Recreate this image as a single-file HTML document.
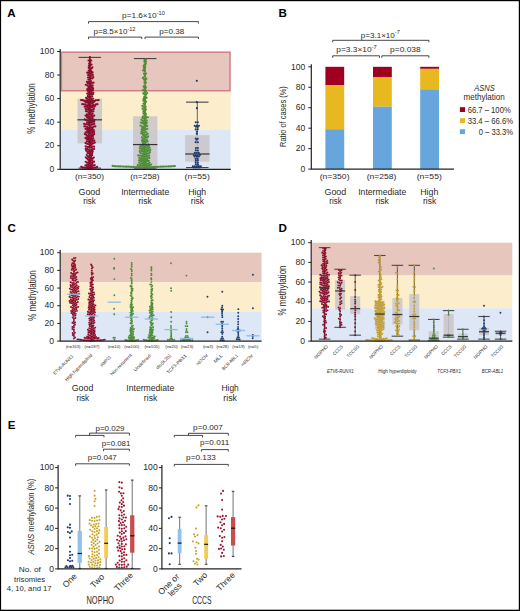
<!DOCTYPE html>
<html><head><meta charset="utf-8"><style>
html,body{margin:0;padding:0;background:#fff;}
svg{display:block;font-family:"Liberation Sans", sans-serif;}
</style></head><body>
<svg width="520" height="611" viewBox="0 0 520 611">
<rect width="520" height="611" fill="#fff"/>
<rect x="0" y="0" width="520" height="1.2" fill="#000"/>
<rect x="0" y="609.7" width="520" height="1.3" fill="#000"/>
<rect x="0" y="0" width="1.1" height="611" fill="#000"/>
<rect x="518.8" y="0" width="1.2" height="611" fill="#000"/>
<text x="7.2" y="16.8" font-size="11.6" fill="#000" font-weight="bold">A</text>
<rect x="60.8" y="90.73" width="169.8" height="39.35" fill="#fcedcc"/>
<rect x="60.8" y="130.07" width="169.8" height="39.23" fill="#dde7f5"/>
<rect x="61.4" y="52.2" width="168.6" height="38.53" fill="#e6c6bd" stroke="#d27d88" stroke-width="1.5"/>
<line x1="89.8" y1="57.39" x2="89.8" y2="168.12" stroke="#555" stroke-width="0.9"/>
<rect x="77.55" y="98.62" width="24.5" height="44.76" fill="#c9c4c8" fill-opacity="0.85"/>
<line x1="78.55" y1="57.39" x2="101.05" y2="57.39" stroke="#444" stroke-width="1.1"/>
<line x1="78.55" y1="168.12" x2="101.05" y2="168.12" stroke="#444" stroke-width="1.1"/>
<line x1="145.2" y1="58.57" x2="145.2" y2="168.12" stroke="#555" stroke-width="0.9"/>
<rect x="133.05" y="116.29" width="24.3" height="49.48" fill="#c9c4c8" fill-opacity="0.85"/>
<line x1="133.95" y1="58.57" x2="156.45" y2="58.57" stroke="#444" stroke-width="1.1"/>
<line x1="133.95" y1="168.12" x2="156.45" y2="168.12" stroke="#444" stroke-width="1.1"/>
<line x1="197.3" y1="102.15" x2="197.3" y2="167.53" stroke="#555" stroke-width="0.9"/>
<rect x="185.15" y="135.14" width="24.3" height="26.5" fill="#c9c4c8" fill-opacity="0.85"/>
<line x1="186.05" y1="102.15" x2="208.55" y2="102.15" stroke="#444" stroke-width="1.1"/>
<line x1="186.05" y1="167.53" x2="208.55" y2="167.53" stroke="#444" stroke-width="1.1"/>
<circle cx="89.9" cy="168.69" r="1.1" fill="#8a0a2a"/>
<circle cx="88.4" cy="168.62" r="1.1" fill="#8a0a2a"/>
<circle cx="91.38" cy="168.42" r="1.1" fill="#8a0a2a"/>
<circle cx="87.09" cy="167.89" r="1.1" fill="#8a0a2a"/>
<circle cx="92.75" cy="167.82" r="1.1" fill="#8a0a2a"/>
<circle cx="85.6" cy="167.76" r="1.1" fill="#8a0a2a"/>
<circle cx="94.23" cy="167.61" r="1.1" fill="#8a0a2a"/>
<circle cx="84.11" cy="167.57" r="1.1" fill="#8a0a2a"/>
<circle cx="95.73" cy="167.55" r="1.1" fill="#8a0a2a"/>
<circle cx="82.61" cy="167.44" r="1.1" fill="#8a0a2a"/>
<circle cx="89.23" cy="167.35" r="1.1" fill="#8a0a2a"/>
<circle cx="90.69" cy="167" r="1.1" fill="#8a0a2a"/>
<circle cx="97.11" cy="166.97" r="1.1" fill="#8a0a2a"/>
<circle cx="81.24" cy="166.85" r="1.1" fill="#8a0a2a"/>
<circle cx="88.23" cy="166.23" r="1.1" fill="#8a0a2a"/>
<circle cx="91.91" cy="166.13" r="1.1" fill="#8a0a2a"/>
<circle cx="86.74" cy="166.04" r="1.1" fill="#8a0a2a"/>
<circle cx="89.9" cy="165.57" r="1.1" fill="#8a0a2a"/>
<circle cx="93.26" cy="165.48" r="1.1" fill="#8a0a2a"/>
<circle cx="85.43" cy="165.32" r="1.1" fill="#8a0a2a"/>
<circle cx="94.7" cy="165.08" r="1.1" fill="#8a0a2a"/>
<circle cx="91.14" cy="164.73" r="1.1" fill="#8a0a2a"/>
<circle cx="88.72" cy="164.64" r="1.1" fill="#8a0a2a"/>
<circle cx="87.23" cy="164.49" r="1.1" fill="#8a0a2a"/>
<circle cx="92.35" cy="163.84" r="1.1" fill="#8a0a2a"/>
<circle cx="89.9" cy="163.34" r="1.1" fill="#8a0a2a"/>
<circle cx="88.46" cy="162.9" r="1.1" fill="#8a0a2a"/>
<circle cx="91.22" cy="162.62" r="1.1" fill="#8a0a2a"/>
<circle cx="87.01" cy="162.53" r="1.1" fill="#8a0a2a"/>
<circle cx="92.68" cy="162.31" r="1.1" fill="#8a0a2a"/>
<circle cx="89.66" cy="161.86" r="1.1" fill="#8a0a2a"/>
<circle cx="85.72" cy="161.77" r="1.1" fill="#8a0a2a"/>
<circle cx="94.05" cy="161.7" r="1.1" fill="#8a0a2a"/>
<circle cx="90.72" cy="160.8" r="1.1" fill="#8a0a2a"/>
<circle cx="88.78" cy="160.65" r="1.1" fill="#8a0a2a"/>
<circle cx="92.16" cy="160.38" r="1.1" fill="#8a0a2a"/>
<circle cx="89.9" cy="159.51" r="1.1" fill="#8a0a2a"/>
<circle cx="87.94" cy="159.4" r="1.1" fill="#8a0a2a"/>
<circle cx="91.29" cy="158.95" r="1.1" fill="#8a0a2a"/>
<circle cx="92.74" cy="158.54" r="1.1" fill="#8a0a2a"/>
<circle cx="86.89" cy="158.33" r="1.1" fill="#8a0a2a"/>
<circle cx="89.9" cy="157.71" r="1.1" fill="#8a0a2a"/>
<circle cx="88.41" cy="157.54" r="1.1" fill="#8a0a2a"/>
<circle cx="93.81" cy="157.5" r="1.1" fill="#8a0a2a"/>
<circle cx="91.36" cy="157.35" r="1.1" fill="#8a0a2a"/>
<circle cx="85.8" cy="157.31" r="1.1" fill="#8a0a2a"/>
<circle cx="89.33" cy="156.32" r="1.1" fill="#8a0a2a"/>
<circle cx="87.86" cy="156.01" r="1.1" fill="#8a0a2a"/>
<circle cx="90.79" cy="155.95" r="1.1" fill="#8a0a2a"/>
<circle cx="92.1" cy="155.22" r="1.1" fill="#8a0a2a"/>
<circle cx="86.76" cy="154.99" r="1.1" fill="#8a0a2a"/>
<circle cx="89.9" cy="154.47" r="1.1" fill="#8a0a2a"/>
<circle cx="91.29" cy="153.91" r="1.1" fill="#8a0a2a"/>
<circle cx="88.91" cy="153.35" r="1.1" fill="#8a0a2a"/>
<circle cx="87.45" cy="153" r="1.1" fill="#8a0a2a"/>
<circle cx="92.37" cy="152.87" r="1.1" fill="#8a0a2a"/>
<circle cx="90.2" cy="152.58" r="1.1" fill="#8a0a2a"/>
<circle cx="89" cy="151.67" r="1.1" fill="#8a0a2a"/>
<circle cx="91.22" cy="151.49" r="1.1" fill="#8a0a2a"/>
<circle cx="87.54" cy="151.35" r="1.1" fill="#8a0a2a"/>
<circle cx="92.69" cy="151.19" r="1.1" fill="#8a0a2a"/>
<circle cx="86.2" cy="150.67" r="1.1" fill="#8a0a2a"/>
<circle cx="89.9" cy="150.28" r="1.1" fill="#8a0a2a"/>
<circle cx="91.35" cy="149.9" r="1.1" fill="#8a0a2a"/>
<circle cx="88.59" cy="149.56" r="1.1" fill="#8a0a2a"/>
<circle cx="92.56" cy="149.02" r="1.1" fill="#8a0a2a"/>
<circle cx="87.21" cy="148.96" r="1.1" fill="#8a0a2a"/>
<circle cx="94.06" cy="148.95" r="1.1" fill="#8a0a2a"/>
<circle cx="85.71" cy="148.9" r="1.1" fill="#8a0a2a"/>
<circle cx="89.9" cy="147.61" r="1.1" fill="#8a0a2a"/>
<circle cx="91.39" cy="147.45" r="1.1" fill="#8a0a2a"/>
<circle cx="88.6" cy="146.87" r="1.1" fill="#8a0a2a"/>
<circle cx="87.1" cy="146.79" r="1.1" fill="#8a0a2a"/>
<circle cx="92.59" cy="146.55" r="1.1" fill="#8a0a2a"/>
<circle cx="94.09" cy="146.53" r="1.1" fill="#8a0a2a"/>
<circle cx="85.65" cy="146.39" r="1.1" fill="#8a0a2a"/>
<circle cx="89.9" cy="145.93" r="1.1" fill="#8a0a2a"/>
<circle cx="91.11" cy="145.04" r="1.1" fill="#8a0a2a"/>
<circle cx="89.8" cy="144.31" r="1.1" fill="#8a0a2a"/>
<circle cx="88.3" cy="144.23" r="1.1" fill="#8a0a2a"/>
<circle cx="92.14" cy="143.95" r="1.1" fill="#8a0a2a"/>
<circle cx="86.92" cy="143.65" r="1.1" fill="#8a0a2a"/>
<circle cx="93.46" cy="143.23" r="1.1" fill="#8a0a2a"/>
<circle cx="90.64" cy="143.06" r="1.1" fill="#8a0a2a"/>
<circle cx="85.54" cy="143.05" r="1.1" fill="#8a0a2a"/>
<circle cx="89.17" cy="142.79" r="1.1" fill="#8a0a2a"/>
<circle cx="94.79" cy="142.54" r="1.1" fill="#8a0a2a"/>
<circle cx="91.75" cy="142.05" r="1.1" fill="#8a0a2a"/>
<circle cx="90.1" cy="141.62" r="1.1" fill="#8a0a2a"/>
<circle cx="88.23" cy="141.61" r="1.1" fill="#8a0a2a"/>
<circle cx="86.76" cy="141.36" r="1.1" fill="#8a0a2a"/>
<circle cx="92.77" cy="140.95" r="1.1" fill="#8a0a2a"/>
<circle cx="94.24" cy="140.66" r="1.1" fill="#8a0a2a"/>
<circle cx="89.27" cy="140.37" r="1.1" fill="#8a0a2a"/>
<circle cx="90.75" cy="140.1" r="1.1" fill="#8a0a2a"/>
<circle cx="87.94" cy="139.68" r="1.1" fill="#8a0a2a"/>
<circle cx="92.14" cy="139.56" r="1.1" fill="#8a0a2a"/>
<circle cx="86.59" cy="139.01" r="1.1" fill="#8a0a2a"/>
<circle cx="89.9" cy="138.68" r="1.1" fill="#8a0a2a"/>
<circle cx="93.17" cy="138.47" r="1.1" fill="#8a0a2a"/>
<circle cx="91.32" cy="138.18" r="1.1" fill="#8a0a2a"/>
<circle cx="88.5" cy="138.14" r="1.1" fill="#8a0a2a"/>
<circle cx="85.51" cy="137.97" r="1.1" fill="#8a0a2a"/>
<circle cx="87.13" cy="137.52" r="1.1" fill="#8a0a2a"/>
<circle cx="89.9" cy="137.12" r="1.1" fill="#8a0a2a"/>
<circle cx="91.77" cy="136.75" r="1.1" fill="#8a0a2a"/>
<circle cx="88.67" cy="136.27" r="1.1" fill="#8a0a2a"/>
<circle cx="87.19" cy="135.97" r="1.1" fill="#8a0a2a"/>
<circle cx="93.01" cy="135.91" r="1.1" fill="#8a0a2a"/>
<circle cx="89.9" cy="135.41" r="1.1" fill="#8a0a2a"/>
<circle cx="91.37" cy="135.09" r="1.1" fill="#8a0a2a"/>
<circle cx="86.18" cy="134.87" r="1.1" fill="#8a0a2a"/>
<circle cx="88.56" cy="134.73" r="1.1" fill="#8a0a2a"/>
<circle cx="92.71" cy="134.42" r="1.1" fill="#8a0a2a"/>
<circle cx="94.18" cy="134.14" r="1.1" fill="#8a0a2a"/>
<circle cx="84.92" cy="134.05" r="1.1" fill="#8a0a2a"/>
<circle cx="89.9" cy="133.5" r="1.1" fill="#8a0a2a"/>
<circle cx="91.31" cy="133" r="1.1" fill="#8a0a2a"/>
<circle cx="88.57" cy="132.8" r="1.1" fill="#8a0a2a"/>
<circle cx="87.08" cy="132.7" r="1.1" fill="#8a0a2a"/>
<circle cx="92.71" cy="132.44" r="1.1" fill="#8a0a2a"/>
<circle cx="85.61" cy="132.41" r="1.1" fill="#8a0a2a"/>
<circle cx="89.9" cy="131.93" r="1.1" fill="#8a0a2a"/>
<circle cx="94.11" cy="131.92" r="1.1" fill="#8a0a2a"/>
<circle cx="88.64" cy="131.11" r="1.1" fill="#8a0a2a"/>
<circle cx="91.1" cy="131.02" r="1.1" fill="#8a0a2a"/>
<circle cx="92.59" cy="130.86" r="1.1" fill="#8a0a2a"/>
<circle cx="87.18" cy="130.78" r="1.1" fill="#8a0a2a"/>
<circle cx="89.84" cy="130.2" r="1.1" fill="#8a0a2a"/>
<circle cx="93.81" cy="129.99" r="1.1" fill="#8a0a2a"/>
<circle cx="88.31" cy="129.64" r="1.1" fill="#8a0a2a"/>
<circle cx="91.11" cy="129.4" r="1.1" fill="#8a0a2a"/>
<circle cx="92.51" cy="128.86" r="1.1" fill="#8a0a2a"/>
<circle cx="87.04" cy="128.85" r="1.1" fill="#8a0a2a"/>
<circle cx="85.54" cy="128.81" r="1.1" fill="#8a0a2a"/>
<circle cx="89.9" cy="128.24" r="1.1" fill="#8a0a2a"/>
<circle cx="88.43" cy="127.96" r="1.1" fill="#8a0a2a"/>
<circle cx="91.1" cy="127.34" r="1.1" fill="#8a0a2a"/>
<circle cx="92.6" cy="127.31" r="1.1" fill="#8a0a2a"/>
<circle cx="87.22" cy="127.06" r="1.1" fill="#8a0a2a"/>
<circle cx="89.73" cy="126.73" r="1.1" fill="#8a0a2a"/>
<circle cx="93.88" cy="126.53" r="1.1" fill="#8a0a2a"/>
<circle cx="85.84" cy="126.49" r="1.1" fill="#8a0a2a"/>
<circle cx="95.37" cy="126.35" r="1.1" fill="#8a0a2a"/>
<circle cx="84.34" cy="126.34" r="1.1" fill="#8a0a2a"/>
<circle cx="89.9" cy="125.17" r="1.1" fill="#8a0a2a"/>
<circle cx="88.44" cy="124.84" r="1.1" fill="#8a0a2a"/>
<circle cx="91.31" cy="124.66" r="1.1" fill="#8a0a2a"/>
<circle cx="92.8" cy="124.47" r="1.1" fill="#8a0a2a"/>
<circle cx="87.04" cy="124.29" r="1.1" fill="#8a0a2a"/>
<circle cx="85.54" cy="124.24" r="1.1" fill="#8a0a2a"/>
<circle cx="94.21" cy="123.96" r="1.1" fill="#8a0a2a"/>
<circle cx="84.11" cy="123.8" r="1.1" fill="#8a0a2a"/>
<circle cx="89.9" cy="122.92" r="1.1" fill="#8a0a2a"/>
<circle cx="88.4" cy="122.91" r="1.1" fill="#8a0a2a"/>
<circle cx="91.39" cy="122.72" r="1.1" fill="#8a0a2a"/>
<circle cx="87.05" cy="122.27" r="1.1" fill="#8a0a2a"/>
<circle cx="92.68" cy="121.96" r="1.1" fill="#8a0a2a"/>
<circle cx="94.17" cy="121.77" r="1.1" fill="#8a0a2a"/>
<circle cx="90.35" cy="121.49" r="1.1" fill="#8a0a2a"/>
<circle cx="88.96" cy="120.94" r="1.1" fill="#8a0a2a"/>
<circle cx="91.7" cy="120.82" r="1.1" fill="#8a0a2a"/>
<circle cx="87.52" cy="120.51" r="1.1" fill="#8a0a2a"/>
<circle cx="93.15" cy="120.45" r="1.1" fill="#8a0a2a"/>
<circle cx="86.08" cy="120.09" r="1.1" fill="#8a0a2a"/>
<circle cx="90.01" cy="119.87" r="1.1" fill="#8a0a2a"/>
<circle cx="94.5" cy="119.8" r="1.1" fill="#8a0a2a"/>
<circle cx="84.73" cy="119.44" r="1.1" fill="#8a0a2a"/>
<circle cx="89.78" cy="118.39" r="1.1" fill="#8a0a2a"/>
<circle cx="91.28" cy="118.37" r="1.1" fill="#8a0a2a"/>
<circle cx="88.31" cy="118.1" r="1.1" fill="#8a0a2a"/>
<circle cx="92.75" cy="118.09" r="1.1" fill="#8a0a2a"/>
<circle cx="86.99" cy="117.39" r="1.1" fill="#8a0a2a"/>
<circle cx="89.9" cy="116.75" r="1.1" fill="#8a0a2a"/>
<circle cx="88.44" cy="116.39" r="1.1" fill="#8a0a2a"/>
<circle cx="91.33" cy="116.31" r="1.1" fill="#8a0a2a"/>
<circle cx="92.82" cy="116.1" r="1.1" fill="#8a0a2a"/>
<circle cx="87.05" cy="115.83" r="1.1" fill="#8a0a2a"/>
<circle cx="85.57" cy="115.6" r="1.1" fill="#8a0a2a"/>
<circle cx="94.21" cy="115.54" r="1.1" fill="#8a0a2a"/>
<circle cx="89.9" cy="114.74" r="1.1" fill="#8a0a2a"/>
<circle cx="91.36" cy="114.38" r="1.1" fill="#8a0a2a"/>
<circle cx="88.45" cy="114.36" r="1.1" fill="#8a0a2a"/>
<circle cx="86.95" cy="114.24" r="1.1" fill="#8a0a2a"/>
<circle cx="92.66" cy="113.64" r="1.1" fill="#8a0a2a"/>
<circle cx="89.9" cy="113.21" r="1.1" fill="#8a0a2a"/>
<circle cx="88.76" cy="112.24" r="1.1" fill="#8a0a2a"/>
<circle cx="90.48" cy="111.82" r="1.1" fill="#8a0a2a"/>
<circle cx="91.98" cy="111.75" r="1.1" fill="#8a0a2a"/>
<circle cx="87.44" cy="111.52" r="1.1" fill="#8a0a2a"/>
<circle cx="93.4" cy="111.27" r="1.1" fill="#8a0a2a"/>
<circle cx="85.99" cy="111.13" r="1.1" fill="#8a0a2a"/>
<circle cx="89.68" cy="110.56" r="1.1" fill="#8a0a2a"/>
<circle cx="91.12" cy="110.12" r="1.1" fill="#8a0a2a"/>
<circle cx="88.36" cy="109.85" r="1.1" fill="#8a0a2a"/>
<circle cx="92.56" cy="109.71" r="1.1" fill="#8a0a2a"/>
<circle cx="86.98" cy="109.26" r="1.1" fill="#8a0a2a"/>
<circle cx="89.93" cy="109.08" r="1.1" fill="#8a0a2a"/>
<circle cx="93.81" cy="108.88" r="1.1" fill="#8a0a2a"/>
<circle cx="85.55" cy="108.81" r="1.1" fill="#8a0a2a"/>
<circle cx="88.61" cy="108.36" r="1.1" fill="#8a0a2a"/>
<circle cx="89.9" cy="107.57" r="1.1" fill="#8a0a2a"/>
<circle cx="91.39" cy="107.39" r="1.1" fill="#8a0a2a"/>
<circle cx="87.63" cy="107.22" r="1.1" fill="#8a0a2a"/>
<circle cx="92.79" cy="106.85" r="1.1" fill="#8a0a2a"/>
<circle cx="86.2" cy="106.77" r="1.1" fill="#8a0a2a"/>
<circle cx="94.28" cy="106.71" r="1.1" fill="#8a0a2a"/>
<circle cx="84.7" cy="106.69" r="1.1" fill="#8a0a2a"/>
<circle cx="89.31" cy="106.19" r="1.1" fill="#8a0a2a"/>
<circle cx="90.78" cy="105.91" r="1.1" fill="#8a0a2a"/>
<circle cx="87.92" cy="105.62" r="1.1" fill="#8a0a2a"/>
<circle cx="95.26" cy="105.57" r="1.1" fill="#8a0a2a"/>
<circle cx="92.16" cy="105.32" r="1.1" fill="#8a0a2a"/>
<circle cx="86.46" cy="105.28" r="1.1" fill="#8a0a2a"/>
<circle cx="93.57" cy="104.81" r="1.1" fill="#8a0a2a"/>
<circle cx="89.9" cy="104.54" r="1.1" fill="#8a0a2a"/>
<circle cx="85.26" cy="104.38" r="1.1" fill="#8a0a2a"/>
<circle cx="95.94" cy="104.23" r="1.1" fill="#8a0a2a"/>
<circle cx="83.77" cy="104.23" r="1.1" fill="#8a0a2a"/>
<circle cx="88.44" cy="104.18" r="1.1" fill="#8a0a2a"/>
<circle cx="97.44" cy="104.14" r="1.1" fill="#8a0a2a"/>
<circle cx="82.27" cy="104.13" r="1.1" fill="#8a0a2a"/>
<circle cx="90.84" cy="103.37" r="1.1" fill="#8a0a2a"/>
<circle cx="92.34" cy="103.32" r="1.1" fill="#8a0a2a"/>
<circle cx="89.41" cy="102.92" r="1.1" fill="#8a0a2a"/>
<circle cx="87.95" cy="102.57" r="1.1" fill="#8a0a2a"/>
<circle cx="86.46" cy="102.38" r="1.1" fill="#8a0a2a"/>
<circle cx="93.5" cy="102.37" r="1.1" fill="#8a0a2a"/>
<circle cx="90.49" cy="101.88" r="1.1" fill="#8a0a2a"/>
<circle cx="91.99" cy="101.83" r="1.1" fill="#8a0a2a"/>
<circle cx="85.17" cy="101.63" r="1.1" fill="#8a0a2a"/>
<circle cx="89.09" cy="101.33" r="1.1" fill="#8a0a2a"/>
<circle cx="94.44" cy="101.2" r="1.1" fill="#8a0a2a"/>
<circle cx="87.61" cy="101.1" r="1.1" fill="#8a0a2a"/>
<circle cx="92.95" cy="100.68" r="1.1" fill="#8a0a2a"/>
<circle cx="84.02" cy="100.66" r="1.1" fill="#8a0a2a"/>
<circle cx="91.15" cy="100.53" r="1.1" fill="#8a0a2a"/>
<circle cx="86.27" cy="100.42" r="1.1" fill="#8a0a2a"/>
<circle cx="95.64" cy="100.31" r="1.1" fill="#8a0a2a"/>
<circle cx="97.14" cy="100.25" r="1.1" fill="#8a0a2a"/>
<circle cx="82.6" cy="100.17" r="1.1" fill="#8a0a2a"/>
<circle cx="98.64" cy="100.12" r="1.1" fill="#8a0a2a"/>
<circle cx="81.11" cy="100.03" r="1.1" fill="#8a0a2a"/>
<circle cx="89.78" cy="99.91" r="1.1" fill="#8a0a2a"/>
<circle cx="88.29" cy="99.76" r="1.1" fill="#8a0a2a"/>
<circle cx="91.52" cy="99.08" r="1.1" fill="#8a0a2a"/>
<circle cx="87.28" cy="98.65" r="1.1" fill="#8a0a2a"/>
<circle cx="92.94" cy="98.6" r="1.1" fill="#8a0a2a"/>
<circle cx="89.9" cy="98.1" r="1.1" fill="#8a0a2a"/>
<circle cx="86.06" cy="97.79" r="1.1" fill="#8a0a2a"/>
<circle cx="88.57" cy="97.4" r="1.1" fill="#8a0a2a"/>
<circle cx="90.87" cy="96.96" r="1.1" fill="#8a0a2a"/>
<circle cx="92.21" cy="96.27" r="1.1" fill="#8a0a2a"/>
<circle cx="89.58" cy="96.19" r="1.1" fill="#8a0a2a"/>
<circle cx="87.76" cy="96.14" r="1.1" fill="#8a0a2a"/>
<circle cx="89.9" cy="94.58" r="1.1" fill="#8a0a2a"/>
<circle cx="91.4" cy="94.57" r="1.1" fill="#8a0a2a"/>
<circle cx="88.41" cy="94.42" r="1.1" fill="#8a0a2a"/>
<circle cx="92.86" cy="94.22" r="1.1" fill="#8a0a2a"/>
<circle cx="87.21" cy="93.51" r="1.1" fill="#8a0a2a"/>
<circle cx="89.9" cy="93.08" r="1.1" fill="#8a0a2a"/>
<circle cx="91.4" cy="92.99" r="1.1" fill="#8a0a2a"/>
<circle cx="93.35" cy="92.8" r="1.1" fill="#8a0a2a"/>
<circle cx="88.66" cy="92.23" r="1.1" fill="#8a0a2a"/>
<circle cx="90.32" cy="91.64" r="1.1" fill="#8a0a2a"/>
<circle cx="91.73" cy="91.12" r="1.1" fill="#8a0a2a"/>
<circle cx="89.1" cy="90.76" r="1.1" fill="#8a0a2a"/>
<circle cx="87.6" cy="90.7" r="1.1" fill="#8a0a2a"/>
<circle cx="92.95" cy="90.26" r="1.1" fill="#8a0a2a"/>
<circle cx="90.44" cy="90.1" r="1.1" fill="#8a0a2a"/>
<circle cx="88.76" cy="89.3" r="1.1" fill="#8a0a2a"/>
<circle cx="91.69" cy="89.26" r="1.1" fill="#8a0a2a"/>
<circle cx="87.26" cy="89.21" r="1.1" fill="#8a0a2a"/>
<circle cx="93.1" cy="88.76" r="1.1" fill="#8a0a2a"/>
<circle cx="89.9" cy="88.27" r="1.1" fill="#8a0a2a"/>
<circle cx="88.5" cy="87.74" r="1.1" fill="#8a0a2a"/>
<circle cx="91.11" cy="87.39" r="1.1" fill="#8a0a2a"/>
<circle cx="92.61" cy="87.34" r="1.1" fill="#8a0a2a"/>
<circle cx="89.9" cy="86.46" r="1.1" fill="#8a0a2a"/>
<circle cx="88.42" cy="86.24" r="1.1" fill="#8a0a2a"/>
<circle cx="91.28" cy="85.87" r="1.1" fill="#8a0a2a"/>
<circle cx="87.2" cy="85.36" r="1.1" fill="#8a0a2a"/>
<circle cx="92.64" cy="85.24" r="1.1" fill="#8a0a2a"/>
<circle cx="89.9" cy="84.93" r="1.1" fill="#8a0a2a"/>
<circle cx="85.83" cy="84.76" r="1.1" fill="#8a0a2a"/>
<circle cx="90.87" cy="83.78" r="1.1" fill="#8a0a2a"/>
<circle cx="88.96" cy="83.76" r="1.1" fill="#8a0a2a"/>
<circle cx="87.62" cy="83.08" r="1.1" fill="#8a0a2a"/>
<circle cx="92.02" cy="82.82" r="1.1" fill="#8a0a2a"/>
<circle cx="93.51" cy="82.7" r="1.1" fill="#8a0a2a"/>
<circle cx="89.9" cy="82" r="1.1" fill="#8a0a2a"/>
<circle cx="88.41" cy="81.8" r="1.1" fill="#8a0a2a"/>
<circle cx="86.89" cy="81.77" r="1.1" fill="#8a0a2a"/>
<circle cx="91.02" cy="81" r="1.1" fill="#8a0a2a"/>
<circle cx="89.9" cy="79.62" r="1.1" fill="#8a0a2a"/>
<circle cx="88.4" cy="79.61" r="1.1" fill="#8a0a2a"/>
<circle cx="90.82" cy="78.43" r="1.1" fill="#8a0a2a"/>
<circle cx="92.32" cy="78.43" r="1.1" fill="#8a0a2a"/>
<circle cx="89.52" cy="77.68" r="1.1" fill="#8a0a2a"/>
<circle cx="88.03" cy="77.48" r="1.1" fill="#8a0a2a"/>
<circle cx="93.21" cy="77.22" r="1.1" fill="#8a0a2a"/>
<circle cx="90.64" cy="76.69" r="1.1" fill="#8a0a2a"/>
<circle cx="89.51" cy="75.7" r="1.1" fill="#8a0a2a"/>
<circle cx="91.36" cy="75.37" r="1.1" fill="#8a0a2a"/>
<circle cx="88.12" cy="75.15" r="1.1" fill="#8a0a2a"/>
<circle cx="92.79" cy="74.94" r="1.1" fill="#8a0a2a"/>
<circle cx="89.9" cy="73.78" r="1.1" fill="#8a0a2a"/>
<circle cx="91.26" cy="73.15" r="1.1" fill="#8a0a2a"/>
<circle cx="88.72" cy="72.85" r="1.1" fill="#8a0a2a"/>
<circle cx="87.23" cy="72.67" r="1.1" fill="#8a0a2a"/>
<circle cx="92.6" cy="72.47" r="1.1" fill="#8a0a2a"/>
<circle cx="89.9" cy="71.65" r="1.1" fill="#8a0a2a"/>
<circle cx="91.38" cy="71.39" r="1.1" fill="#8a0a2a"/>
<circle cx="88.74" cy="70.69" r="1.1" fill="#8a0a2a"/>
<circle cx="90.42" cy="70.24" r="1.1" fill="#8a0a2a"/>
<circle cx="89.9" cy="68.79" r="1.1" fill="#8a0a2a"/>
<circle cx="91.38" cy="68.54" r="1.1" fill="#8a0a2a"/>
<circle cx="88.72" cy="67.87" r="1.1" fill="#8a0a2a"/>
<circle cx="92.35" cy="67.4" r="1.1" fill="#8a0a2a"/>
<circle cx="89.9" cy="66.82" r="1.1" fill="#8a0a2a"/>
<circle cx="88.84" cy="65.75" r="1.1" fill="#8a0a2a"/>
<circle cx="90.07" cy="64.88" r="1.1" fill="#8a0a2a"/>
<circle cx="91.54" cy="64.61" r="1.1" fill="#8a0a2a"/>
<circle cx="89.14" cy="63.7" r="1.1" fill="#8a0a2a"/>
<circle cx="90.22" cy="62.66" r="1.1" fill="#8a0a2a"/>
<circle cx="89.9" cy="61.11" r="1.1" fill="#8a0a2a"/>
<circle cx="88.52" cy="60.52" r="1.1" fill="#8a0a2a"/>
<circle cx="91.27" cy="60.51" r="1.1" fill="#8a0a2a"/>
<circle cx="89.9" cy="59.05" r="1.1" fill="#8a0a2a"/>
<circle cx="89.9" cy="57.06" r="1.1" fill="#8a0a2a"/>
<circle cx="144.5" cy="167.51" r="1.1" fill="#4d8c34"/>
<circle cx="146.09" cy="167.3" r="1.1" fill="#4d8c34"/>
<circle cx="142.92" cy="167.23" r="1.1" fill="#4d8c34"/>
<circle cx="141.32" cy="167.23" r="1.1" fill="#4d8c34"/>
<circle cx="147.68" cy="167.21" r="1.1" fill="#4d8c34"/>
<circle cx="139.73" cy="167.16" r="1.1" fill="#4d8c34"/>
<circle cx="149.28" cy="167.16" r="1.1" fill="#4d8c34"/>
<circle cx="138.13" cy="167.13" r="1.1" fill="#4d8c34"/>
<circle cx="150.88" cy="167.11" r="1.1" fill="#4d8c34"/>
<circle cx="136.53" cy="167.05" r="1.1" fill="#4d8c34"/>
<circle cx="152.48" cy="167.03" r="1.1" fill="#4d8c34"/>
<circle cx="134.93" cy="167.03" r="1.1" fill="#4d8c34"/>
<circle cx="154.08" cy="166.97" r="1.1" fill="#4d8c34"/>
<circle cx="133.33" cy="166.96" r="1.1" fill="#4d8c34"/>
<circle cx="155.68" cy="166.94" r="1.1" fill="#4d8c34"/>
<circle cx="131.73" cy="166.92" r="1.1" fill="#4d8c34"/>
<circle cx="157.28" cy="166.89" r="1.1" fill="#4d8c34"/>
<circle cx="130.13" cy="166.81" r="1.1" fill="#4d8c34"/>
<circle cx="158.87" cy="166.73" r="1.1" fill="#4d8c34"/>
<circle cx="128.54" cy="166.72" r="1.1" fill="#4d8c34"/>
<circle cx="160.47" cy="166.68" r="1.1" fill="#4d8c34"/>
<circle cx="126.94" cy="166.67" r="1.1" fill="#4d8c34"/>
<circle cx="162.07" cy="166.66" r="1.1" fill="#4d8c34"/>
<circle cx="125.34" cy="166.66" r="1.1" fill="#4d8c34"/>
<circle cx="163.67" cy="166.62" r="1.1" fill="#4d8c34"/>
<circle cx="123.74" cy="166.61" r="1.1" fill="#4d8c34"/>
<circle cx="165.27" cy="166.53" r="1.1" fill="#4d8c34"/>
<circle cx="122.14" cy="166.49" r="1.1" fill="#4d8c34"/>
<circle cx="166.87" cy="166.48" r="1.1" fill="#4d8c34"/>
<circle cx="120.54" cy="166.47" r="1.1" fill="#4d8c34"/>
<circle cx="168.46" cy="166.44" r="1.1" fill="#4d8c34"/>
<circle cx="118.94" cy="166.42" r="1.1" fill="#4d8c34"/>
<circle cx="170.06" cy="166.42" r="1.1" fill="#4d8c34"/>
<circle cx="117.34" cy="166.37" r="1.1" fill="#4d8c34"/>
<circle cx="171.66" cy="166.34" r="1.1" fill="#4d8c34"/>
<circle cx="115.74" cy="166.3" r="1.1" fill="#4d8c34"/>
<circle cx="173.26" cy="166.21" r="1.1" fill="#4d8c34"/>
<circle cx="114.15" cy="166.2" r="1.1" fill="#4d8c34"/>
<circle cx="174.85" cy="166.04" r="1.1" fill="#4d8c34"/>
<circle cx="144.09" cy="165.96" r="1.1" fill="#4d8c34"/>
<circle cx="112.57" cy="165.92" r="1.1" fill="#4d8c34"/>
<circle cx="146.58" cy="165.78" r="1.1" fill="#4d8c34"/>
<circle cx="142.55" cy="165.53" r="1.1" fill="#4d8c34"/>
<circle cx="140.95" cy="165.47" r="1.1" fill="#4d8c34"/>
<circle cx="148.14" cy="165.44" r="1.1" fill="#4d8c34"/>
<circle cx="139.36" cy="165.31" r="1.1" fill="#4d8c34"/>
<circle cx="149.73" cy="165.21" r="1.1" fill="#4d8c34"/>
<circle cx="137.76" cy="165.2" r="1.1" fill="#4d8c34"/>
<circle cx="145.15" cy="164.76" r="1.1" fill="#4d8c34"/>
<circle cx="151.17" cy="164.53" r="1.1" fill="#4d8c34"/>
<circle cx="143.61" cy="164.3" r="1.1" fill="#4d8c34"/>
<circle cx="146.6" cy="164.1" r="1.1" fill="#4d8c34"/>
<circle cx="142.11" cy="163.75" r="1.1" fill="#4d8c34"/>
<circle cx="148.11" cy="163.55" r="1.1" fill="#4d8c34"/>
<circle cx="140.52" cy="163.55" r="1.1" fill="#4d8c34"/>
<circle cx="144.75" cy="163.17" r="1.1" fill="#4d8c34"/>
<circle cx="149.52" cy="162.81" r="1.1" fill="#4d8c34"/>
<circle cx="139.15" cy="162.72" r="1.1" fill="#4d8c34"/>
<circle cx="143.37" cy="162.36" r="1.1" fill="#4d8c34"/>
<circle cx="145.95" cy="162.12" r="1.1" fill="#4d8c34"/>
<circle cx="141.85" cy="161.85" r="1.1" fill="#4d8c34"/>
<circle cx="144.55" cy="161.29" r="1.1" fill="#4d8c34"/>
<circle cx="147.23" cy="161.15" r="1.1" fill="#4d8c34"/>
<circle cx="140.51" cy="160.98" r="1.1" fill="#4d8c34"/>
<circle cx="148.8" cy="160.86" r="1.1" fill="#4d8c34"/>
<circle cx="143.3" cy="160.29" r="1.1" fill="#4d8c34"/>
<circle cx="145.8" cy="160.29" r="1.1" fill="#4d8c34"/>
<circle cx="139.09" cy="160.24" r="1.1" fill="#4d8c34"/>
<circle cx="141.75" cy="159.92" r="1.1" fill="#4d8c34"/>
<circle cx="147.19" cy="159.49" r="1.1" fill="#4d8c34"/>
<circle cx="144.5" cy="159.16" r="1.1" fill="#4d8c34"/>
<circle cx="140.51" cy="158.9" r="1.1" fill="#4d8c34"/>
<circle cx="143.09" cy="158.41" r="1.1" fill="#4d8c34"/>
<circle cx="145.86" cy="158.32" r="1.1" fill="#4d8c34"/>
<circle cx="147.74" cy="157.99" r="1.1" fill="#4d8c34"/>
<circle cx="149.34" cy="157.88" r="1.1" fill="#4d8c34"/>
<circle cx="139.32" cy="157.83" r="1.1" fill="#4d8c34"/>
<circle cx="141.66" cy="157.68" r="1.1" fill="#4d8c34"/>
<circle cx="144.5" cy="156.8" r="1.1" fill="#4d8c34"/>
<circle cx="146.09" cy="156.59" r="1.1" fill="#4d8c34"/>
<circle cx="143.02" cy="156.2" r="1.1" fill="#4d8c34"/>
<circle cx="141.43" cy="156" r="1.1" fill="#4d8c34"/>
<circle cx="147.57" cy="155.98" r="1.1" fill="#4d8c34"/>
<circle cx="149.14" cy="155.7" r="1.1" fill="#4d8c34"/>
<circle cx="139.91" cy="155.5" r="1.1" fill="#4d8c34"/>
<circle cx="138.31" cy="155.45" r="1.1" fill="#4d8c34"/>
<circle cx="144.5" cy="154.78" r="1.1" fill="#4d8c34"/>
<circle cx="146.1" cy="154.71" r="1.1" fill="#4d8c34"/>
<circle cx="142.94" cy="154.41" r="1.1" fill="#4d8c34"/>
<circle cx="147.38" cy="153.75" r="1.1" fill="#4d8c34"/>
<circle cx="141.64" cy="153.48" r="1.1" fill="#4d8c34"/>
<circle cx="148.94" cy="153.4" r="1.1" fill="#4d8c34"/>
<circle cx="145.07" cy="153.29" r="1.1" fill="#4d8c34"/>
<circle cx="143.56" cy="152.77" r="1.1" fill="#4d8c34"/>
<circle cx="140.22" cy="152.75" r="1.1" fill="#4d8c34"/>
<circle cx="146.39" cy="152.38" r="1.1" fill="#4d8c34"/>
<circle cx="149.92" cy="152.13" r="1.1" fill="#4d8c34"/>
<circle cx="144.51" cy="151.48" r="1.1" fill="#4d8c34"/>
<circle cx="142.92" cy="151.27" r="1.1" fill="#4d8c34"/>
<circle cx="147.43" cy="151.17" r="1.1" fill="#4d8c34"/>
<circle cx="141.34" cy="151.04" r="1.1" fill="#4d8c34"/>
<circle cx="139.74" cy="150.98" r="1.1" fill="#4d8c34"/>
<circle cx="145.78" cy="150.51" r="1.1" fill="#4d8c34"/>
<circle cx="148.84" cy="150.4" r="1.1" fill="#4d8c34"/>
<circle cx="144.24" cy="149.9" r="1.1" fill="#4d8c34"/>
<circle cx="150.33" cy="149.84" r="1.1" fill="#4d8c34"/>
<circle cx="142.74" cy="149.35" r="1.1" fill="#4d8c34"/>
<circle cx="146.78" cy="149.26" r="1.1" fill="#4d8c34"/>
<circle cx="141.17" cy="149.07" r="1.1" fill="#4d8c34"/>
<circle cx="144.76" cy="148.39" r="1.1" fill="#4d8c34"/>
<circle cx="148.09" cy="148.35" r="1.1" fill="#4d8c34"/>
<circle cx="139.77" cy="148.28" r="1.1" fill="#4d8c34"/>
<circle cx="143.27" cy="147.8" r="1.1" fill="#4d8c34"/>
<circle cx="149.59" cy="147.77" r="1.1" fill="#4d8c34"/>
<circle cx="145.93" cy="147.3" r="1.1" fill="#4d8c34"/>
<circle cx="141.87" cy="147.02" r="1.1" fill="#4d8c34"/>
<circle cx="144.49" cy="146.62" r="1.1" fill="#4d8c34"/>
<circle cx="147.37" cy="146.6" r="1.1" fill="#4d8c34"/>
<circle cx="140.34" cy="146.55" r="1.1" fill="#4d8c34"/>
<circle cx="148.83" cy="145.95" r="1.1" fill="#4d8c34"/>
<circle cx="143.04" cy="145.93" r="1.1" fill="#4d8c34"/>
<circle cx="145.37" cy="145.28" r="1.1" fill="#4d8c34"/>
<circle cx="146.95" cy="145.01" r="1.1" fill="#4d8c34"/>
<circle cx="141.86" cy="144.85" r="1.1" fill="#4d8c34"/>
<circle cx="140.26" cy="144.77" r="1.1" fill="#4d8c34"/>
<circle cx="144.06" cy="144.36" r="1.1" fill="#4d8c34"/>
<circle cx="148.36" cy="144.25" r="1.1" fill="#4d8c34"/>
<circle cx="145.19" cy="143.23" r="1.1" fill="#4d8c34"/>
<circle cx="143.04" cy="143.13" r="1.1" fill="#4d8c34"/>
<circle cx="146.45" cy="142.24" r="1.1" fill="#4d8c34"/>
<circle cx="144.32" cy="141.88" r="1.1" fill="#4d8c34"/>
<circle cx="142.49" cy="141.63" r="1.1" fill="#4d8c34"/>
<circle cx="147.69" cy="141.24" r="1.1" fill="#4d8c34"/>
<circle cx="145.51" cy="140.81" r="1.1" fill="#4d8c34"/>
<circle cx="143.58" cy="140.46" r="1.1" fill="#4d8c34"/>
<circle cx="142.03" cy="140.09" r="1.1" fill="#4d8c34"/>
<circle cx="146.79" cy="139.84" r="1.1" fill="#4d8c34"/>
<circle cx="144.5" cy="138.98" r="1.1" fill="#4d8c34"/>
<circle cx="143.02" cy="138.37" r="1.1" fill="#4d8c34"/>
<circle cx="145.46" cy="137.71" r="1.1" fill="#4d8c34"/>
<circle cx="147.06" cy="137.62" r="1.1" fill="#4d8c34"/>
<circle cx="141.89" cy="137.24" r="1.1" fill="#4d8c34"/>
<circle cx="144.29" cy="136.62" r="1.1" fill="#4d8c34"/>
<circle cx="148.1" cy="136.4" r="1.1" fill="#4d8c34"/>
<circle cx="145.77" cy="136.03" r="1.1" fill="#4d8c34"/>
<circle cx="143.25" cy="135.41" r="1.1" fill="#4d8c34"/>
<circle cx="144.62" cy="134.58" r="1.1" fill="#4d8c34"/>
<circle cx="146.4" cy="134.56" r="1.1" fill="#4d8c34"/>
<circle cx="142.69" cy="133.91" r="1.1" fill="#4d8c34"/>
<circle cx="147.7" cy="133.63" r="1.1" fill="#4d8c34"/>
<circle cx="141.19" cy="133.35" r="1.1" fill="#4d8c34"/>
<circle cx="144.5" cy="132.56" r="1.1" fill="#4d8c34"/>
<circle cx="142.93" cy="132.26" r="1.1" fill="#4d8c34"/>
<circle cx="146.01" cy="132.04" r="1.1" fill="#4d8c34"/>
<circle cx="141.51" cy="131.51" r="1.1" fill="#4d8c34"/>
<circle cx="144.5" cy="130.42" r="1.1" fill="#4d8c34"/>
<circle cx="142.9" cy="130.39" r="1.1" fill="#4d8c34"/>
<circle cx="145.83" cy="129.52" r="1.1" fill="#4d8c34"/>
<circle cx="141.64" cy="129.4" r="1.1" fill="#4d8c34"/>
<circle cx="143.74" cy="129.01" r="1.1" fill="#4d8c34"/>
<circle cx="147.27" cy="128.82" r="1.1" fill="#4d8c34"/>
<circle cx="144.96" cy="127.98" r="1.1" fill="#4d8c34"/>
<circle cx="142.54" cy="127.95" r="1.1" fill="#4d8c34"/>
<circle cx="143.79" cy="126.89" r="1.1" fill="#4d8c34"/>
<circle cx="145.67" cy="126.54" r="1.1" fill="#4d8c34"/>
<circle cx="141.82" cy="126.52" r="1.1" fill="#4d8c34"/>
<circle cx="147.15" cy="125.94" r="1.1" fill="#4d8c34"/>
<circle cx="140.59" cy="125.5" r="1.1" fill="#4d8c34"/>
<circle cx="144.5" cy="125.14" r="1.1" fill="#4d8c34"/>
<circle cx="145.93" cy="124.42" r="1.1" fill="#4d8c34"/>
<circle cx="143.76" cy="123.73" r="1.1" fill="#4d8c34"/>
<circle cx="142.24" cy="123.22" r="1.1" fill="#4d8c34"/>
<circle cx="145.16" cy="122.96" r="1.1" fill="#4d8c34"/>
<circle cx="146.76" cy="122.86" r="1.1" fill="#4d8c34"/>
<circle cx="140.81" cy="122.51" r="1.1" fill="#4d8c34"/>
<circle cx="143.95" cy="121.93" r="1.1" fill="#4d8c34"/>
<circle cx="145.4" cy="121.25" r="1.1" fill="#4d8c34"/>
<circle cx="142.7" cy="120.93" r="1.1" fill="#4d8c34"/>
<circle cx="146.8" cy="120.48" r="1.1" fill="#4d8c34"/>
<circle cx="144.38" cy="120.01" r="1.1" fill="#4d8c34"/>
<circle cx="141.54" cy="119.82" r="1.1" fill="#4d8c34"/>
<circle cx="145.51" cy="118.88" r="1.1" fill="#4d8c34"/>
<circle cx="144.04" cy="118.26" r="1.1" fill="#4d8c34"/>
<circle cx="142.51" cy="117.79" r="1.1" fill="#4d8c34"/>
<circle cx="146.14" cy="117.4" r="1.1" fill="#4d8c34"/>
<circle cx="147.74" cy="117.24" r="1.1" fill="#4d8c34"/>
<circle cx="144.5" cy="116.67" r="1.1" fill="#4d8c34"/>
<circle cx="142.96" cy="116.25" r="1.1" fill="#4d8c34"/>
<circle cx="145.67" cy="115.57" r="1.1" fill="#4d8c34"/>
<circle cx="144.5" cy="114.45" r="1.1" fill="#4d8c34"/>
<circle cx="145.95" cy="113.78" r="1.1" fill="#4d8c34"/>
<circle cx="143.38" cy="113.3" r="1.1" fill="#4d8c34"/>
<circle cx="144.72" cy="112.42" r="1.1" fill="#4d8c34"/>
<circle cx="143.46" cy="111.44" r="1.1" fill="#4d8c34"/>
<circle cx="144.93" cy="110.81" r="1.1" fill="#4d8c34"/>
<circle cx="143.74" cy="109.74" r="1.1" fill="#4d8c34"/>
<circle cx="145.9" cy="109.53" r="1.1" fill="#4d8c34"/>
<circle cx="142.54" cy="108.68" r="1.1" fill="#4d8c34"/>
<circle cx="144.5" cy="108.06" r="1.1" fill="#4d8c34"/>
<circle cx="145.63" cy="106.93" r="1.1" fill="#4d8c34"/>
<circle cx="143.66" cy="106.7" r="1.1" fill="#4d8c34"/>
<circle cx="142.34" cy="105.8" r="1.1" fill="#4d8c34"/>
<circle cx="144.5" cy="104.82" r="1.1" fill="#4d8c34"/>
<circle cx="143.56" cy="103.53" r="1.1" fill="#4d8c34"/>
<circle cx="145.12" cy="103.17" r="1.1" fill="#4d8c34"/>
<circle cx="144.5" cy="101.65" r="1.1" fill="#4d8c34"/>
<circle cx="146.1" cy="101.54" r="1.1" fill="#4d8c34"/>
<circle cx="143.34" cy="100.55" r="1.1" fill="#4d8c34"/>
<circle cx="144.77" cy="99.83" r="1.1" fill="#4d8c34"/>
<circle cx="143.54" cy="98.81" r="1.1" fill="#4d8c34"/>
<circle cx="145.04" cy="98.24" r="1.1" fill="#4d8c34"/>
<circle cx="146.58" cy="97.79" r="1.1" fill="#4d8c34"/>
<circle cx="144.06" cy="96.98" r="1.1" fill="#4d8c34"/>
<circle cx="145.49" cy="96.26" r="1.1" fill="#4d8c34"/>
<circle cx="144.5" cy="94.4" r="1.1" fill="#4d8c34"/>
<circle cx="146.1" cy="94.28" r="1.1" fill="#4d8c34"/>
<circle cx="143.27" cy="93.38" r="1.1" fill="#4d8c34"/>
<circle cx="147.18" cy="93.1" r="1.1" fill="#4d8c34"/>
<circle cx="144.5" cy="92.05" r="1.1" fill="#4d8c34"/>
<circle cx="145.91" cy="91.29" r="1.1" fill="#4d8c34"/>
<circle cx="144.5" cy="90.3" r="1.1" fill="#4d8c34"/>
<circle cx="142.93" cy="90.01" r="1.1" fill="#4d8c34"/>
<circle cx="145.45" cy="89.01" r="1.1" fill="#4d8c34"/>
<circle cx="144.33" cy="87.86" r="1.1" fill="#4d8c34"/>
<circle cx="145.85" cy="87.37" r="1.1" fill="#4d8c34"/>
<circle cx="143.69" cy="86.39" r="1.1" fill="#4d8c34"/>
<circle cx="145.12" cy="85.68" r="1.1" fill="#4d8c34"/>
<circle cx="144.5" cy="83.23" r="1.1" fill="#4d8c34"/>
<circle cx="145.96" cy="82.58" r="1.1" fill="#4d8c34"/>
<circle cx="144.5" cy="81.27" r="1.1" fill="#4d8c34"/>
<circle cx="145.43" cy="79.96" r="1.1" fill="#4d8c34"/>
<circle cx="144.04" cy="79.17" r="1.1" fill="#4d8c34"/>
<circle cx="146.31" cy="78.63" r="1.1" fill="#4d8c34"/>
<circle cx="142.97" cy="77.97" r="1.1" fill="#4d8c34"/>
<circle cx="144.5" cy="76.27" r="1.1" fill="#4d8c34"/>
<circle cx="145.04" cy="74.76" r="1.1" fill="#4d8c34"/>
<circle cx="143.99" cy="73.55" r="1.1" fill="#4d8c34"/>
<circle cx="146.04" cy="73.51" r="1.1" fill="#4d8c34"/>
<circle cx="144.5" cy="71.11" r="1.1" fill="#4d8c34"/>
<circle cx="143.1" cy="70.33" r="1.1" fill="#4d8c34"/>
<circle cx="144.5" cy="69.4" r="1.1" fill="#4d8c34"/>
<circle cx="143.94" cy="67.9" r="1.1" fill="#4d8c34"/>
<circle cx="145.14" cy="66.85" r="1.1" fill="#4d8c34"/>
<circle cx="143.72" cy="66.12" r="1.1" fill="#4d8c34"/>
<circle cx="144.5" cy="64.7" r="1.1" fill="#4d8c34"/>
<circle cx="145.86" cy="63.86" r="1.1" fill="#4d8c34"/>
<circle cx="144.5" cy="61.94" r="1.1" fill="#4d8c34"/>
<circle cx="146.02" cy="61.45" r="1.1" fill="#4d8c34"/>
<circle cx="144.5" cy="60.2" r="1.1" fill="#4d8c34"/>
<circle cx="145.86" cy="59.35" r="1.1" fill="#4d8c34"/>
<circle cx="196.88" cy="102.17" r="1.05" fill="#1d3a70"/>
<circle cx="196.91" cy="108.16" r="1.05" fill="#1d3a70"/>
<circle cx="195.77" cy="122.21" r="1.05" fill="#1d3a70"/>
<circle cx="197.86" cy="122.31" r="1.05" fill="#1d3a70"/>
<circle cx="194.7" cy="125.72" r="1.05" fill="#1d3a70"/>
<circle cx="196.9" cy="125.61" r="1.05" fill="#1d3a70"/>
<circle cx="198.95" cy="125.74" r="1.05" fill="#1d3a70"/>
<circle cx="195.85" cy="126.75" r="1.05" fill="#1d3a70"/>
<circle cx="197.79" cy="126.89" r="1.05" fill="#1d3a70"/>
<circle cx="195.72" cy="129.4" r="1.05" fill="#1d3a70"/>
<circle cx="197.82" cy="129.22" r="1.05" fill="#1d3a70"/>
<circle cx="196.9" cy="131.73" r="1.05" fill="#1d3a70"/>
<circle cx="196.73" cy="133.82" r="1.05" fill="#1d3a70"/>
<circle cx="195.74" cy="138.6" r="1.05" fill="#1d3a70"/>
<circle cx="197.78" cy="138.82" r="1.05" fill="#1d3a70"/>
<circle cx="196.67" cy="139.82" r="1.05" fill="#1d3a70"/>
<circle cx="195.67" cy="142.16" r="1.05" fill="#1d3a70"/>
<circle cx="197.9" cy="142.22" r="1.05" fill="#1d3a70"/>
<circle cx="195.91" cy="148.03" r="1.05" fill="#1d3a70"/>
<circle cx="197.85" cy="147.98" r="1.05" fill="#1d3a70"/>
<circle cx="195.8" cy="150.33" r="1.05" fill="#1d3a70"/>
<circle cx="197.86" cy="150.45" r="1.05" fill="#1d3a70"/>
<circle cx="194.82" cy="152.85" r="1.05" fill="#1d3a70"/>
<circle cx="196.8" cy="152.68" r="1.05" fill="#1d3a70"/>
<circle cx="198.78" cy="152.92" r="1.05" fill="#1d3a70"/>
<circle cx="193.85" cy="155.19" r="1.05" fill="#1d3a70"/>
<circle cx="195.92" cy="155.21" r="1.05" fill="#1d3a70"/>
<circle cx="197.73" cy="155.21" r="1.05" fill="#1d3a70"/>
<circle cx="199.9" cy="155.08" r="1.05" fill="#1d3a70"/>
<circle cx="194.72" cy="156.61" r="1.05" fill="#1d3a70"/>
<circle cx="196.94" cy="156.63" r="1.05" fill="#1d3a70"/>
<circle cx="198.88" cy="156.56" r="1.05" fill="#1d3a70"/>
<circle cx="195.66" cy="158.77" r="1.05" fill="#1d3a70"/>
<circle cx="197.71" cy="158.69" r="1.05" fill="#1d3a70"/>
<circle cx="195.84" cy="160.4" r="1.05" fill="#1d3a70"/>
<circle cx="197.83" cy="160.35" r="1.05" fill="#1d3a70"/>
<circle cx="195.68" cy="162.33" r="1.05" fill="#1d3a70"/>
<circle cx="197.85" cy="162.53" r="1.05" fill="#1d3a70"/>
<circle cx="195.79" cy="164.32" r="1.05" fill="#1d3a70"/>
<circle cx="197.94" cy="164.3" r="1.05" fill="#1d3a70"/>
<circle cx="192.9" cy="166.38" r="1.05" fill="#1d3a70"/>
<circle cx="194.88" cy="166.36" r="1.05" fill="#1d3a70"/>
<circle cx="196.78" cy="166.28" r="1.05" fill="#1d3a70"/>
<circle cx="198.92" cy="166.13" r="1.05" fill="#1d3a70"/>
<circle cx="200.81" cy="166.3" r="1.05" fill="#1d3a70"/>
<circle cx="193.89" cy="167.44" r="1.05" fill="#1d3a70"/>
<circle cx="195.94" cy="167.51" r="1.05" fill="#1d3a70"/>
<circle cx="197.95" cy="167.54" r="1.05" fill="#1d3a70"/>
<circle cx="199.81" cy="167.56" r="1.05" fill="#1d3a70"/>
<circle cx="196.83" cy="80.83" r="1.05" fill="#1d3a70"/>
<line x1="77.5" y1="119.82" x2="102" y2="119.82" stroke="#333" stroke-width="1.2"/>
<line x1="133" y1="144.56" x2="157.4" y2="144.56" stroke="#333" stroke-width="1.2"/>
<line x1="185.2" y1="153.99" x2="209.6" y2="153.99" stroke="#333" stroke-width="1.2"/>
<line x1="60.2" y1="48.9" x2="60.2" y2="169.8" stroke="#222" stroke-width="1.2"/>
<line x1="57.2" y1="169.3" x2="60.2" y2="169.3" stroke="#222" stroke-width="1"/>
<text x="54.2" y="172" font-size="8.6" fill="#2a2a2a" text-anchor="end">0</text>
<line x1="57.2" y1="145.74" x2="60.2" y2="145.74" stroke="#222" stroke-width="1"/>
<text x="54.2" y="148.44" font-size="8.6" fill="#2a2a2a" text-anchor="end">20</text>
<line x1="57.2" y1="122.18" x2="60.2" y2="122.18" stroke="#222" stroke-width="1"/>
<text x="54.2" y="124.88" font-size="8.6" fill="#2a2a2a" text-anchor="end">40</text>
<line x1="57.2" y1="98.62" x2="60.2" y2="98.62" stroke="#222" stroke-width="1"/>
<text x="54.2" y="101.32" font-size="8.6" fill="#2a2a2a" text-anchor="end">60</text>
<line x1="57.2" y1="75.06" x2="60.2" y2="75.06" stroke="#222" stroke-width="1"/>
<text x="54.2" y="77.76" font-size="8.6" fill="#2a2a2a" text-anchor="end">80</text>
<line x1="57.2" y1="51.5" x2="60.2" y2="51.5" stroke="#222" stroke-width="1"/>
<text x="54.2" y="54.2" font-size="8.6" fill="#2a2a2a" text-anchor="end">100</text>
<line x1="60.2" y1="169.3" x2="230.8" y2="169.3" stroke="#222" stroke-width="1.3"/>
<text x="34.6" y="108.6" font-size="10" fill="#2a2a2a" text-anchor="middle" textLength="50.4" lengthAdjust="spacingAndGlyphs" transform="rotate(-90 34.6 108.6)">% methylation</text>
<polyline points="88.5,23.6 88.5,21.6 198.4,21.6 198.4,23.6" fill="none" stroke="#333" stroke-width="0.9"/>
<text x="143.5" y="18.4" font-size="7.0" fill="#2a2a2a" text-anchor="middle" textLength="42.8" lengthAdjust="spacingAndGlyphs">p=1.6×10<tspan font-size="4.9" dy="-3.2">-10</tspan></text>
<polyline points="88.5,39.1 88.5,37.1 141.8,37.1 141.8,39.1" fill="none" stroke="#333" stroke-width="0.9"/>
<text x="114.5" y="33.9" font-size="7.0" fill="#2a2a2a" text-anchor="middle" textLength="42" lengthAdjust="spacingAndGlyphs">p=8.5×10<tspan font-size="4.9" dy="-3.2">-12</tspan></text>
<polyline points="145,39.1 145,37.1 198.4,37.1 198.4,39.1" fill="none" stroke="#333" stroke-width="0.9"/>
<text x="171.75" y="33.9" font-size="7.0" fill="#2a2a2a" text-anchor="middle" textLength="24.86" lengthAdjust="spacingAndGlyphs">p=0.38</text>
<text x="89.5" y="179.4" font-size="7.6" fill="#2a2a2a" text-anchor="middle" textLength="29.21" lengthAdjust="spacingAndGlyphs">(n=350)</text>
<text x="144.95" y="179.4" font-size="7.6" fill="#2a2a2a" text-anchor="middle" textLength="29.31" lengthAdjust="spacingAndGlyphs">(n=258)</text>
<text x="197.2" y="179.4" font-size="7.6" fill="#2a2a2a" text-anchor="middle" textLength="25.21" lengthAdjust="spacingAndGlyphs">(n=55)</text>
<text x="89.4" y="194.5" font-size="8.4" fill="#2a2a2a" text-anchor="middle" textLength="21.87" lengthAdjust="spacingAndGlyphs">Good</text>
<text x="89.55" y="204.2" font-size="8.4" fill="#2a2a2a" text-anchor="middle" textLength="12.37" lengthAdjust="spacingAndGlyphs">risk</text>
<text x="145.25" y="194.5" font-size="8.4" fill="#2a2a2a" text-anchor="middle" textLength="48.17" lengthAdjust="spacingAndGlyphs">Intermediate</text>
<text x="145.1" y="204.2" font-size="8.4" fill="#2a2a2a" text-anchor="middle" textLength="13.27" lengthAdjust="spacingAndGlyphs">risk</text>
<text x="197.2" y="194.5" font-size="8.4" fill="#2a2a2a" text-anchor="middle" textLength="18.07" lengthAdjust="spacingAndGlyphs">High</text>
<text x="197.45" y="204.2" font-size="8.4" fill="#2a2a2a" text-anchor="middle" textLength="13.17" lengthAdjust="spacingAndGlyphs">risk</text>
<text x="278.6" y="16.9" font-size="11.6" fill="#000" font-weight="bold">B</text>
<rect x="325.4" y="66.8" width="18.8" height="18.41" fill="#a0001f"/>
<rect x="325.4" y="85.21" width="18.8" height="43.99" fill="#e8b820"/>
<rect x="325.4" y="129.2" width="18.8" height="39.9" fill="#66a6dd"/>
<rect x="373" y="66.8" width="18.8" height="10.23" fill="#a0001f"/>
<rect x="373" y="77.03" width="18.8" height="29.67" fill="#e8b820"/>
<rect x="373" y="106.7" width="18.8" height="62.4" fill="#66a6dd"/>
<rect x="420.2" y="66.8" width="18.8" height="2.05" fill="#a0001f"/>
<rect x="420.2" y="68.85" width="18.8" height="20.46" fill="#e8b820"/>
<rect x="420.2" y="89.31" width="18.8" height="79.79" fill="#66a6dd"/>
<line x1="311.3" y1="64.2" x2="311.3" y2="169.6" stroke="#222" stroke-width="1.2"/>
<line x1="308.3" y1="169.1" x2="311.3" y2="169.1" stroke="#222" stroke-width="1"/>
<text x="305.3" y="171.8" font-size="8.6" fill="#2a2a2a" text-anchor="end">0</text>
<line x1="308.3" y1="148.64" x2="311.3" y2="148.64" stroke="#222" stroke-width="1"/>
<text x="305.3" y="151.34" font-size="8.6" fill="#2a2a2a" text-anchor="end">20</text>
<line x1="308.3" y1="128.18" x2="311.3" y2="128.18" stroke="#222" stroke-width="1"/>
<text x="305.3" y="130.88" font-size="8.6" fill="#2a2a2a" text-anchor="end">40</text>
<line x1="308.3" y1="107.72" x2="311.3" y2="107.72" stroke="#222" stroke-width="1"/>
<text x="305.3" y="110.42" font-size="8.6" fill="#2a2a2a" text-anchor="end">60</text>
<line x1="308.3" y1="87.26" x2="311.3" y2="87.26" stroke="#222" stroke-width="1"/>
<text x="305.3" y="89.96" font-size="8.6" fill="#2a2a2a" text-anchor="end">80</text>
<line x1="308.3" y1="66.8" x2="311.3" y2="66.8" stroke="#222" stroke-width="1"/>
<text x="305.3" y="69.5" font-size="8.6" fill="#2a2a2a" text-anchor="end">100</text>
<line x1="311.3" y1="169.1" x2="454" y2="169.1" stroke="#222" stroke-width="1.3"/>
<text x="286" y="116.6" font-size="9.6" fill="#2a2a2a" text-anchor="middle" textLength="60.7" lengthAdjust="spacingAndGlyphs" transform="rotate(-90 286 116.6)">Ratio of cases (%)</text>
<polyline points="332.7,42.3 332.7,40.3 428.9,40.3 428.9,42.3" fill="none" stroke="#333" stroke-width="0.9"/>
<text x="380.3" y="37.6" font-size="7.0" fill="#2a2a2a" text-anchor="middle" textLength="39.2" lengthAdjust="spacingAndGlyphs">p=3.1×10<tspan font-size="4.9" dy="-3.2">-7</tspan></text>
<polyline points="332.7,57.8 332.7,55.8 379.5,55.8 379.5,57.8" fill="none" stroke="#333" stroke-width="0.9"/>
<text x="356.6" y="52.4" font-size="7.0" fill="#2a2a2a" text-anchor="middle" textLength="40.5" lengthAdjust="spacingAndGlyphs">p=3.3×10<tspan font-size="4.9" dy="-3.2">-7</tspan></text>
<polyline points="381.8,57.8 381.8,55.8 428.9,55.8 428.9,57.8" fill="none" stroke="#333" stroke-width="0.9"/>
<text x="405.4" y="52.4" font-size="7.0" fill="#2a2a2a" text-anchor="middle" textLength="30.56" lengthAdjust="spacingAndGlyphs">p=0.038</text>
<text x="334.6" y="179.2" font-size="7.6" fill="#2a2a2a" text-anchor="middle" textLength="29.81" lengthAdjust="spacingAndGlyphs">(n=350)</text>
<text x="381.5" y="179.2" font-size="7.6" fill="#2a2a2a" text-anchor="middle" textLength="29.61" lengthAdjust="spacingAndGlyphs">(n=258)</text>
<text x="429.25" y="179.2" font-size="7.6" fill="#2a2a2a" text-anchor="middle" textLength="25.11" lengthAdjust="spacingAndGlyphs">(n=55)</text>
<text x="335.4" y="194.5" font-size="8.4" fill="#2a2a2a" text-anchor="middle" textLength="21.87" lengthAdjust="spacingAndGlyphs">Good</text>
<text x="335.55" y="204.2" font-size="8.4" fill="#2a2a2a" text-anchor="middle" textLength="12.37" lengthAdjust="spacingAndGlyphs">risk</text>
<text x="382.25" y="194.5" font-size="8.4" fill="#2a2a2a" text-anchor="middle" textLength="48.17" lengthAdjust="spacingAndGlyphs">Intermediate</text>
<text x="382.2" y="204.2" font-size="8.4" fill="#2a2a2a" text-anchor="middle" textLength="13.27" lengthAdjust="spacingAndGlyphs">risk</text>
<text x="429.3" y="194.5" font-size="8.4" fill="#2a2a2a" text-anchor="middle" textLength="18.07" lengthAdjust="spacingAndGlyphs">High</text>
<text x="429.55" y="204.2" font-size="8.4" fill="#2a2a2a" text-anchor="middle" textLength="13.17" lengthAdjust="spacingAndGlyphs">risk</text>
<text x="484.5" y="91.1" font-size="8.2" fill="#2a2a2a" text-anchor="middle" font-style="italic" textLength="20.46" lengthAdjust="spacingAndGlyphs">ASNS</text>
<text x="484.15" y="100" font-size="8.2" fill="#2a2a2a" text-anchor="middle" textLength="41.16" lengthAdjust="spacingAndGlyphs">methylation</text>
<rect x="459.9" y="107.2" width="5.2" height="4.8" fill="#a0001f"/>
<text x="489.2" y="112.5" font-size="8.2" fill="#2a2a2a" text-anchor="middle" textLength="43.06" lengthAdjust="spacingAndGlyphs">66.7 – 100%</text>
<rect x="459.9" y="118.2" width="5.2" height="4.8" fill="#e8b820"/>
<text x="490.35" y="123.5" font-size="8.2" fill="#2a2a2a" text-anchor="middle" textLength="45.36" lengthAdjust="spacingAndGlyphs">33.4 – 66.6%</text>
<rect x="459.9" y="129.2" width="5.2" height="4.8" fill="#66a6dd"/>
<text x="495.85" y="134.5" font-size="8.2" fill="#2a2a2a" text-anchor="middle" textLength="34.36" lengthAdjust="spacingAndGlyphs">0 – 33.3%</text>
<text x="7.4" y="231.9" font-size="11.6" fill="#000" font-weight="bold">C</text>
<rect x="60.8" y="252.7" width="200.7" height="29.44" fill="#e6c6bd"/>
<rect x="60.8" y="282.14" width="200.7" height="29.53" fill="#fcedcc"/>
<rect x="60.8" y="311.66" width="200.7" height="29.44" fill="#dde7f5"/>
<circle cx="73.9" cy="338.5" r="0.95" fill="#8a0a2a"/>
<circle cx="75.06" cy="337.48" r="0.95" fill="#8a0a2a"/>
<circle cx="73.9" cy="336.02" r="0.95" fill="#8a0a2a"/>
<circle cx="72.8" cy="334.93" r="0.95" fill="#8a0a2a"/>
<circle cx="73.99" cy="333.93" r="0.95" fill="#8a0a2a"/>
<circle cx="72.72" cy="333.04" r="0.95" fill="#8a0a2a"/>
<circle cx="74.89" cy="332.67" r="0.95" fill="#8a0a2a"/>
<circle cx="73.9" cy="331.02" r="0.95" fill="#8a0a2a"/>
<circle cx="73.9" cy="329.34" r="0.95" fill="#8a0a2a"/>
<circle cx="72.39" cy="329" r="0.95" fill="#8a0a2a"/>
<circle cx="73.9" cy="327.21" r="0.95" fill="#8a0a2a"/>
<circle cx="72.37" cy="326.95" r="0.95" fill="#8a0a2a"/>
<circle cx="73.9" cy="325.64" r="0.95" fill="#8a0a2a"/>
<circle cx="75.03" cy="324.58" r="0.95" fill="#8a0a2a"/>
<circle cx="73.9" cy="323.39" r="0.95" fill="#8a0a2a"/>
<circle cx="72.46" cy="322.82" r="0.95" fill="#8a0a2a"/>
<circle cx="75.09" cy="322.4" r="0.95" fill="#8a0a2a"/>
<circle cx="73.77" cy="321.6" r="0.95" fill="#8a0a2a"/>
<circle cx="73.9" cy="320.02" r="0.95" fill="#8a0a2a"/>
<circle cx="73.9" cy="318.41" r="0.95" fill="#8a0a2a"/>
<circle cx="75.4" cy="318.03" r="0.95" fill="#8a0a2a"/>
<circle cx="72.67" cy="317.47" r="0.95" fill="#8a0a2a"/>
<circle cx="73.9" cy="315.92" r="0.95" fill="#8a0a2a"/>
<circle cx="75.42" cy="315.6" r="0.95" fill="#8a0a2a"/>
<circle cx="72.83" cy="314.8" r="0.95" fill="#8a0a2a"/>
<circle cx="74.19" cy="314.04" r="0.95" fill="#8a0a2a"/>
<circle cx="75.72" cy="313.84" r="0.95" fill="#8a0a2a"/>
<circle cx="73.02" cy="313.02" r="0.95" fill="#8a0a2a"/>
<circle cx="71.47" cy="312.95" r="0.95" fill="#8a0a2a"/>
<circle cx="74.44" cy="312.4" r="0.95" fill="#8a0a2a"/>
<circle cx="72.69" cy="311.5" r="0.95" fill="#8a0a2a"/>
<circle cx="75.46" cy="311.24" r="0.95" fill="#8a0a2a"/>
<circle cx="71.23" cy="310.98" r="0.95" fill="#8a0a2a"/>
<circle cx="76.97" cy="310.87" r="0.95" fill="#8a0a2a"/>
<circle cx="73.9" cy="310.5" r="0.95" fill="#8a0a2a"/>
<circle cx="72.54" cy="309.76" r="0.95" fill="#8a0a2a"/>
<circle cx="74.93" cy="309.35" r="0.95" fill="#8a0a2a"/>
<circle cx="76.44" cy="308.98" r="0.95" fill="#8a0a2a"/>
<circle cx="73.85" cy="308.24" r="0.95" fill="#8a0a2a"/>
<circle cx="75.35" cy="307.85" r="0.95" fill="#8a0a2a"/>
<circle cx="72.39" cy="307.73" r="0.95" fill="#8a0a2a"/>
<circle cx="76.8" cy="307.3" r="0.95" fill="#8a0a2a"/>
<circle cx="70.99" cy="307.05" r="0.95" fill="#8a0a2a"/>
<circle cx="78.29" cy="306.85" r="0.95" fill="#8a0a2a"/>
<circle cx="73.9" cy="306.36" r="0.95" fill="#8a0a2a"/>
<circle cx="75.34" cy="305.8" r="0.95" fill="#8a0a2a"/>
<circle cx="72.7" cy="305.38" r="0.95" fill="#8a0a2a"/>
<circle cx="74.14" cy="304.81" r="0.95" fill="#8a0a2a"/>
<circle cx="76.51" cy="304.77" r="0.95" fill="#8a0a2a"/>
<circle cx="72.98" cy="303.77" r="0.95" fill="#8a0a2a"/>
<circle cx="75.17" cy="303.65" r="0.95" fill="#8a0a2a"/>
<circle cx="71.56" cy="303.15" r="0.95" fill="#8a0a2a"/>
<circle cx="76.49" cy="302.84" r="0.95" fill="#8a0a2a"/>
<circle cx="70.07" cy="302.72" r="0.95" fill="#8a0a2a"/>
<circle cx="73.9" cy="302.45" r="0.95" fill="#8a0a2a"/>
<circle cx="77.79" cy="302" r="0.95" fill="#8a0a2a"/>
<circle cx="72.53" cy="301.73" r="0.95" fill="#8a0a2a"/>
<circle cx="75.27" cy="301.73" r="0.95" fill="#8a0a2a"/>
<circle cx="71.04" cy="301.29" r="0.95" fill="#8a0a2a"/>
<circle cx="69.51" cy="301.05" r="0.95" fill="#8a0a2a"/>
<circle cx="73.9" cy="300.47" r="0.95" fill="#8a0a2a"/>
<circle cx="72.19" cy="300.22" r="0.95" fill="#8a0a2a"/>
<circle cx="75.42" cy="300.14" r="0.95" fill="#8a0a2a"/>
<circle cx="76.91" cy="299.72" r="0.95" fill="#8a0a2a"/>
<circle cx="70.85" cy="299.43" r="0.95" fill="#8a0a2a"/>
<circle cx="73.38" cy="299.01" r="0.95" fill="#8a0a2a"/>
<circle cx="78.26" cy="298.96" r="0.95" fill="#8a0a2a"/>
<circle cx="74.83" cy="298.49" r="0.95" fill="#8a0a2a"/>
<circle cx="72.39" cy="297.82" r="0.95" fill="#8a0a2a"/>
<circle cx="76.16" cy="297.69" r="0.95" fill="#8a0a2a"/>
<circle cx="70.89" cy="297.41" r="0.95" fill="#8a0a2a"/>
<circle cx="73.9" cy="296.88" r="0.95" fill="#8a0a2a"/>
<circle cx="77.35" cy="296.7" r="0.95" fill="#8a0a2a"/>
<circle cx="69.53" cy="296.68" r="0.95" fill="#8a0a2a"/>
<circle cx="78.9" cy="296.62" r="0.95" fill="#8a0a2a"/>
<circle cx="75.17" cy="296" r="0.95" fill="#8a0a2a"/>
<circle cx="72.92" cy="295.68" r="0.95" fill="#8a0a2a"/>
<circle cx="71.55" cy="294.95" r="0.95" fill="#8a0a2a"/>
<circle cx="76.21" cy="294.85" r="0.95" fill="#8a0a2a"/>
<circle cx="74.11" cy="294.67" r="0.95" fill="#8a0a2a"/>
<circle cx="77.74" cy="294.59" r="0.95" fill="#8a0a2a"/>
<circle cx="70.06" cy="294.53" r="0.95" fill="#8a0a2a"/>
<circle cx="72.78" cy="293.87" r="0.95" fill="#8a0a2a"/>
<circle cx="79.07" cy="293.79" r="0.95" fill="#8a0a2a"/>
<circle cx="75.01" cy="293.42" r="0.95" fill="#8a0a2a"/>
<circle cx="71.47" cy="293.04" r="0.95" fill="#8a0a2a"/>
<circle cx="76.5" cy="293" r="0.95" fill="#8a0a2a"/>
<circle cx="73.9" cy="292.22" r="0.95" fill="#8a0a2a"/>
<circle cx="75.41" cy="291.86" r="0.95" fill="#8a0a2a"/>
<circle cx="70.48" cy="291.84" r="0.95" fill="#8a0a2a"/>
<circle cx="72.47" cy="291.61" r="0.95" fill="#8a0a2a"/>
<circle cx="77.08" cy="291.56" r="0.95" fill="#8a0a2a"/>
<circle cx="78.59" cy="291.21" r="0.95" fill="#8a0a2a"/>
<circle cx="73.9" cy="290.6" r="0.95" fill="#8a0a2a"/>
<circle cx="75.74" cy="290.35" r="0.95" fill="#8a0a2a"/>
<circle cx="72.59" cy="289.77" r="0.95" fill="#8a0a2a"/>
<circle cx="71.07" cy="289.49" r="0.95" fill="#8a0a2a"/>
<circle cx="76.93" cy="289.35" r="0.95" fill="#8a0a2a"/>
<circle cx="74.64" cy="289.24" r="0.95" fill="#8a0a2a"/>
<circle cx="69.81" cy="288.59" r="0.95" fill="#8a0a2a"/>
<circle cx="78.18" cy="288.44" r="0.95" fill="#8a0a2a"/>
<circle cx="73.38" cy="288.35" r="0.95" fill="#8a0a2a"/>
<circle cx="75.76" cy="288.17" r="0.95" fill="#8a0a2a"/>
<circle cx="72.18" cy="287.37" r="0.95" fill="#8a0a2a"/>
<circle cx="77.07" cy="287.34" r="0.95" fill="#8a0a2a"/>
<circle cx="74.4" cy="287.18" r="0.95" fill="#8a0a2a"/>
<circle cx="70.72" cy="286.85" r="0.95" fill="#8a0a2a"/>
<circle cx="78.53" cy="286.82" r="0.95" fill="#8a0a2a"/>
<circle cx="75.62" cy="286.22" r="0.95" fill="#8a0a2a"/>
<circle cx="73.5" cy="285.92" r="0.95" fill="#8a0a2a"/>
<circle cx="71.95" cy="285.82" r="0.95" fill="#8a0a2a"/>
<circle cx="76.82" cy="285.24" r="0.95" fill="#8a0a2a"/>
<circle cx="70.61" cy="285.05" r="0.95" fill="#8a0a2a"/>
<circle cx="74.33" cy="284.61" r="0.95" fill="#8a0a2a"/>
<circle cx="72.83" cy="284.2" r="0.95" fill="#8a0a2a"/>
<circle cx="75.68" cy="283.85" r="0.95" fill="#8a0a2a"/>
<circle cx="73.9" cy="282.95" r="0.95" fill="#8a0a2a"/>
<circle cx="72.04" cy="282.87" r="0.95" fill="#8a0a2a"/>
<circle cx="76.5" cy="282.54" r="0.95" fill="#8a0a2a"/>
<circle cx="70.63" cy="282.22" r="0.95" fill="#8a0a2a"/>
<circle cx="77.95" cy="281.99" r="0.95" fill="#8a0a2a"/>
<circle cx="73.9" cy="280.86" r="0.95" fill="#8a0a2a"/>
<circle cx="75.4" cy="280.45" r="0.95" fill="#8a0a2a"/>
<circle cx="72.59" cy="280.03" r="0.95" fill="#8a0a2a"/>
<circle cx="76.56" cy="279.42" r="0.95" fill="#8a0a2a"/>
<circle cx="73.9" cy="278.87" r="0.95" fill="#8a0a2a"/>
<circle cx="72.43" cy="278.38" r="0.95" fill="#8a0a2a"/>
<circle cx="75.24" cy="278.1" r="0.95" fill="#8a0a2a"/>
<circle cx="70.92" cy="278.03" r="0.95" fill="#8a0a2a"/>
<circle cx="73.9" cy="277" r="0.95" fill="#8a0a2a"/>
<circle cx="76.28" cy="276.95" r="0.95" fill="#8a0a2a"/>
<circle cx="72.47" cy="276.41" r="0.95" fill="#8a0a2a"/>
<circle cx="70.96" cy="276.07" r="0.95" fill="#8a0a2a"/>
<circle cx="74.82" cy="275.75" r="0.95" fill="#8a0a2a"/>
<circle cx="73.48" cy="274.97" r="0.95" fill="#8a0a2a"/>
<circle cx="75.26" cy="274.27" r="0.95" fill="#8a0a2a"/>
<circle cx="72.35" cy="273.9" r="0.95" fill="#8a0a2a"/>
<circle cx="73.9" cy="273.25" r="0.95" fill="#8a0a2a"/>
<circle cx="76.18" cy="273.01" r="0.95" fill="#8a0a2a"/>
<circle cx="71.11" cy="272.98" r="0.95" fill="#8a0a2a"/>
<circle cx="77.61" cy="272.42" r="0.95" fill="#8a0a2a"/>
<circle cx="73.9" cy="271.59" r="0.95" fill="#8a0a2a"/>
<circle cx="74.85" cy="270.37" r="0.95" fill="#8a0a2a"/>
<circle cx="73.39" cy="269.84" r="0.95" fill="#8a0a2a"/>
<circle cx="71.84" cy="269.81" r="0.95" fill="#8a0a2a"/>
<circle cx="76.16" cy="269.54" r="0.95" fill="#8a0a2a"/>
<circle cx="73.9" cy="268.33" r="0.95" fill="#8a0a2a"/>
<circle cx="72.36" cy="268.14" r="0.95" fill="#8a0a2a"/>
<circle cx="75.2" cy="267.48" r="0.95" fill="#8a0a2a"/>
<circle cx="73.82" cy="266.77" r="0.95" fill="#8a0a2a"/>
<circle cx="72.29" cy="266.51" r="0.95" fill="#8a0a2a"/>
<circle cx="75.12" cy="265.91" r="0.95" fill="#8a0a2a"/>
<circle cx="73.73" cy="265.22" r="0.95" fill="#8a0a2a"/>
<circle cx="71.82" cy="265.03" r="0.95" fill="#8a0a2a"/>
<circle cx="75" cy="264.33" r="0.95" fill="#8a0a2a"/>
<circle cx="73.9" cy="263.21" r="0.95" fill="#8a0a2a"/>
<circle cx="72.35" cy="263.15" r="0.95" fill="#8a0a2a"/>
<circle cx="74.2" cy="261.69" r="0.95" fill="#8a0a2a"/>
<circle cx="73.09" cy="260.6" r="0.95" fill="#8a0a2a"/>
<circle cx="75.16" cy="260.47" r="0.95" fill="#8a0a2a"/>
<circle cx="72.09" cy="259.42" r="0.95" fill="#8a0a2a"/>
<circle cx="73.9" cy="258.21" r="0.95" fill="#8a0a2a"/>
<circle cx="75.4" cy="257.83" r="0.95" fill="#8a0a2a"/>
<circle cx="91.8" cy="340.91" r="0.95" fill="#8a0a2a"/>
<circle cx="90.36" cy="340.71" r="0.95" fill="#8a0a2a"/>
<circle cx="93.22" cy="340.64" r="0.95" fill="#8a0a2a"/>
<circle cx="94.67" cy="340.59" r="0.95" fill="#8a0a2a"/>
<circle cx="88.93" cy="340.48" r="0.95" fill="#8a0a2a"/>
<circle cx="96.11" cy="340.42" r="0.95" fill="#8a0a2a"/>
<circle cx="87.49" cy="340.33" r="0.95" fill="#8a0a2a"/>
<circle cx="97.56" cy="340.29" r="0.95" fill="#8a0a2a"/>
<circle cx="86.04" cy="340.27" r="0.95" fill="#8a0a2a"/>
<circle cx="99.01" cy="340.26" r="0.95" fill="#8a0a2a"/>
<circle cx="84.59" cy="340.21" r="0.95" fill="#8a0a2a"/>
<circle cx="100.46" cy="340.18" r="0.95" fill="#8a0a2a"/>
<circle cx="83.14" cy="340.16" r="0.95" fill="#8a0a2a"/>
<circle cx="101.9" cy="340.14" r="0.95" fill="#8a0a2a"/>
<circle cx="81.7" cy="340.03" r="0.95" fill="#8a0a2a"/>
<circle cx="103.33" cy="339.9" r="0.95" fill="#8a0a2a"/>
<circle cx="80.27" cy="339.8" r="0.95" fill="#8a0a2a"/>
<circle cx="104.76" cy="339.61" r="0.95" fill="#8a0a2a"/>
<circle cx="91.54" cy="339.48" r="0.95" fill="#8a0a2a"/>
<circle cx="78.87" cy="339.4" r="0.95" fill="#8a0a2a"/>
<circle cx="77.42" cy="339.36" r="0.95" fill="#8a0a2a"/>
<circle cx="92.96" cy="339.18" r="0.95" fill="#8a0a2a"/>
<circle cx="90.28" cy="338.76" r="0.95" fill="#8a0a2a"/>
<circle cx="94.31" cy="338.65" r="0.95" fill="#8a0a2a"/>
<circle cx="88.84" cy="338.62" r="0.95" fill="#8a0a2a"/>
<circle cx="95.73" cy="338.37" r="0.95" fill="#8a0a2a"/>
<circle cx="87.45" cy="338.21" r="0.95" fill="#8a0a2a"/>
<circle cx="97.17" cy="338.21" r="0.95" fill="#8a0a2a"/>
<circle cx="91.88" cy="338.07" r="0.95" fill="#8a0a2a"/>
<circle cx="86.01" cy="338.05" r="0.95" fill="#8a0a2a"/>
<circle cx="98.6" cy="337.97" r="0.95" fill="#8a0a2a"/>
<circle cx="84.59" cy="337.76" r="0.95" fill="#8a0a2a"/>
<circle cx="93.24" cy="337.55" r="0.95" fill="#8a0a2a"/>
<circle cx="89.74" cy="337.41" r="0.95" fill="#8a0a2a"/>
<circle cx="94.59" cy="337.03" r="0.95" fill="#8a0a2a"/>
<circle cx="88.35" cy="337.01" r="0.95" fill="#8a0a2a"/>
<circle cx="96.04" cy="336.93" r="0.95" fill="#8a0a2a"/>
<circle cx="91.2" cy="336.79" r="0.95" fill="#8a0a2a"/>
<circle cx="87.03" cy="336.41" r="0.95" fill="#8a0a2a"/>
<circle cx="92.52" cy="336.18" r="0.95" fill="#8a0a2a"/>
<circle cx="90.58" cy="335.48" r="0.95" fill="#8a0a2a"/>
<circle cx="93.75" cy="335.42" r="0.95" fill="#8a0a2a"/>
<circle cx="89.13" cy="335.35" r="0.95" fill="#8a0a2a"/>
<circle cx="95.14" cy="334.99" r="0.95" fill="#8a0a2a"/>
<circle cx="91.8" cy="334.22" r="0.95" fill="#8a0a2a"/>
<circle cx="88.28" cy="334.18" r="0.95" fill="#8a0a2a"/>
<circle cx="93.24" cy="334.05" r="0.95" fill="#8a0a2a"/>
<circle cx="90.5" cy="333.57" r="0.95" fill="#8a0a2a"/>
<circle cx="94.45" cy="333.25" r="0.95" fill="#8a0a2a"/>
<circle cx="91.8" cy="332.66" r="0.95" fill="#8a0a2a"/>
<circle cx="93.22" cy="332.38" r="0.95" fill="#8a0a2a"/>
<circle cx="89.81" cy="332.3" r="0.95" fill="#8a0a2a"/>
<circle cx="88.36" cy="332.23" r="0.95" fill="#8a0a2a"/>
<circle cx="94.53" cy="331.75" r="0.95" fill="#8a0a2a"/>
<circle cx="91.8" cy="331.14" r="0.95" fill="#8a0a2a"/>
<circle cx="90.36" cy="330.95" r="0.95" fill="#8a0a2a"/>
<circle cx="93.21" cy="330.8" r="0.95" fill="#8a0a2a"/>
<circle cx="88.97" cy="330.53" r="0.95" fill="#8a0a2a"/>
<circle cx="94.53" cy="330.2" r="0.95" fill="#8a0a2a"/>
<circle cx="91.53" cy="329.72" r="0.95" fill="#8a0a2a"/>
<circle cx="87.81" cy="329.66" r="0.95" fill="#8a0a2a"/>
<circle cx="92.88" cy="329.2" r="0.95" fill="#8a0a2a"/>
<circle cx="90.57" cy="328.63" r="0.95" fill="#8a0a2a"/>
<circle cx="93.89" cy="328.16" r="0.95" fill="#8a0a2a"/>
<circle cx="89.21" cy="328.12" r="0.95" fill="#8a0a2a"/>
<circle cx="91.8" cy="327.75" r="0.95" fill="#8a0a2a"/>
<circle cx="95.23" cy="327.6" r="0.95" fill="#8a0a2a"/>
<circle cx="92.84" cy="326.74" r="0.95" fill="#8a0a2a"/>
<circle cx="91.07" cy="326.5" r="0.95" fill="#8a0a2a"/>
<circle cx="89.69" cy="326.05" r="0.95" fill="#8a0a2a"/>
<circle cx="92.01" cy="325.39" r="0.95" fill="#8a0a2a"/>
<circle cx="93.46" cy="325.38" r="0.95" fill="#8a0a2a"/>
<circle cx="90.81" cy="324.57" r="0.95" fill="#8a0a2a"/>
<circle cx="89.38" cy="324.39" r="0.95" fill="#8a0a2a"/>
<circle cx="91.86" cy="323.57" r="0.95" fill="#8a0a2a"/>
<circle cx="93.3" cy="323.34" r="0.95" fill="#8a0a2a"/>
<circle cx="90.49" cy="323.1" r="0.95" fill="#8a0a2a"/>
<circle cx="89.14" cy="322.59" r="0.95" fill="#8a0a2a"/>
<circle cx="94.44" cy="322.45" r="0.95" fill="#8a0a2a"/>
<circle cx="91.8" cy="322.05" r="0.95" fill="#8a0a2a"/>
<circle cx="93.03" cy="321.28" r="0.95" fill="#8a0a2a"/>
<circle cx="90.99" cy="320.85" r="0.95" fill="#8a0a2a"/>
<circle cx="89.6" cy="320.44" r="0.95" fill="#8a0a2a"/>
<circle cx="94.15" cy="320.36" r="0.95" fill="#8a0a2a"/>
<circle cx="91.92" cy="319.74" r="0.95" fill="#8a0a2a"/>
<circle cx="90.57" cy="319.21" r="0.95" fill="#8a0a2a"/>
<circle cx="93.15" cy="318.97" r="0.95" fill="#8a0a2a"/>
<circle cx="89.3" cy="318.52" r="0.95" fill="#8a0a2a"/>
<circle cx="91.8" cy="317.94" r="0.95" fill="#8a0a2a"/>
<circle cx="93.99" cy="317.79" r="0.95" fill="#8a0a2a"/>
<circle cx="90.52" cy="317.26" r="0.95" fill="#8a0a2a"/>
<circle cx="92.63" cy="316.75" r="0.95" fill="#8a0a2a"/>
<circle cx="94.01" cy="316.28" r="0.95" fill="#8a0a2a"/>
<circle cx="91.57" cy="315.77" r="0.95" fill="#8a0a2a"/>
<circle cx="90.13" cy="315.54" r="0.95" fill="#8a0a2a"/>
<circle cx="92.89" cy="315.19" r="0.95" fill="#8a0a2a"/>
<circle cx="94.76" cy="315.04" r="0.95" fill="#8a0a2a"/>
<circle cx="89.19" cy="314.44" r="0.95" fill="#8a0a2a"/>
<circle cx="91.26" cy="314.36" r="0.95" fill="#8a0a2a"/>
<circle cx="87.77" cy="314.16" r="0.95" fill="#8a0a2a"/>
<circle cx="92.35" cy="313.41" r="0.95" fill="#8a0a2a"/>
<circle cx="90.33" cy="313.24" r="0.95" fill="#8a0a2a"/>
<circle cx="93.73" cy="312.95" r="0.95" fill="#8a0a2a"/>
<circle cx="89.05" cy="312.57" r="0.95" fill="#8a0a2a"/>
<circle cx="95.04" cy="312.33" r="0.95" fill="#8a0a2a"/>
<circle cx="91.8" cy="312.05" r="0.95" fill="#8a0a2a"/>
<circle cx="90.38" cy="311.77" r="0.95" fill="#8a0a2a"/>
<circle cx="87.87" cy="311.72" r="0.95" fill="#8a0a2a"/>
<circle cx="93" cy="311.24" r="0.95" fill="#8a0a2a"/>
<circle cx="94.43" cy="311" r="0.95" fill="#8a0a2a"/>
<circle cx="91.8" cy="310.23" r="0.95" fill="#8a0a2a"/>
<circle cx="90.41" cy="309.83" r="0.95" fill="#8a0a2a"/>
<circle cx="93.25" cy="309.81" r="0.95" fill="#8a0a2a"/>
<circle cx="88.96" cy="309.68" r="0.95" fill="#8a0a2a"/>
<circle cx="94.62" cy="309.33" r="0.95" fill="#8a0a2a"/>
<circle cx="91.8" cy="308.7" r="0.95" fill="#8a0a2a"/>
<circle cx="89.81" cy="308.51" r="0.95" fill="#8a0a2a"/>
<circle cx="93.19" cy="308.28" r="0.95" fill="#8a0a2a"/>
<circle cx="94.5" cy="307.67" r="0.95" fill="#8a0a2a"/>
<circle cx="88.66" cy="307.63" r="0.95" fill="#8a0a2a"/>
<circle cx="91.52" cy="307.28" r="0.95" fill="#8a0a2a"/>
<circle cx="90.09" cy="307.02" r="0.95" fill="#8a0a2a"/>
<circle cx="92.83" cy="306.67" r="0.95" fill="#8a0a2a"/>
<circle cx="94.18" cy="306.12" r="0.95" fill="#8a0a2a"/>
<circle cx="89.05" cy="306.01" r="0.95" fill="#8a0a2a"/>
<circle cx="91.24" cy="305.86" r="0.95" fill="#8a0a2a"/>
<circle cx="95.43" cy="305.39" r="0.95" fill="#8a0a2a"/>
<circle cx="92.4" cy="304.99" r="0.95" fill="#8a0a2a"/>
<circle cx="90.38" cy="304.68" r="0.95" fill="#8a0a2a"/>
<circle cx="93.72" cy="304.38" r="0.95" fill="#8a0a2a"/>
<circle cx="89.17" cy="303.89" r="0.95" fill="#8a0a2a"/>
<circle cx="91.8" cy="303.63" r="0.95" fill="#8a0a2a"/>
<circle cx="93.03" cy="302.86" r="0.95" fill="#8a0a2a"/>
<circle cx="90.59" cy="302.82" r="0.95" fill="#8a0a2a"/>
<circle cx="89.27" cy="302.23" r="0.95" fill="#8a0a2a"/>
<circle cx="91.8" cy="301.64" r="0.95" fill="#8a0a2a"/>
<circle cx="93.23" cy="301.41" r="0.95" fill="#8a0a2a"/>
<circle cx="90.42" cy="301.21" r="0.95" fill="#8a0a2a"/>
<circle cx="92.24" cy="300.26" r="0.95" fill="#8a0a2a"/>
<circle cx="93.94" cy="300.15" r="0.95" fill="#8a0a2a"/>
<circle cx="89.8" cy="299.9" r="0.95" fill="#8a0a2a"/>
<circle cx="88.39" cy="299.54" r="0.95" fill="#8a0a2a"/>
<circle cx="91.28" cy="299.17" r="0.95" fill="#8a0a2a"/>
<circle cx="92.55" cy="298.48" r="0.95" fill="#8a0a2a"/>
<circle cx="90.47" cy="297.97" r="0.95" fill="#8a0a2a"/>
<circle cx="93.78" cy="297.71" r="0.95" fill="#8a0a2a"/>
<circle cx="91.8" cy="297.08" r="0.95" fill="#8a0a2a"/>
<circle cx="89.38" cy="297.01" r="0.95" fill="#8a0a2a"/>
<circle cx="93.07" cy="296.39" r="0.95" fill="#8a0a2a"/>
<circle cx="91.61" cy="295.64" r="0.95" fill="#8a0a2a"/>
<circle cx="90.22" cy="295.22" r="0.95" fill="#8a0a2a"/>
<circle cx="92.87" cy="294.93" r="0.95" fill="#8a0a2a"/>
<circle cx="94.23" cy="294.42" r="0.95" fill="#8a0a2a"/>
<circle cx="91.8" cy="293.89" r="0.95" fill="#8a0a2a"/>
<circle cx="90.4" cy="293.51" r="0.95" fill="#8a0a2a"/>
<circle cx="88.95" cy="293.49" r="0.95" fill="#8a0a2a"/>
<circle cx="92.43" cy="292.59" r="0.95" fill="#8a0a2a"/>
<circle cx="93.88" cy="292.56" r="0.95" fill="#8a0a2a"/>
<circle cx="91.19" cy="291.83" r="0.95" fill="#8a0a2a"/>
<circle cx="92.3" cy="290.9" r="0.95" fill="#8a0a2a"/>
<circle cx="91.03" cy="290.2" r="0.95" fill="#8a0a2a"/>
<circle cx="92.88" cy="289.57" r="0.95" fill="#8a0a2a"/>
<circle cx="90.16" cy="289.04" r="0.95" fill="#8a0a2a"/>
<circle cx="91.8" cy="288.2" r="0.95" fill="#8a0a2a"/>
<circle cx="93.07" cy="287.49" r="0.95" fill="#8a0a2a"/>
<circle cx="91.8" cy="286.48" r="0.95" fill="#8a0a2a"/>
<circle cx="90.36" cy="286.29" r="0.95" fill="#8a0a2a"/>
<circle cx="91.58" cy="285.05" r="0.95" fill="#8a0a2a"/>
<circle cx="92.89" cy="284.42" r="0.95" fill="#8a0a2a"/>
<circle cx="90.6" cy="283.98" r="0.95" fill="#8a0a2a"/>
<circle cx="91.8" cy="282.77" r="0.95" fill="#8a0a2a"/>
<circle cx="90.38" cy="282.49" r="0.95" fill="#8a0a2a"/>
<circle cx="91.8" cy="281.14" r="0.95" fill="#8a0a2a"/>
<circle cx="92.99" cy="280.31" r="0.95" fill="#8a0a2a"/>
<circle cx="91.2" cy="279.82" r="0.95" fill="#8a0a2a"/>
<circle cx="92.2" cy="278.76" r="0.95" fill="#8a0a2a"/>
<circle cx="90.8" cy="278.38" r="0.95" fill="#8a0a2a"/>
<circle cx="91.8" cy="277.16" r="0.95" fill="#8a0a2a"/>
<circle cx="93.25" cy="277.12" r="0.95" fill="#8a0a2a"/>
<circle cx="91.8" cy="274.48" r="0.95" fill="#8a0a2a"/>
<circle cx="92.85" cy="273.47" r="0.95" fill="#8a0a2a"/>
<circle cx="91.66" cy="272.64" r="0.95" fill="#8a0a2a"/>
<circle cx="91.8" cy="270.66" r="0.95" fill="#8a0a2a"/>
<circle cx="91.8" cy="268.4" r="0.95" fill="#8a0a2a"/>
<circle cx="92.68" cy="267.24" r="0.95" fill="#8a0a2a"/>
<circle cx="91.8" cy="265.72" r="0.95" fill="#8a0a2a"/>
<circle cx="91.09" cy="264.46" r="0.95" fill="#8a0a2a"/>
<circle cx="114.26" cy="258.76" r="0.95" fill="#4d8c34"/>
<circle cx="114.11" cy="267.85" r="0.95" fill="#4d8c34"/>
<circle cx="114.08" cy="268.72" r="0.95" fill="#4d8c34"/>
<circle cx="114.27" cy="279.11" r="0.95" fill="#4d8c34"/>
<circle cx="114.32" cy="295.2" r="0.95" fill="#4d8c34"/>
<circle cx="114.11" cy="308.79" r="0.95" fill="#4d8c34"/>
<circle cx="114.25" cy="314.18" r="0.95" fill="#4d8c34"/>
<circle cx="113.42" cy="337.67" r="0.95" fill="#4d8c34"/>
<circle cx="114.95" cy="337.67" r="0.95" fill="#4d8c34"/>
<circle cx="114.34" cy="339.44" r="0.95" fill="#4d8c34"/>
<circle cx="131.7" cy="340.7" r="0.95" fill="#4d8c34"/>
<circle cx="133" cy="340.66" r="0.95" fill="#4d8c34"/>
<circle cx="130.41" cy="340.53" r="0.95" fill="#4d8c34"/>
<circle cx="129.11" cy="340.49" r="0.95" fill="#4d8c34"/>
<circle cx="134.29" cy="340.49" r="0.95" fill="#4d8c34"/>
<circle cx="127.81" cy="340.47" r="0.95" fill="#4d8c34"/>
<circle cx="135.59" cy="340.42" r="0.95" fill="#4d8c34"/>
<circle cx="126.53" cy="340.26" r="0.95" fill="#4d8c34"/>
<circle cx="136.84" cy="340.08" r="0.95" fill="#4d8c34"/>
<circle cx="138.14" cy="340.03" r="0.95" fill="#4d8c34"/>
<circle cx="125.25" cy="340.02" r="0.95" fill="#4d8c34"/>
<circle cx="131.42" cy="339.43" r="0.95" fill="#4d8c34"/>
<circle cx="132.7" cy="339.22" r="0.95" fill="#4d8c34"/>
<circle cx="130.14" cy="339.2" r="0.95" fill="#4d8c34"/>
<circle cx="133.87" cy="338.66" r="0.95" fill="#4d8c34"/>
<circle cx="129.13" cy="338.39" r="0.95" fill="#4d8c34"/>
<circle cx="131.7" cy="338.05" r="0.95" fill="#4d8c34"/>
<circle cx="130.43" cy="337.77" r="0.95" fill="#4d8c34"/>
<circle cx="132.95" cy="337.69" r="0.95" fill="#4d8c34"/>
<circle cx="134.17" cy="337.24" r="0.95" fill="#4d8c34"/>
<circle cx="128.75" cy="337.14" r="0.95" fill="#4d8c34"/>
<circle cx="131.7" cy="336.57" r="0.95" fill="#4d8c34"/>
<circle cx="132.98" cy="336.33" r="0.95" fill="#4d8c34"/>
<circle cx="130.75" cy="335.68" r="0.95" fill="#4d8c34"/>
<circle cx="129.45" cy="335.64" r="0.95" fill="#4d8c34"/>
<circle cx="131.78" cy="334.89" r="0.95" fill="#4d8c34"/>
<circle cx="133.07" cy="334.74" r="0.95" fill="#4d8c34"/>
<circle cx="130.62" cy="334.31" r="0.95" fill="#4d8c34"/>
<circle cx="131.7" cy="333.16" r="0.95" fill="#4d8c34"/>
<circle cx="133" cy="333.11" r="0.95" fill="#4d8c34"/>
<circle cx="130.81" cy="332.22" r="0.95" fill="#4d8c34"/>
<circle cx="132.06" cy="331.85" r="0.95" fill="#4d8c34"/>
<circle cx="133.33" cy="331.62" r="0.95" fill="#4d8c34"/>
<circle cx="130.31" cy="331.02" r="0.95" fill="#4d8c34"/>
<circle cx="131.7" cy="330.24" r="0.95" fill="#4d8c34"/>
<circle cx="132.9" cy="329.75" r="0.95" fill="#4d8c34"/>
<circle cx="130.51" cy="329.71" r="0.95" fill="#4d8c34"/>
<circle cx="133.95" cy="328.98" r="0.95" fill="#4d8c34"/>
<circle cx="131.7" cy="328.71" r="0.95" fill="#4d8c34"/>
<circle cx="130.57" cy="328.06" r="0.95" fill="#4d8c34"/>
<circle cx="132.47" cy="327.67" r="0.95" fill="#4d8c34"/>
<circle cx="131.7" cy="326.15" r="0.95" fill="#4d8c34"/>
<circle cx="132.9" cy="325.65" r="0.95" fill="#4d8c34"/>
<circle cx="131.7" cy="323.65" r="0.95" fill="#4d8c34"/>
<circle cx="130.46" cy="323.25" r="0.95" fill="#4d8c34"/>
<circle cx="131.7" cy="322.29" r="0.95" fill="#4d8c34"/>
<circle cx="132.04" cy="321.04" r="0.95" fill="#4d8c34"/>
<circle cx="130.93" cy="320.37" r="0.95" fill="#4d8c34"/>
<circle cx="131.7" cy="319.04" r="0.95" fill="#4d8c34"/>
<circle cx="130.84" cy="318.07" r="0.95" fill="#4d8c34"/>
<circle cx="131.81" cy="317.2" r="0.95" fill="#4d8c34"/>
<circle cx="130.63" cy="316.65" r="0.95" fill="#4d8c34"/>
<circle cx="131.7" cy="315.62" r="0.95" fill="#4d8c34"/>
<circle cx="130.62" cy="314.89" r="0.95" fill="#4d8c34"/>
<circle cx="131.92" cy="314.33" r="0.95" fill="#4d8c34"/>
<circle cx="133.04" cy="313.68" r="0.95" fill="#4d8c34"/>
<circle cx="131.7" cy="312.92" r="0.95" fill="#4d8c34"/>
<circle cx="130.45" cy="312.58" r="0.95" fill="#4d8c34"/>
<circle cx="131.7" cy="311.59" r="0.95" fill="#4d8c34"/>
<circle cx="132.81" cy="310.91" r="0.95" fill="#4d8c34"/>
<circle cx="131.09" cy="310.44" r="0.95" fill="#4d8c34"/>
<circle cx="132.13" cy="309.65" r="0.95" fill="#4d8c34"/>
<circle cx="131.18" cy="308.76" r="0.95" fill="#4d8c34"/>
<circle cx="132.39" cy="308.3" r="0.95" fill="#4d8c34"/>
<circle cx="131.59" cy="307.28" r="0.95" fill="#4d8c34"/>
<circle cx="133.05" cy="307.18" r="0.95" fill="#4d8c34"/>
<circle cx="130.39" cy="306.78" r="0.95" fill="#4d8c34"/>
<circle cx="131.7" cy="305.56" r="0.95" fill="#4d8c34"/>
<circle cx="130.74" cy="304.68" r="0.95" fill="#4d8c34"/>
<circle cx="131.92" cy="304.13" r="0.95" fill="#4d8c34"/>
<circle cx="131.2" cy="303.04" r="0.95" fill="#4d8c34"/>
<circle cx="131.71" cy="301.85" r="0.95" fill="#4d8c34"/>
<circle cx="131.34" cy="300.6" r="0.95" fill="#4d8c34"/>
<circle cx="132.09" cy="299.54" r="0.95" fill="#4d8c34"/>
<circle cx="131.54" cy="298.36" r="0.95" fill="#4d8c34"/>
<circle cx="132.79" cy="297.99" r="0.95" fill="#4d8c34"/>
<circle cx="131.7" cy="296.31" r="0.95" fill="#4d8c34"/>
<circle cx="130.65" cy="295.55" r="0.95" fill="#4d8c34"/>
<circle cx="131.7" cy="293.81" r="0.95" fill="#4d8c34"/>
<circle cx="130.94" cy="292.75" r="0.95" fill="#4d8c34"/>
<circle cx="131.7" cy="291.54" r="0.95" fill="#4d8c34"/>
<circle cx="132.4" cy="290.45" r="0.95" fill="#4d8c34"/>
<circle cx="131.58" cy="289.45" r="0.95" fill="#4d8c34"/>
<circle cx="132.6" cy="288.64" r="0.95" fill="#4d8c34"/>
<circle cx="131.48" cy="287.97" r="0.95" fill="#4d8c34"/>
<circle cx="131.7" cy="286.27" r="0.95" fill="#4d8c34"/>
<circle cx="130.42" cy="286.06" r="0.95" fill="#4d8c34"/>
<circle cx="131.7" cy="283.67" r="0.95" fill="#4d8c34"/>
<circle cx="131.7" cy="282.21" r="0.95" fill="#4d8c34"/>
<circle cx="131.7" cy="280.42" r="0.95" fill="#4d8c34"/>
<circle cx="131.7" cy="278.89" r="0.95" fill="#4d8c34"/>
<circle cx="130.87" cy="277.89" r="0.95" fill="#4d8c34"/>
<circle cx="131.7" cy="275.43" r="0.95" fill="#4d8c34"/>
<circle cx="131.7" cy="273.69" r="0.95" fill="#4d8c34"/>
<circle cx="131.7" cy="271.36" r="0.95" fill="#4d8c34"/>
<circle cx="131.7" cy="269.97" r="0.95" fill="#4d8c34"/>
<circle cx="131" cy="268.87" r="0.95" fill="#4d8c34"/>
<circle cx="131.7" cy="266.71" r="0.95" fill="#4d8c34"/>
<circle cx="131.7" cy="264.77" r="0.95" fill="#4d8c34"/>
<circle cx="131.7" cy="262.89" r="0.95" fill="#4d8c34"/>
<circle cx="151.4" cy="340.81" r="0.95" fill="#4d8c34"/>
<circle cx="150.12" cy="340.59" r="0.95" fill="#4d8c34"/>
<circle cx="152.68" cy="340.57" r="0.95" fill="#4d8c34"/>
<circle cx="153.98" cy="340.51" r="0.95" fill="#4d8c34"/>
<circle cx="148.83" cy="340.42" r="0.95" fill="#4d8c34"/>
<circle cx="147.53" cy="340.39" r="0.95" fill="#4d8c34"/>
<circle cx="155.27" cy="340.35" r="0.95" fill="#4d8c34"/>
<circle cx="146.24" cy="340.24" r="0.95" fill="#4d8c34"/>
<circle cx="156.55" cy="340.16" r="0.95" fill="#4d8c34"/>
<circle cx="144.97" cy="339.97" r="0.95" fill="#4d8c34"/>
<circle cx="157.83" cy="339.94" r="0.95" fill="#4d8c34"/>
<circle cx="143.71" cy="339.63" r="0.95" fill="#4d8c34"/>
<circle cx="151.56" cy="339.52" r="0.95" fill="#4d8c34"/>
<circle cx="149.8" cy="339.33" r="0.95" fill="#4d8c34"/>
<circle cx="152.72" cy="338.94" r="0.95" fill="#4d8c34"/>
<circle cx="153.97" cy="338.57" r="0.95" fill="#4d8c34"/>
<circle cx="151.21" cy="338.26" r="0.95" fill="#4d8c34"/>
<circle cx="149.4" cy="338.09" r="0.95" fill="#4d8c34"/>
<circle cx="152.37" cy="337.68" r="0.95" fill="#4d8c34"/>
<circle cx="148.28" cy="337.42" r="0.95" fill="#4d8c34"/>
<circle cx="153.62" cy="337.3" r="0.95" fill="#4d8c34"/>
<circle cx="150.62" cy="337.11" r="0.95" fill="#4d8c34"/>
<circle cx="149.4" cy="336.66" r="0.95" fill="#4d8c34"/>
<circle cx="154.69" cy="336.57" r="0.95" fill="#4d8c34"/>
<circle cx="151.4" cy="335.86" r="0.95" fill="#4d8c34"/>
<circle cx="150.14" cy="335.55" r="0.95" fill="#4d8c34"/>
<circle cx="152.62" cy="335.42" r="0.95" fill="#4d8c34"/>
<circle cx="149" cy="334.93" r="0.95" fill="#4d8c34"/>
<circle cx="151.4" cy="334.2" r="0.95" fill="#4d8c34"/>
<circle cx="150.2" cy="333.69" r="0.95" fill="#4d8c34"/>
<circle cx="152.15" cy="333.14" r="0.95" fill="#4d8c34"/>
<circle cx="150.96" cy="332.63" r="0.95" fill="#4d8c34"/>
<circle cx="149.7" cy="332.31" r="0.95" fill="#4d8c34"/>
<circle cx="152.59" cy="331.91" r="0.95" fill="#4d8c34"/>
<circle cx="151.4" cy="331.23" r="0.95" fill="#4d8c34"/>
<circle cx="150.23" cy="330.67" r="0.95" fill="#4d8c34"/>
<circle cx="152.42" cy="330.42" r="0.95" fill="#4d8c34"/>
<circle cx="151.4" cy="329.58" r="0.95" fill="#4d8c34"/>
<circle cx="149.97" cy="329.39" r="0.95" fill="#4d8c34"/>
<circle cx="153.17" cy="329.36" r="0.95" fill="#4d8c34"/>
<circle cx="150.86" cy="328.4" r="0.95" fill="#4d8c34"/>
<circle cx="151.94" cy="327.67" r="0.95" fill="#4d8c34"/>
<circle cx="150.2" cy="327.28" r="0.95" fill="#4d8c34"/>
<circle cx="153.09" cy="327.07" r="0.95" fill="#4d8c34"/>
<circle cx="151.4" cy="325.55" r="0.95" fill="#4d8c34"/>
<circle cx="152.2" cy="324.53" r="0.95" fill="#4d8c34"/>
<circle cx="151.04" cy="323.96" r="0.95" fill="#4d8c34"/>
<circle cx="152.88" cy="323.42" r="0.95" fill="#4d8c34"/>
<circle cx="151.4" cy="322.55" r="0.95" fill="#4d8c34"/>
<circle cx="150.28" cy="321.88" r="0.95" fill="#4d8c34"/>
<circle cx="151.4" cy="320.39" r="0.95" fill="#4d8c34"/>
<circle cx="152.53" cy="319.75" r="0.95" fill="#4d8c34"/>
<circle cx="151.4" cy="318.68" r="0.95" fill="#4d8c34"/>
<circle cx="150.1" cy="318.61" r="0.95" fill="#4d8c34"/>
<circle cx="152.56" cy="318.09" r="0.95" fill="#4d8c34"/>
<circle cx="149.37" cy="317.53" r="0.95" fill="#4d8c34"/>
<circle cx="151.4" cy="316.42" r="0.95" fill="#4d8c34"/>
<circle cx="150.28" cy="315.75" r="0.95" fill="#4d8c34"/>
<circle cx="152.45" cy="315.64" r="0.95" fill="#4d8c34"/>
<circle cx="153.68" cy="315.23" r="0.95" fill="#4d8c34"/>
<circle cx="151.4" cy="314.58" r="0.95" fill="#4d8c34"/>
<circle cx="152.33" cy="313.67" r="0.95" fill="#4d8c34"/>
<circle cx="151.09" cy="313.29" r="0.95" fill="#4d8c34"/>
<circle cx="149.92" cy="312.73" r="0.95" fill="#4d8c34"/>
<circle cx="151.4" cy="312.01" r="0.95" fill="#4d8c34"/>
<circle cx="152.68" cy="311.76" r="0.95" fill="#4d8c34"/>
<circle cx="150.81" cy="310.85" r="0.95" fill="#4d8c34"/>
<circle cx="149.53" cy="310.61" r="0.95" fill="#4d8c34"/>
<circle cx="151.4" cy="309.57" r="0.95" fill="#4d8c34"/>
<circle cx="152.7" cy="309.53" r="0.95" fill="#4d8c34"/>
<circle cx="150.26" cy="308.94" r="0.95" fill="#4d8c34"/>
<circle cx="151.4" cy="308.12" r="0.95" fill="#4d8c34"/>
<circle cx="152.65" cy="307.75" r="0.95" fill="#4d8c34"/>
<circle cx="151.17" cy="306.84" r="0.95" fill="#4d8c34"/>
<circle cx="149.87" cy="306.72" r="0.95" fill="#4d8c34"/>
<circle cx="152.28" cy="306.16" r="0.95" fill="#4d8c34"/>
<circle cx="151.26" cy="305.35" r="0.95" fill="#4d8c34"/>
<circle cx="152.35" cy="304.63" r="0.95" fill="#4d8c34"/>
<circle cx="151.28" cy="303.88" r="0.95" fill="#4d8c34"/>
<circle cx="152.44" cy="303.28" r="0.95" fill="#4d8c34"/>
<circle cx="151.4" cy="302.29" r="0.95" fill="#4d8c34"/>
<circle cx="151.4" cy="300.54" r="0.95" fill="#4d8c34"/>
<circle cx="152.68" cy="300.31" r="0.95" fill="#4d8c34"/>
<circle cx="151.4" cy="298.41" r="0.95" fill="#4d8c34"/>
<circle cx="151.94" cy="297.23" r="0.95" fill="#4d8c34"/>
<circle cx="150.83" cy="296.55" r="0.95" fill="#4d8c34"/>
<circle cx="151.4" cy="295.19" r="0.95" fill="#4d8c34"/>
<circle cx="152.43" cy="294.4" r="0.95" fill="#4d8c34"/>
<circle cx="151.4" cy="293.32" r="0.95" fill="#4d8c34"/>
<circle cx="151.4" cy="291.71" r="0.95" fill="#4d8c34"/>
<circle cx="152.03" cy="290.57" r="0.95" fill="#4d8c34"/>
<circle cx="151.25" cy="289.53" r="0.95" fill="#4d8c34"/>
<circle cx="152.33" cy="288.8" r="0.95" fill="#4d8c34"/>
<circle cx="151.4" cy="286.83" r="0.95" fill="#4d8c34"/>
<circle cx="152.23" cy="285.83" r="0.95" fill="#4d8c34"/>
<circle cx="151.4" cy="284.58" r="0.95" fill="#4d8c34"/>
<circle cx="150.11" cy="284.4" r="0.95" fill="#4d8c34"/>
<circle cx="151.4" cy="282.1" r="0.95" fill="#4d8c34"/>
<circle cx="151.4" cy="279.56" r="0.95" fill="#4d8c34"/>
<circle cx="151.12" cy="278.29" r="0.95" fill="#4d8c34"/>
<circle cx="151.4" cy="275.16" r="0.95" fill="#4d8c34"/>
<circle cx="151.4" cy="273.68" r="0.95" fill="#4d8c34"/>
<circle cx="151.4" cy="270.59" r="0.95" fill="#4d8c34"/>
<circle cx="151.4" cy="268.95" r="0.95" fill="#4d8c34"/>
<circle cx="151.4" cy="267.31" r="0.95" fill="#4d8c34"/>
<circle cx="171.01" cy="263.27" r="0.95" fill="#4d8c34"/>
<circle cx="171" cy="288.15" r="0.95" fill="#4d8c34"/>
<circle cx="171.19" cy="290.79" r="0.95" fill="#4d8c34"/>
<circle cx="171.13" cy="311.97" r="0.95" fill="#4d8c34"/>
<circle cx="171.23" cy="317.32" r="0.95" fill="#4d8c34"/>
<circle cx="171.15" cy="321.8" r="0.95" fill="#4d8c34"/>
<circle cx="170.95" cy="326.05" r="0.95" fill="#4d8c34"/>
<circle cx="171.1" cy="327.91" r="0.95" fill="#4d8c34"/>
<circle cx="170.99" cy="329.59" r="0.95" fill="#4d8c34"/>
<circle cx="171.11" cy="330.53" r="0.95" fill="#4d8c34"/>
<circle cx="171.19" cy="332.25" r="0.95" fill="#4d8c34"/>
<circle cx="171.24" cy="333.93" r="0.95" fill="#4d8c34"/>
<circle cx="171.21" cy="335.82" r="0.95" fill="#4d8c34"/>
<circle cx="171.18" cy="336.8" r="0.95" fill="#4d8c34"/>
<circle cx="170.4" cy="338.56" r="0.95" fill="#4d8c34"/>
<circle cx="171.87" cy="338.36" r="0.95" fill="#4d8c34"/>
<circle cx="167.88" cy="339.77" r="0.95" fill="#4d8c34"/>
<circle cx="169.51" cy="339.83" r="0.95" fill="#4d8c34"/>
<circle cx="171.23" cy="339.64" r="0.95" fill="#4d8c34"/>
<circle cx="172.59" cy="339.7" r="0.95" fill="#4d8c34"/>
<circle cx="174.26" cy="339.73" r="0.95" fill="#4d8c34"/>
<circle cx="186.45" cy="275.59" r="0.95" fill="#4d8c34"/>
<circle cx="186.51" cy="321.67" r="0.95" fill="#4d8c34"/>
<circle cx="186.54" cy="323.52" r="0.95" fill="#4d8c34"/>
<circle cx="185.65" cy="326.13" r="0.95" fill="#4d8c34"/>
<circle cx="187.36" cy="326.16" r="0.95" fill="#4d8c34"/>
<circle cx="186.52" cy="328.85" r="0.95" fill="#4d8c34"/>
<circle cx="186.51" cy="330.39" r="0.95" fill="#4d8c34"/>
<circle cx="185.92" cy="332.31" r="0.95" fill="#4d8c34"/>
<circle cx="187.48" cy="332.24" r="0.95" fill="#4d8c34"/>
<circle cx="185.93" cy="335.92" r="0.95" fill="#4d8c34"/>
<circle cx="187.5" cy="335.89" r="0.95" fill="#4d8c34"/>
<circle cx="185.13" cy="337.46" r="0.95" fill="#4d8c34"/>
<circle cx="186.7" cy="337.46" r="0.95" fill="#4d8c34"/>
<circle cx="188.25" cy="337.5" r="0.95" fill="#4d8c34"/>
<circle cx="183.37" cy="339.26" r="0.95" fill="#4d8c34"/>
<circle cx="184.89" cy="339.34" r="0.95" fill="#4d8c34"/>
<circle cx="186.71" cy="339.29" r="0.95" fill="#4d8c34"/>
<circle cx="188.1" cy="339.42" r="0.95" fill="#4d8c34"/>
<circle cx="189.73" cy="339.21" r="0.95" fill="#4d8c34"/>
<circle cx="180.86" cy="340.28" r="0.95" fill="#4d8c34"/>
<circle cx="182.74" cy="340.27" r="0.95" fill="#4d8c34"/>
<circle cx="184.22" cy="340.28" r="0.95" fill="#4d8c34"/>
<circle cx="185.88" cy="340.36" r="0.95" fill="#4d8c34"/>
<circle cx="187.44" cy="340.11" r="0.95" fill="#4d8c34"/>
<circle cx="189.15" cy="340.27" r="0.95" fill="#4d8c34"/>
<circle cx="190.57" cy="340.34" r="0.95" fill="#4d8c34"/>
<circle cx="192.32" cy="340.18" r="0.95" fill="#4d8c34"/>
<circle cx="207.48" cy="296.8" r="0.95" fill="#1d3a70"/>
<circle cx="207.63" cy="317.29" r="0.95" fill="#1d3a70"/>
<circle cx="207.55" cy="332.18" r="0.95" fill="#1d3a70"/>
<circle cx="222.27" cy="291.73" r="0.95" fill="#1d3a70"/>
<circle cx="222.31" cy="305.73" r="0.95" fill="#1d3a70"/>
<circle cx="222.08" cy="307.55" r="0.95" fill="#1d3a70"/>
<circle cx="221.27" cy="309.25" r="0.95" fill="#1d3a70"/>
<circle cx="222.98" cy="309.41" r="0.95" fill="#1d3a70"/>
<circle cx="222.27" cy="310.05" r="0.95" fill="#1d3a70"/>
<circle cx="222.21" cy="311.09" r="0.95" fill="#1d3a70"/>
<circle cx="222.12" cy="311.95" r="0.95" fill="#1d3a70"/>
<circle cx="222.07" cy="313.77" r="0.95" fill="#1d3a70"/>
<circle cx="222.23" cy="315.59" r="0.95" fill="#1d3a70"/>
<circle cx="222.32" cy="317.17" r="0.95" fill="#1d3a70"/>
<circle cx="221.27" cy="321.7" r="0.95" fill="#1d3a70"/>
<circle cx="223.05" cy="321.72" r="0.95" fill="#1d3a70"/>
<circle cx="222.15" cy="323.39" r="0.95" fill="#1d3a70"/>
<circle cx="222.29" cy="325.22" r="0.95" fill="#1d3a70"/>
<circle cx="222.13" cy="326.84" r="0.95" fill="#1d3a70"/>
<circle cx="222.26" cy="328.66" r="0.95" fill="#1d3a70"/>
<circle cx="222.33" cy="330.59" r="0.95" fill="#1d3a70"/>
<circle cx="221.38" cy="332.17" r="0.95" fill="#1d3a70"/>
<circle cx="222.86" cy="332.27" r="0.95" fill="#1d3a70"/>
<circle cx="222.27" cy="333.91" r="0.95" fill="#1d3a70"/>
<circle cx="222.18" cy="336.64" r="0.95" fill="#1d3a70"/>
<circle cx="221.39" cy="338.48" r="0.95" fill="#1d3a70"/>
<circle cx="222.99" cy="338.51" r="0.95" fill="#1d3a70"/>
<circle cx="220.52" cy="340.29" r="0.95" fill="#1d3a70"/>
<circle cx="222.19" cy="340.24" r="0.95" fill="#1d3a70"/>
<circle cx="223.84" cy="340.34" r="0.95" fill="#1d3a70"/>
<circle cx="238.34" cy="309.13" r="0.95" fill="#1d3a70"/>
<circle cx="238.26" cy="312.82" r="0.95" fill="#1d3a70"/>
<circle cx="238.24" cy="316.27" r="0.95" fill="#1d3a70"/>
<circle cx="238.18" cy="318.98" r="0.95" fill="#1d3a70"/>
<circle cx="238.17" cy="321.78" r="0.95" fill="#1d3a70"/>
<circle cx="238.14" cy="324.29" r="0.95" fill="#1d3a70"/>
<circle cx="238.06" cy="326.91" r="0.95" fill="#1d3a70"/>
<circle cx="238.12" cy="328.69" r="0.95" fill="#1d3a70"/>
<circle cx="238.1" cy="329.55" r="0.95" fill="#1d3a70"/>
<circle cx="236.55" cy="330.48" r="0.95" fill="#1d3a70"/>
<circle cx="238.19" cy="330.53" r="0.95" fill="#1d3a70"/>
<circle cx="239.84" cy="330.48" r="0.95" fill="#1d3a70"/>
<circle cx="238.18" cy="332.26" r="0.95" fill="#1d3a70"/>
<circle cx="238.25" cy="333.98" r="0.95" fill="#1d3a70"/>
<circle cx="238.35" cy="335.89" r="0.95" fill="#1d3a70"/>
<circle cx="237.5" cy="337.46" r="0.95" fill="#1d3a70"/>
<circle cx="238.92" cy="337.6" r="0.95" fill="#1d3a70"/>
<circle cx="236.71" cy="339.32" r="0.95" fill="#1d3a70"/>
<circle cx="238.29" cy="339.36" r="0.95" fill="#1d3a70"/>
<circle cx="239.65" cy="339.47" r="0.95" fill="#1d3a70"/>
<circle cx="252.92" cy="274.76" r="0.95" fill="#1d3a70"/>
<circle cx="252.89" cy="308.3" r="0.95" fill="#1d3a70"/>
<circle cx="252.84" cy="334.95" r="0.95" fill="#1d3a70"/>
<circle cx="252.77" cy="336.79" r="0.95" fill="#1d3a70"/>
<circle cx="252.69" cy="338.35" r="0.95" fill="#1d3a70"/>
<line x1="67.3" y1="294.25" x2="80.5" y2="294.25" stroke="#8dbde8" stroke-width="1.3"/>
<line x1="85.2" y1="315.91" x2="98.4" y2="315.91" stroke="#8dbde8" stroke-width="1.3"/>
<line x1="107.6" y1="302.2" x2="120.8" y2="302.2" stroke="#8dbde8" stroke-width="1.3"/>
<line x1="125.1" y1="317.23" x2="138.3" y2="317.23" stroke="#8dbde8" stroke-width="1.3"/>
<line x1="144.8" y1="319" x2="158" y2="319" stroke="#8dbde8" stroke-width="1.3"/>
<line x1="164.5" y1="329.61" x2="177.7" y2="329.61" stroke="#8dbde8" stroke-width="1.3"/>
<line x1="180" y1="338.45" x2="193.2" y2="338.45" stroke="#8dbde8" stroke-width="1.3"/>
<line x1="201.1" y1="317.23" x2="214.3" y2="317.23" stroke="#8dbde8" stroke-width="1.3"/>
<line x1="215.7" y1="324.3" x2="228.9" y2="324.3" stroke="#8dbde8" stroke-width="1.3"/>
<line x1="231.9" y1="330.49" x2="245.1" y2="330.49" stroke="#8dbde8" stroke-width="1.3"/>
<line x1="246.4" y1="335.8" x2="259.6" y2="335.8" stroke="#8dbde8" stroke-width="1.3"/>
<text x="73.1" y="348.2" font-size="4.3" fill="#2a2a2a" text-anchor="middle">(n=163)</text>
<text x="92" y="348.2" font-size="4.3" fill="#2a2a2a" text-anchor="middle">(n=187)</text>
<text x="114.2" y="348.2" font-size="4.3" fill="#2a2a2a" text-anchor="middle">(n=10)</text>
<text x="131.7" y="348.2" font-size="4.3" fill="#2a2a2a" text-anchor="middle">(n=100)</text>
<text x="151.9" y="348.2" font-size="4.3" fill="#2a2a2a" text-anchor="middle">(n=105)</text>
<text x="171.5" y="348.2" font-size="4.3" fill="#2a2a2a" text-anchor="middle">(n=20)</text>
<text x="187" y="348.2" font-size="4.3" fill="#2a2a2a" text-anchor="middle">(n=23)</text>
<text x="208" y="348.2" font-size="4.3" fill="#2a2a2a" text-anchor="middle">(n=3)</text>
<text x="222.4" y="348.2" font-size="4.3" fill="#2a2a2a" text-anchor="middle">(n=28)</text>
<text x="238.5" y="348.2" font-size="4.3" fill="#2a2a2a" text-anchor="middle">(n=19)</text>
<text x="253" y="348.2" font-size="4.3" fill="#2a2a2a" text-anchor="middle">(n=5)</text>
<text x="73.6" y="356.6" font-size="4.6" fill="#2a2a2a" text-anchor="end" textLength="26.17" lengthAdjust="spacingAndGlyphs" transform="rotate(-45 73.6 356.6)">ETV6-RUNX1</text>
<text x="92.6" y="355.6" font-size="4.6" fill="#2a2a2a" text-anchor="end" textLength="36.63" lengthAdjust="spacingAndGlyphs" transform="rotate(-45 92.6 355.6)">High hyperdiploid</text>
<text x="111.3" y="357.6" font-size="4.6" fill="#2a2a2a" text-anchor="end" textLength="13.37" lengthAdjust="spacingAndGlyphs" transform="rotate(-45 111.3 357.6)">iAMP21</text>
<text x="132.2" y="355.6" font-size="4.6" fill="#2a2a2a" text-anchor="end" textLength="28.64" lengthAdjust="spacingAndGlyphs" transform="rotate(-45 132.2 355.6)">Non-recurrent</text>
<text x="151.3" y="356.1" font-size="4.6" fill="#2a2a2a" text-anchor="end" textLength="22.28" lengthAdjust="spacingAndGlyphs" transform="rotate(-45 151.3 356.1)">Undefined</text>
<text x="171.3" y="356.1" font-size="4.6" fill="#2a2a2a" text-anchor="end" textLength="19.1" lengthAdjust="spacingAndGlyphs" transform="rotate(-45 171.3 356.1)">dic(9;20)</text>
<text x="186.8" y="356.1" font-size="4.6" fill="#2a2a2a" text-anchor="end" textLength="25.81" lengthAdjust="spacingAndGlyphs" transform="rotate(-45 186.8 356.1)">TCF3-PBX1</text>
<text x="208.3" y="355.6" font-size="4.6" fill="#2a2a2a" text-anchor="end" textLength="14.85" lengthAdjust="spacingAndGlyphs" transform="rotate(-45 208.3 355.6)">&gt;67Chr</text>
<text x="222.7" y="356" font-size="4.6" fill="#2a2a2a" text-anchor="end" textLength="10.19" lengthAdjust="spacingAndGlyphs" transform="rotate(-45 222.7 356)">MLL</text>
<text x="238.3" y="356" font-size="4.6" fill="#2a2a2a" text-anchor="end" textLength="20.44" lengthAdjust="spacingAndGlyphs" transform="rotate(-45 238.3 356)">BCR-ABL1</text>
<text x="253.3" y="356" font-size="4.6" fill="#2a2a2a" text-anchor="end" textLength="15.01" lengthAdjust="spacingAndGlyphs" transform="rotate(-45 253.3 356)">&lt;45Chr</text>
<line x1="60.2" y1="250.1" x2="60.2" y2="341.6" stroke="#222" stroke-width="1.2"/>
<line x1="57.2" y1="341.1" x2="60.2" y2="341.1" stroke="#222" stroke-width="1"/>
<text x="54" y="343.8" font-size="8.6" fill="#2a2a2a" text-anchor="end">0</text>
<line x1="57.2" y1="323.42" x2="60.2" y2="323.42" stroke="#222" stroke-width="1"/>
<text x="54" y="326.12" font-size="8.6" fill="#2a2a2a" text-anchor="end">20</text>
<line x1="57.2" y1="305.74" x2="60.2" y2="305.74" stroke="#222" stroke-width="1"/>
<text x="54" y="308.44" font-size="8.6" fill="#2a2a2a" text-anchor="end">40</text>
<line x1="57.2" y1="288.06" x2="60.2" y2="288.06" stroke="#222" stroke-width="1"/>
<text x="54" y="290.76" font-size="8.6" fill="#2a2a2a" text-anchor="end">60</text>
<line x1="57.2" y1="270.38" x2="60.2" y2="270.38" stroke="#222" stroke-width="1"/>
<text x="54" y="273.08" font-size="8.6" fill="#2a2a2a" text-anchor="end">80</text>
<line x1="57.2" y1="252.7" x2="60.2" y2="252.7" stroke="#222" stroke-width="1"/>
<text x="54" y="255.4" font-size="8.6" fill="#2a2a2a" text-anchor="end">100</text>
<line x1="60.2" y1="341.1" x2="261.6" y2="341.1" stroke="#222" stroke-width="1.3"/>
<text x="35.8" y="295.5" font-size="10" fill="#2a2a2a" text-anchor="middle" textLength="50.4" lengthAdjust="spacingAndGlyphs" transform="rotate(-90 35.8 295.5)">% methylation</text>
<text x="82.55" y="391" font-size="8.4" fill="#2a2a2a" text-anchor="middle" textLength="21.57" lengthAdjust="spacingAndGlyphs">Good</text>
<text x="82.85" y="400.9" font-size="8.4" fill="#2a2a2a" text-anchor="middle" textLength="12.77" lengthAdjust="spacingAndGlyphs">risk</text>
<text x="150.3" y="391" font-size="8.4" fill="#2a2a2a" text-anchor="middle" textLength="47.87" lengthAdjust="spacingAndGlyphs">Intermediate</text>
<text x="150.55" y="400.9" font-size="8.4" fill="#2a2a2a" text-anchor="middle" textLength="13.37" lengthAdjust="spacingAndGlyphs">risk</text>
<text x="230.15" y="391" font-size="8.4" fill="#2a2a2a" text-anchor="middle" textLength="17.37" lengthAdjust="spacingAndGlyphs">High</text>
<text x="230.15" y="400.9" font-size="8.4" fill="#2a2a2a" text-anchor="middle" textLength="13.57" lengthAdjust="spacingAndGlyphs">risk</text>
<text x="278.6" y="231.9" font-size="11.6" fill="#000" font-weight="bold">D</text>
<rect x="311.8" y="242.7" width="200.5" height="32.77" fill="#e6c6bd"/>
<rect x="311.8" y="275.47" width="200.5" height="32.87" fill="#fcedcc"/>
<rect x="311.8" y="308.33" width="200.5" height="32.77" fill="#dde7f5"/>
<line x1="324.6" y1="247.62" x2="324.6" y2="339.13" stroke="#333" stroke-width="0.8"/>
<rect x="319.6" y="274.19" width="10" height="28.54" fill="#c9c4c8" fill-opacity="0.85"/>
<line x1="318.85" y1="247.62" x2="330.35" y2="247.62" stroke="#4a4a4a" stroke-width="1.1"/>
<line x1="318.85" y1="339.13" x2="330.35" y2="339.13" stroke="#4a4a4a" stroke-width="1.1"/>
<circle cx="324.6" cy="338.47" r="0.95" fill="#8a0a2a"/>
<circle cx="325.93" cy="337.67" r="0.95" fill="#8a0a2a"/>
<circle cx="324.6" cy="336.8" r="0.95" fill="#8a0a2a"/>
<circle cx="324.6" cy="335.1" r="0.95" fill="#8a0a2a"/>
<circle cx="326.12" cy="334.8" r="0.95" fill="#8a0a2a"/>
<circle cx="324.6" cy="333.03" r="0.95" fill="#8a0a2a"/>
<circle cx="323.83" cy="331.69" r="0.95" fill="#8a0a2a"/>
<circle cx="325.26" cy="331.09" r="0.95" fill="#8a0a2a"/>
<circle cx="324.17" cy="329.99" r="0.95" fill="#8a0a2a"/>
<circle cx="324.6" cy="328.36" r="0.95" fill="#8a0a2a"/>
<circle cx="326.1" cy="327.97" r="0.95" fill="#8a0a2a"/>
<circle cx="324.6" cy="326.59" r="0.95" fill="#8a0a2a"/>
<circle cx="324.6" cy="324.95" r="0.95" fill="#8a0a2a"/>
<circle cx="323.06" cy="324.79" r="0.95" fill="#8a0a2a"/>
<circle cx="324.6" cy="323.01" r="0.95" fill="#8a0a2a"/>
<circle cx="326.09" cy="322.59" r="0.95" fill="#8a0a2a"/>
<circle cx="324.14" cy="321.53" r="0.95" fill="#8a0a2a"/>
<circle cx="325.57" cy="320.92" r="0.95" fill="#8a0a2a"/>
<circle cx="324.42" cy="319.88" r="0.95" fill="#8a0a2a"/>
<circle cx="325.04" cy="318.46" r="0.95" fill="#8a0a2a"/>
<circle cx="323.82" cy="317.5" r="0.95" fill="#8a0a2a"/>
<circle cx="325.16" cy="316.73" r="0.95" fill="#8a0a2a"/>
<circle cx="322.91" cy="316.25" r="0.95" fill="#8a0a2a"/>
<circle cx="324.6" cy="314.74" r="0.95" fill="#8a0a2a"/>
<circle cx="326.09" cy="314.32" r="0.95" fill="#8a0a2a"/>
<circle cx="324.6" cy="313.15" r="0.95" fill="#8a0a2a"/>
<circle cx="323.33" cy="312.26" r="0.95" fill="#8a0a2a"/>
<circle cx="324.6" cy="311.01" r="0.95" fill="#8a0a2a"/>
<circle cx="326.15" cy="311.01" r="0.95" fill="#8a0a2a"/>
<circle cx="323.19" cy="310.36" r="0.95" fill="#8a0a2a"/>
<circle cx="327.54" cy="310.33" r="0.95" fill="#8a0a2a"/>
<circle cx="324.6" cy="309.15" r="0.95" fill="#8a0a2a"/>
<circle cx="326.13" cy="308.91" r="0.95" fill="#8a0a2a"/>
<circle cx="323.75" cy="307.85" r="0.95" fill="#8a0a2a"/>
<circle cx="322.21" cy="307.66" r="0.95" fill="#8a0a2a"/>
<circle cx="325.06" cy="307.03" r="0.95" fill="#8a0a2a"/>
<circle cx="326.61" cy="306.95" r="0.95" fill="#8a0a2a"/>
<circle cx="328.15" cy="306.75" r="0.95" fill="#8a0a2a"/>
<circle cx="323.76" cy="306.19" r="0.95" fill="#8a0a2a"/>
<circle cx="325.1" cy="305.41" r="0.95" fill="#8a0a2a"/>
<circle cx="326.63" cy="305.21" r="0.95" fill="#8a0a2a"/>
<circle cx="323.33" cy="304.7" r="0.95" fill="#8a0a2a"/>
<circle cx="321.92" cy="304.06" r="0.95" fill="#8a0a2a"/>
<circle cx="325.61" cy="303.95" r="0.95" fill="#8a0a2a"/>
<circle cx="324.6" cy="302.58" r="0.95" fill="#8a0a2a"/>
<circle cx="323.07" cy="302.31" r="0.95" fill="#8a0a2a"/>
<circle cx="326.13" cy="302.31" r="0.95" fill="#8a0a2a"/>
<circle cx="321.65" cy="301.7" r="0.95" fill="#8a0a2a"/>
<circle cx="327.5" cy="301.58" r="0.95" fill="#8a0a2a"/>
<circle cx="329.04" cy="301.39" r="0.95" fill="#8a0a2a"/>
<circle cx="320.2" cy="301.16" r="0.95" fill="#8a0a2a"/>
<circle cx="324.6" cy="300.63" r="0.95" fill="#8a0a2a"/>
<circle cx="323.06" cy="300.47" r="0.95" fill="#8a0a2a"/>
<circle cx="326.11" cy="300.26" r="0.95" fill="#8a0a2a"/>
<circle cx="321.78" cy="299.6" r="0.95" fill="#8a0a2a"/>
<circle cx="327.38" cy="299.38" r="0.95" fill="#8a0a2a"/>
<circle cx="324.6" cy="299.03" r="0.95" fill="#8a0a2a"/>
<circle cx="323.1" cy="298.63" r="0.95" fill="#8a0a2a"/>
<circle cx="326.02" cy="298.41" r="0.95" fill="#8a0a2a"/>
<circle cx="320.92" cy="298.31" r="0.95" fill="#8a0a2a"/>
<circle cx="327.43" cy="297.77" r="0.95" fill="#8a0a2a"/>
<circle cx="324.6" cy="297.38" r="0.95" fill="#8a0a2a"/>
<circle cx="322.65" cy="297.14" r="0.95" fill="#8a0a2a"/>
<circle cx="325.8" cy="296.39" r="0.95" fill="#8a0a2a"/>
<circle cx="327.62" cy="296.23" r="0.95" fill="#8a0a2a"/>
<circle cx="321.42" cy="296.2" r="0.95" fill="#8a0a2a"/>
<circle cx="323.92" cy="295.98" r="0.95" fill="#8a0a2a"/>
<circle cx="329.05" cy="295.64" r="0.95" fill="#8a0a2a"/>
<circle cx="320.2" cy="295.25" r="0.95" fill="#8a0a2a"/>
<circle cx="324.6" cy="294.29" r="0.95" fill="#8a0a2a"/>
<circle cx="326.11" cy="293.93" r="0.95" fill="#8a0a2a"/>
<circle cx="323.12" cy="293.82" r="0.95" fill="#8a0a2a"/>
<circle cx="327.53" cy="293.32" r="0.95" fill="#8a0a2a"/>
<circle cx="321.88" cy="292.89" r="0.95" fill="#8a0a2a"/>
<circle cx="320.34" cy="292.84" r="0.95" fill="#8a0a2a"/>
<circle cx="324.6" cy="292.43" r="0.95" fill="#8a0a2a"/>
<circle cx="326.15" cy="292.35" r="0.95" fill="#8a0a2a"/>
<circle cx="328.58" cy="292.17" r="0.95" fill="#8a0a2a"/>
<circle cx="323.17" cy="291.82" r="0.95" fill="#8a0a2a"/>
<circle cx="319.43" cy="291.58" r="0.95" fill="#8a0a2a"/>
<circle cx="324.91" cy="290.91" r="0.95" fill="#8a0a2a"/>
<circle cx="326.67" cy="290.89" r="0.95" fill="#8a0a2a"/>
<circle cx="322.23" cy="290.59" r="0.95" fill="#8a0a2a"/>
<circle cx="323.8" cy="289.82" r="0.95" fill="#8a0a2a"/>
<circle cx="327.67" cy="289.71" r="0.95" fill="#8a0a2a"/>
<circle cx="320.97" cy="289.69" r="0.95" fill="#8a0a2a"/>
<circle cx="325.27" cy="289.32" r="0.95" fill="#8a0a2a"/>
<circle cx="322.78" cy="288.65" r="0.95" fill="#8a0a2a"/>
<circle cx="326.47" cy="288.34" r="0.95" fill="#8a0a2a"/>
<circle cx="328.14" cy="288.23" r="0.95" fill="#8a0a2a"/>
<circle cx="324.6" cy="287.8" r="0.95" fill="#8a0a2a"/>
<circle cx="321.51" cy="287.77" r="0.95" fill="#8a0a2a"/>
<circle cx="320.03" cy="287.3" r="0.95" fill="#8a0a2a"/>
<circle cx="323.21" cy="287.12" r="0.95" fill="#8a0a2a"/>
<circle cx="325.83" cy="286.86" r="0.95" fill="#8a0a2a"/>
<circle cx="327.29" cy="286.35" r="0.95" fill="#8a0a2a"/>
<circle cx="328.84" cy="286.3" r="0.95" fill="#8a0a2a"/>
<circle cx="324.6" cy="285.46" r="0.95" fill="#8a0a2a"/>
<circle cx="323.05" cy="285.36" r="0.95" fill="#8a0a2a"/>
<circle cx="326.14" cy="285.25" r="0.95" fill="#8a0a2a"/>
<circle cx="321.61" cy="284.8" r="0.95" fill="#8a0a2a"/>
<circle cx="327.48" cy="284.49" r="0.95" fill="#8a0a2a"/>
<circle cx="320.23" cy="284.08" r="0.95" fill="#8a0a2a"/>
<circle cx="324.6" cy="283.75" r="0.95" fill="#8a0a2a"/>
<circle cx="326.07" cy="283.26" r="0.95" fill="#8a0a2a"/>
<circle cx="323.25" cy="282.99" r="0.95" fill="#8a0a2a"/>
<circle cx="321.7" cy="282.86" r="0.95" fill="#8a0a2a"/>
<circle cx="327.5" cy="282.66" r="0.95" fill="#8a0a2a"/>
<circle cx="320.24" cy="282.35" r="0.95" fill="#8a0a2a"/>
<circle cx="324.6" cy="282.1" r="0.95" fill="#8a0a2a"/>
<circle cx="328.89" cy="281.98" r="0.95" fill="#8a0a2a"/>
<circle cx="325.97" cy="281.38" r="0.95" fill="#8a0a2a"/>
<circle cx="323.52" cy="280.99" r="0.95" fill="#8a0a2a"/>
<circle cx="322.03" cy="280.55" r="0.95" fill="#8a0a2a"/>
<circle cx="327.26" cy="280.52" r="0.95" fill="#8a0a2a"/>
<circle cx="324.71" cy="280" r="0.95" fill="#8a0a2a"/>
<circle cx="320.61" cy="279.93" r="0.95" fill="#8a0a2a"/>
<circle cx="328.6" cy="279.74" r="0.95" fill="#8a0a2a"/>
<circle cx="323.37" cy="279.21" r="0.95" fill="#8a0a2a"/>
<circle cx="325.86" cy="278.96" r="0.95" fill="#8a0a2a"/>
<circle cx="321.91" cy="278.7" r="0.95" fill="#8a0a2a"/>
<circle cx="327.34" cy="278.52" r="0.95" fill="#8a0a2a"/>
<circle cx="320.42" cy="278.25" r="0.95" fill="#8a0a2a"/>
<circle cx="324.6" cy="277.91" r="0.95" fill="#8a0a2a"/>
<circle cx="323.1" cy="277.51" r="0.95" fill="#8a0a2a"/>
<circle cx="326.04" cy="277.34" r="0.95" fill="#8a0a2a"/>
<circle cx="321.6" cy="277.14" r="0.95" fill="#8a0a2a"/>
<circle cx="327.51" cy="276.84" r="0.95" fill="#8a0a2a"/>
<circle cx="324.6" cy="275.89" r="0.95" fill="#8a0a2a"/>
<circle cx="326.1" cy="275.49" r="0.95" fill="#8a0a2a"/>
<circle cx="323.11" cy="275.45" r="0.95" fill="#8a0a2a"/>
<circle cx="321.57" cy="275.34" r="0.95" fill="#8a0a2a"/>
<circle cx="327.46" cy="274.76" r="0.95" fill="#8a0a2a"/>
<circle cx="329.01" cy="274.75" r="0.95" fill="#8a0a2a"/>
<circle cx="320.19" cy="274.63" r="0.95" fill="#8a0a2a"/>
<circle cx="324.6" cy="273.75" r="0.95" fill="#8a0a2a"/>
<circle cx="326.12" cy="273.43" r="0.95" fill="#8a0a2a"/>
<circle cx="323.11" cy="273.32" r="0.95" fill="#8a0a2a"/>
<circle cx="327.4" cy="272.57" r="0.95" fill="#8a0a2a"/>
<circle cx="324.6" cy="271.88" r="0.95" fill="#8a0a2a"/>
<circle cx="323.1" cy="271.5" r="0.95" fill="#8a0a2a"/>
<circle cx="325.75" cy="270.84" r="0.95" fill="#8a0a2a"/>
<circle cx="324.48" cy="269.96" r="0.95" fill="#8a0a2a"/>
<circle cx="322.93" cy="269.87" r="0.95" fill="#8a0a2a"/>
<circle cx="326.7" cy="269.62" r="0.95" fill="#8a0a2a"/>
<circle cx="325.1" cy="268.55" r="0.95" fill="#8a0a2a"/>
<circle cx="322.2" cy="268.5" r="0.95" fill="#8a0a2a"/>
<circle cx="323.73" cy="267.83" r="0.95" fill="#8a0a2a"/>
<circle cx="325.9" cy="267.22" r="0.95" fill="#8a0a2a"/>
<circle cx="322.5" cy="266.88" r="0.95" fill="#8a0a2a"/>
<circle cx="324.6" cy="265.94" r="0.95" fill="#8a0a2a"/>
<circle cx="326.36" cy="265.74" r="0.95" fill="#8a0a2a"/>
<circle cx="323.16" cy="265.37" r="0.95" fill="#8a0a2a"/>
<circle cx="321.61" cy="265.24" r="0.95" fill="#8a0a2a"/>
<circle cx="324.6" cy="264.13" r="0.95" fill="#8a0a2a"/>
<circle cx="326.1" cy="263.73" r="0.95" fill="#8a0a2a"/>
<circle cx="323.12" cy="263.68" r="0.95" fill="#8a0a2a"/>
<circle cx="327.47" cy="263.01" r="0.95" fill="#8a0a2a"/>
<circle cx="324.6" cy="262.02" r="0.95" fill="#8a0a2a"/>
<circle cx="326.13" cy="261.78" r="0.95" fill="#8a0a2a"/>
<circle cx="323.32" cy="261.15" r="0.95" fill="#8a0a2a"/>
<circle cx="327.33" cy="260.8" r="0.95" fill="#8a0a2a"/>
<circle cx="324.6" cy="259.73" r="0.95" fill="#8a0a2a"/>
<circle cx="323.09" cy="259.4" r="0.95" fill="#8a0a2a"/>
<circle cx="325.88" cy="258.86" r="0.95" fill="#8a0a2a"/>
<circle cx="324.6" cy="257.42" r="0.95" fill="#8a0a2a"/>
<circle cx="323.05" cy="257.39" r="0.95" fill="#8a0a2a"/>
<circle cx="325.83" cy="256.47" r="0.95" fill="#8a0a2a"/>
<circle cx="324.43" cy="255.8" r="0.95" fill="#8a0a2a"/>
<circle cx="322.97" cy="255.28" r="0.95" fill="#8a0a2a"/>
<circle cx="324.88" cy="254.32" r="0.95" fill="#8a0a2a"/>
<circle cx="323.7" cy="253.32" r="0.95" fill="#8a0a2a"/>
<circle cx="325.46" cy="252.88" r="0.95" fill="#8a0a2a"/>
<circle cx="322.24" cy="252.78" r="0.95" fill="#8a0a2a"/>
<circle cx="324.6" cy="251.28" r="0.95" fill="#8a0a2a"/>
<circle cx="323.11" cy="250.85" r="0.95" fill="#8a0a2a"/>
<circle cx="325.44" cy="249.98" r="0.95" fill="#8a0a2a"/>
<circle cx="324.38" cy="248.84" r="0.95" fill="#8a0a2a"/>
<circle cx="325.78" cy="248.19" r="0.95" fill="#8a0a2a"/>
<circle cx="323.03" cy="248.09" r="0.95" fill="#8a0a2a"/>
<line x1="319.6" y1="287.96" x2="329.6" y2="287.96" stroke="#333" stroke-width="1.2"/>
<line x1="340.1" y1="269.27" x2="340.1" y2="327.32" stroke="#333" stroke-width="0.8"/>
<rect x="335.1" y="280.09" width="10" height="29.52" fill="#c9c4c8" fill-opacity="0.85"/>
<line x1="334.35" y1="269.27" x2="345.85" y2="269.27" stroke="#4a4a4a" stroke-width="1.1"/>
<line x1="334.35" y1="327.32" x2="345.85" y2="327.32" stroke="#4a4a4a" stroke-width="1.1"/>
<circle cx="340.1" cy="327.3" r="0.95" fill="#8a0a2a"/>
<circle cx="340.1" cy="325.59" r="0.95" fill="#8a0a2a"/>
<circle cx="341.53" cy="324.68" r="0.95" fill="#8a0a2a"/>
<circle cx="340.1" cy="323.72" r="0.95" fill="#8a0a2a"/>
<circle cx="341.39" cy="322.61" r="0.95" fill="#8a0a2a"/>
<circle cx="339.84" cy="321.9" r="0.95" fill="#8a0a2a"/>
<circle cx="340.1" cy="319.56" r="0.95" fill="#8a0a2a"/>
<circle cx="338.71" cy="318.58" r="0.95" fill="#8a0a2a"/>
<circle cx="340.1" cy="316.19" r="0.95" fill="#8a0a2a"/>
<circle cx="341.21" cy="314.9" r="0.95" fill="#8a0a2a"/>
<circle cx="339.77" cy="314.01" r="0.95" fill="#8a0a2a"/>
<circle cx="340.1" cy="311.11" r="0.95" fill="#8a0a2a"/>
<circle cx="339.25" cy="309.63" r="0.95" fill="#8a0a2a"/>
<circle cx="340.1" cy="308.16" r="0.95" fill="#8a0a2a"/>
<circle cx="338.55" cy="307.46" r="0.95" fill="#8a0a2a"/>
<circle cx="340.1" cy="304.36" r="0.95" fill="#8a0a2a"/>
<circle cx="341.48" cy="303.37" r="0.95" fill="#8a0a2a"/>
<circle cx="340.1" cy="302.08" r="0.95" fill="#8a0a2a"/>
<circle cx="341.49" cy="301.1" r="0.95" fill="#8a0a2a"/>
<circle cx="340.1" cy="298.8" r="0.95" fill="#8a0a2a"/>
<circle cx="341.19" cy="297.5" r="0.95" fill="#8a0a2a"/>
<circle cx="340.1" cy="295.49" r="0.95" fill="#8a0a2a"/>
<circle cx="339.35" cy="293.96" r="0.95" fill="#8a0a2a"/>
<circle cx="341.03" cy="293.72" r="0.95" fill="#8a0a2a"/>
<circle cx="340.1" cy="291.59" r="0.95" fill="#8a0a2a"/>
<circle cx="341.54" cy="290.69" r="0.95" fill="#8a0a2a"/>
<circle cx="340.1" cy="289.49" r="0.95" fill="#8a0a2a"/>
<circle cx="341.6" cy="288.69" r="0.95" fill="#8a0a2a"/>
<circle cx="339.6" cy="287.87" r="0.95" fill="#8a0a2a"/>
<circle cx="337.9" cy="287.75" r="0.95" fill="#8a0a2a"/>
<circle cx="340.1" cy="285.7" r="0.95" fill="#8a0a2a"/>
<circle cx="338.44" cy="285.34" r="0.95" fill="#8a0a2a"/>
<circle cx="340.64" cy="284.09" r="0.95" fill="#8a0a2a"/>
<circle cx="339.31" cy="283.05" r="0.95" fill="#8a0a2a"/>
<circle cx="341.53" cy="282.64" r="0.95" fill="#8a0a2a"/>
<circle cx="337.8" cy="282.26" r="0.95" fill="#8a0a2a"/>
<circle cx="340.1" cy="280.58" r="0.95" fill="#8a0a2a"/>
<circle cx="341.8" cy="280.56" r="0.95" fill="#8a0a2a"/>
<circle cx="338.9" cy="279.38" r="0.95" fill="#8a0a2a"/>
<circle cx="340.1" cy="278.02" r="0.95" fill="#8a0a2a"/>
<circle cx="338.53" cy="277.36" r="0.95" fill="#8a0a2a"/>
<circle cx="340.1" cy="276.27" r="0.95" fill="#8a0a2a"/>
<circle cx="341.67" cy="275.6" r="0.95" fill="#8a0a2a"/>
<circle cx="338.85" cy="275.11" r="0.95" fill="#8a0a2a"/>
<circle cx="340.1" cy="273.87" r="0.95" fill="#8a0a2a"/>
<circle cx="338.65" cy="272.97" r="0.95" fill="#8a0a2a"/>
<circle cx="341.29" cy="272.66" r="0.95" fill="#8a0a2a"/>
<circle cx="340.1" cy="271.12" r="0.95" fill="#8a0a2a"/>
<circle cx="341.59" cy="270.31" r="0.95" fill="#8a0a2a"/>
<circle cx="338.87" cy="269.95" r="0.95" fill="#8a0a2a"/>
<line x1="335.1" y1="290.92" x2="345.1" y2="290.92" stroke="#333" stroke-width="1.2"/>
<line x1="355.2" y1="275.17" x2="355.2" y2="335.2" stroke="#333" stroke-width="0.8"/>
<rect x="350.2" y="296.23" width="10" height="17.81" fill="#c9c4c8" fill-opacity="0.85"/>
<line x1="349.45" y1="275.17" x2="360.95" y2="275.17" stroke="#4a4a4a" stroke-width="1.1"/>
<line x1="349.45" y1="335.2" x2="360.95" y2="335.2" stroke="#4a4a4a" stroke-width="1.1"/>
<circle cx="355.3" cy="275.29" r="0.95" fill="#8a0a2a"/>
<circle cx="355.13" cy="281.91" r="0.95" fill="#8a0a2a"/>
<circle cx="355.28" cy="289.94" r="0.95" fill="#8a0a2a"/>
<circle cx="355.1" cy="296.94" r="0.95" fill="#8a0a2a"/>
<circle cx="355.14" cy="299.67" r="0.95" fill="#8a0a2a"/>
<circle cx="355.29" cy="301.81" r="0.95" fill="#8a0a2a"/>
<circle cx="355.1" cy="303.65" r="0.95" fill="#8a0a2a"/>
<circle cx="355.23" cy="306.7" r="0.95" fill="#8a0a2a"/>
<circle cx="355.3" cy="308.53" r="0.95" fill="#8a0a2a"/>
<circle cx="355.33" cy="310.54" r="0.95" fill="#8a0a2a"/>
<circle cx="355.1" cy="312.62" r="0.95" fill="#8a0a2a"/>
<circle cx="355.23" cy="314.54" r="0.95" fill="#8a0a2a"/>
<circle cx="355.22" cy="316.56" r="0.95" fill="#8a0a2a"/>
<circle cx="355.23" cy="319.42" r="0.95" fill="#8a0a2a"/>
<circle cx="355.15" cy="323.28" r="0.95" fill="#8a0a2a"/>
<circle cx="355.08" cy="327.27" r="0.95" fill="#8a0a2a"/>
<circle cx="355.08" cy="331.35" r="0.95" fill="#8a0a2a"/>
<circle cx="355.06" cy="335.23" r="0.95" fill="#8a0a2a"/>
<line x1="350.2" y1="308.63" x2="360.2" y2="308.63" stroke="#333" stroke-width="1.2"/>
<line x1="379.8" y1="255.49" x2="379.8" y2="340.12" stroke="#333" stroke-width="0.8"/>
<rect x="374.8" y="300.76" width="10" height="28.54" fill="#c9c4c8" fill-opacity="0.85"/>
<line x1="374.05" y1="255.49" x2="385.55" y2="255.49" stroke="#4a4a4a" stroke-width="1.1"/>
<line x1="374.05" y1="340.12" x2="385.55" y2="340.12" stroke="#4a4a4a" stroke-width="1.1"/>
<circle cx="379.8" cy="341.09" r="0.95" fill="#c29e28"/>
<circle cx="378.3" cy="341.05" r="0.95" fill="#c29e28"/>
<circle cx="381.27" cy="340.79" r="0.95" fill="#c29e28"/>
<circle cx="376.84" cy="340.72" r="0.95" fill="#c29e28"/>
<circle cx="382.76" cy="340.67" r="0.95" fill="#c29e28"/>
<circle cx="375.35" cy="340.53" r="0.95" fill="#c29e28"/>
<circle cx="384.25" cy="340.44" r="0.95" fill="#c29e28"/>
<circle cx="373.86" cy="340.39" r="0.95" fill="#c29e28"/>
<circle cx="385.74" cy="340.34" r="0.95" fill="#c29e28"/>
<circle cx="372.36" cy="340.27" r="0.95" fill="#c29e28"/>
<circle cx="387.24" cy="340.25" r="0.95" fill="#c29e28"/>
<circle cx="370.86" cy="340.21" r="0.95" fill="#c29e28"/>
<circle cx="388.74" cy="340.21" r="0.95" fill="#c29e28"/>
<circle cx="369.36" cy="340.16" r="0.95" fill="#c29e28"/>
<circle cx="390.24" cy="340.09" r="0.95" fill="#c29e28"/>
<circle cx="367.87" cy="340.04" r="0.95" fill="#c29e28"/>
<circle cx="391.74" cy="340.04" r="0.95" fill="#c29e28"/>
<circle cx="366.37" cy="339.97" r="0.95" fill="#c29e28"/>
<circle cx="379.3" cy="339.67" r="0.95" fill="#c29e28"/>
<circle cx="380.74" cy="339.26" r="0.95" fill="#c29e28"/>
<circle cx="377.9" cy="339.15" r="0.95" fill="#c29e28"/>
<circle cx="382.23" cy="339.07" r="0.95" fill="#c29e28"/>
<circle cx="376.4" cy="339.05" r="0.95" fill="#c29e28"/>
<circle cx="383.71" cy="338.82" r="0.95" fill="#c29e28"/>
<circle cx="374.92" cy="338.79" r="0.95" fill="#c29e28"/>
<circle cx="385.21" cy="338.68" r="0.95" fill="#c29e28"/>
<circle cx="373.48" cy="338.37" r="0.95" fill="#c29e28"/>
<circle cx="386.66" cy="338.3" r="0.95" fill="#c29e28"/>
<circle cx="379.78" cy="338.11" r="0.95" fill="#c29e28"/>
<circle cx="372.06" cy="337.9" r="0.95" fill="#c29e28"/>
<circle cx="380.98" cy="337.19" r="0.95" fill="#c29e28"/>
<circle cx="379.27" cy="336.7" r="0.95" fill="#c29e28"/>
<circle cx="377.81" cy="336.35" r="0.95" fill="#c29e28"/>
<circle cx="380.44" cy="335.76" r="0.95" fill="#c29e28"/>
<circle cx="379.23" cy="334.88" r="0.95" fill="#c29e28"/>
<circle cx="381.4" cy="334.6" r="0.95" fill="#c29e28"/>
<circle cx="377.8" cy="334.41" r="0.95" fill="#c29e28"/>
<circle cx="379.96" cy="333.57" r="0.95" fill="#c29e28"/>
<circle cx="382.4" cy="333.49" r="0.95" fill="#c29e28"/>
<circle cx="378.62" cy="332.89" r="0.95" fill="#c29e28"/>
<circle cx="380.83" cy="332.35" r="0.95" fill="#c29e28"/>
<circle cx="377.3" cy="332.18" r="0.95" fill="#c29e28"/>
<circle cx="379.61" cy="331.48" r="0.95" fill="#c29e28"/>
<circle cx="380.94" cy="330.79" r="0.95" fill="#c29e28"/>
<circle cx="378.4" cy="330.6" r="0.95" fill="#c29e28"/>
<circle cx="382.28" cy="330.11" r="0.95" fill="#c29e28"/>
<circle cx="377.04" cy="329.96" r="0.95" fill="#c29e28"/>
<circle cx="379.8" cy="329.33" r="0.95" fill="#c29e28"/>
<circle cx="383.41" cy="329.12" r="0.95" fill="#c29e28"/>
<circle cx="381.2" cy="328.79" r="0.95" fill="#c29e28"/>
<circle cx="378.52" cy="328.54" r="0.95" fill="#c29e28"/>
<circle cx="379.8" cy="327.58" r="0.95" fill="#c29e28"/>
<circle cx="382.04" cy="327.54" r="0.95" fill="#c29e28"/>
<circle cx="377.42" cy="327.52" r="0.95" fill="#c29e28"/>
<circle cx="383.47" cy="327.08" r="0.95" fill="#c29e28"/>
<circle cx="378.7" cy="326.56" r="0.95" fill="#c29e28"/>
<circle cx="380.66" cy="326.35" r="0.95" fill="#c29e28"/>
<circle cx="382.06" cy="325.82" r="0.95" fill="#c29e28"/>
<circle cx="377.55" cy="325.61" r="0.95" fill="#c29e28"/>
<circle cx="383.5" cy="325.4" r="0.95" fill="#c29e28"/>
<circle cx="379.8" cy="325.12" r="0.95" fill="#c29e28"/>
<circle cx="376.44" cy="324.59" r="0.95" fill="#c29e28"/>
<circle cx="381" cy="324.22" r="0.95" fill="#c29e28"/>
<circle cx="378.85" cy="323.96" r="0.95" fill="#c29e28"/>
<circle cx="382.46" cy="323.87" r="0.95" fill="#c29e28"/>
<circle cx="377.52" cy="323.26" r="0.95" fill="#c29e28"/>
<circle cx="375.89" cy="323.2" r="0.95" fill="#c29e28"/>
<circle cx="383.73" cy="323.07" r="0.95" fill="#c29e28"/>
<circle cx="379.8" cy="322.65" r="0.95" fill="#c29e28"/>
<circle cx="381.23" cy="322.21" r="0.95" fill="#c29e28"/>
<circle cx="378.62" cy="321.72" r="0.95" fill="#c29e28"/>
<circle cx="377.13" cy="321.56" r="0.95" fill="#c29e28"/>
<circle cx="382.41" cy="321.28" r="0.95" fill="#c29e28"/>
<circle cx="379.89" cy="320.92" r="0.95" fill="#c29e28"/>
<circle cx="375.92" cy="320.68" r="0.95" fill="#c29e28"/>
<circle cx="381.25" cy="320.29" r="0.95" fill="#c29e28"/>
<circle cx="379.02" cy="319.69" r="0.95" fill="#c29e28"/>
<circle cx="377.52" cy="319.53" r="0.95" fill="#c29e28"/>
<circle cx="382.35" cy="319.27" r="0.95" fill="#c29e28"/>
<circle cx="376.09" cy="319.08" r="0.95" fill="#c29e28"/>
<circle cx="380.16" cy="318.72" r="0.95" fill="#c29e28"/>
<circle cx="383.67" cy="318.57" r="0.95" fill="#c29e28"/>
<circle cx="374.69" cy="318.57" r="0.95" fill="#c29e28"/>
<circle cx="378.89" cy="317.92" r="0.95" fill="#c29e28"/>
<circle cx="381.37" cy="317.84" r="0.95" fill="#c29e28"/>
<circle cx="377.52" cy="317.32" r="0.95" fill="#c29e28"/>
<circle cx="382.65" cy="317.05" r="0.95" fill="#c29e28"/>
<circle cx="379.85" cy="316.77" r="0.95" fill="#c29e28"/>
<circle cx="378.49" cy="316.15" r="0.95" fill="#c29e28"/>
<circle cx="380.95" cy="315.75" r="0.95" fill="#c29e28"/>
<circle cx="377.09" cy="315.59" r="0.95" fill="#c29e28"/>
<circle cx="379.61" cy="315.08" r="0.95" fill="#c29e28"/>
<circle cx="382.23" cy="314.95" r="0.95" fill="#c29e28"/>
<circle cx="383.71" cy="314.73" r="0.95" fill="#c29e28"/>
<circle cx="378.2" cy="314.56" r="0.95" fill="#c29e28"/>
<circle cx="380.43" cy="313.83" r="0.95" fill="#c29e28"/>
<circle cx="377.1" cy="313.54" r="0.95" fill="#c29e28"/>
<circle cx="381.87" cy="313.39" r="0.95" fill="#c29e28"/>
<circle cx="379.22" cy="312.94" r="0.95" fill="#c29e28"/>
<circle cx="383.28" cy="312.88" r="0.95" fill="#c29e28"/>
<circle cx="380.55" cy="312.24" r="0.95" fill="#c29e28"/>
<circle cx="377.92" cy="312.19" r="0.95" fill="#c29e28"/>
<circle cx="376.42" cy="312.18" r="0.95" fill="#c29e28"/>
<circle cx="384.44" cy="311.93" r="0.95" fill="#c29e28"/>
<circle cx="381.85" cy="311.5" r="0.95" fill="#c29e28"/>
<circle cx="379.58" cy="311.09" r="0.95" fill="#c29e28"/>
<circle cx="375.45" cy="311.03" r="0.95" fill="#c29e28"/>
<circle cx="377.24" cy="310.86" r="0.95" fill="#c29e28"/>
<circle cx="383.07" cy="310.62" r="0.95" fill="#c29e28"/>
<circle cx="380.68" cy="310.07" r="0.95" fill="#c29e28"/>
<circle cx="378.82" cy="309.81" r="0.95" fill="#c29e28"/>
<circle cx="381.87" cy="309.16" r="0.95" fill="#c29e28"/>
<circle cx="377.58" cy="308.96" r="0.95" fill="#c29e28"/>
<circle cx="379.8" cy="308.53" r="0.95" fill="#c29e28"/>
<circle cx="383.15" cy="308.38" r="0.95" fill="#c29e28"/>
<circle cx="376.25" cy="308.25" r="0.95" fill="#c29e28"/>
<circle cx="384.57" cy="307.89" r="0.95" fill="#c29e28"/>
<circle cx="378.58" cy="307.65" r="0.95" fill="#c29e28"/>
<circle cx="381.01" cy="307.65" r="0.95" fill="#c29e28"/>
<circle cx="374.94" cy="307.53" r="0.95" fill="#c29e28"/>
<circle cx="377.2" cy="307.08" r="0.95" fill="#c29e28"/>
<circle cx="382.31" cy="306.9" r="0.95" fill="#c29e28"/>
<circle cx="379.8" cy="305.94" r="0.95" fill="#c29e28"/>
<circle cx="378.31" cy="305.81" r="0.95" fill="#c29e28"/>
<circle cx="381.27" cy="305.63" r="0.95" fill="#c29e28"/>
<circle cx="376.85" cy="305.44" r="0.95" fill="#c29e28"/>
<circle cx="382.76" cy="305.44" r="0.95" fill="#c29e28"/>
<circle cx="375.36" cy="305.24" r="0.95" fill="#c29e28"/>
<circle cx="384.09" cy="304.74" r="0.95" fill="#c29e28"/>
<circle cx="379.8" cy="304.41" r="0.95" fill="#c29e28"/>
<circle cx="381.24" cy="303.98" r="0.95" fill="#c29e28"/>
<circle cx="378.42" cy="303.83" r="0.95" fill="#c29e28"/>
<circle cx="376.93" cy="303.65" r="0.95" fill="#c29e28"/>
<circle cx="382.68" cy="303.56" r="0.95" fill="#c29e28"/>
<circle cx="379.8" cy="302.87" r="0.95" fill="#c29e28"/>
<circle cx="375.75" cy="302.72" r="0.95" fill="#c29e28"/>
<circle cx="381.23" cy="302.41" r="0.95" fill="#c29e28"/>
<circle cx="378.42" cy="302.29" r="0.95" fill="#c29e28"/>
<circle cx="382.95" cy="302.08" r="0.95" fill="#c29e28"/>
<circle cx="377.04" cy="301.69" r="0.95" fill="#c29e28"/>
<circle cx="379.8" cy="301.29" r="0.95" fill="#c29e28"/>
<circle cx="375.42" cy="301.26" r="0.95" fill="#c29e28"/>
<circle cx="378.59" cy="300.4" r="0.95" fill="#c29e28"/>
<circle cx="379.94" cy="299.74" r="0.95" fill="#c29e28"/>
<circle cx="381.34" cy="299.21" r="0.95" fill="#c29e28"/>
<circle cx="379.27" cy="298.4" r="0.95" fill="#c29e28"/>
<circle cx="380.44" cy="297.47" r="0.95" fill="#c29e28"/>
<circle cx="378.39" cy="297.19" r="0.95" fill="#c29e28"/>
<circle cx="381.53" cy="296.43" r="0.95" fill="#c29e28"/>
<circle cx="379.8" cy="295.64" r="0.95" fill="#c29e28"/>
<circle cx="378.42" cy="295.04" r="0.95" fill="#c29e28"/>
<circle cx="380.98" cy="294.71" r="0.95" fill="#c29e28"/>
<circle cx="379.66" cy="294" r="0.95" fill="#c29e28"/>
<circle cx="379.8" cy="292.47" r="0.95" fill="#c29e28"/>
<circle cx="381.2" cy="291.94" r="0.95" fill="#c29e28"/>
<circle cx="378.83" cy="291.33" r="0.95" fill="#c29e28"/>
<circle cx="380.11" cy="290.55" r="0.95" fill="#c29e28"/>
<circle cx="378.85" cy="289.73" r="0.95" fill="#c29e28"/>
<circle cx="381.27" cy="289.6" r="0.95" fill="#c29e28"/>
<circle cx="379.8" cy="287.83" r="0.95" fill="#c29e28"/>
<circle cx="381.28" cy="287.58" r="0.95" fill="#c29e28"/>
<circle cx="378.5" cy="287.09" r="0.95" fill="#c29e28"/>
<circle cx="382.48" cy="286.69" r="0.95" fill="#c29e28"/>
<circle cx="379.8" cy="285.49" r="0.95" fill="#c29e28"/>
<circle cx="378.36" cy="285.07" r="0.95" fill="#c29e28"/>
<circle cx="380.94" cy="284.51" r="0.95" fill="#c29e28"/>
<circle cx="379.8" cy="283.18" r="0.95" fill="#c29e28"/>
<circle cx="381.27" cy="282.9" r="0.95" fill="#c29e28"/>
<circle cx="379.8" cy="281.48" r="0.95" fill="#c29e28"/>
<circle cx="378.67" cy="280.5" r="0.95" fill="#c29e28"/>
<circle cx="380.07" cy="279.97" r="0.95" fill="#c29e28"/>
<circle cx="381.37" cy="279.22" r="0.95" fill="#c29e28"/>
<circle cx="379.8" cy="278.28" r="0.95" fill="#c29e28"/>
<circle cx="380.86" cy="277.22" r="0.95" fill="#c29e28"/>
<circle cx="379.75" cy="276.21" r="0.95" fill="#c29e28"/>
<circle cx="380.69" cy="275.05" r="0.95" fill="#c29e28"/>
<circle cx="379.8" cy="272.5" r="0.95" fill="#c29e28"/>
<circle cx="378.61" cy="271.58" r="0.95" fill="#c29e28"/>
<circle cx="379.8" cy="269.75" r="0.95" fill="#c29e28"/>
<circle cx="381.29" cy="269.58" r="0.95" fill="#c29e28"/>
<circle cx="379.8" cy="267.83" r="0.95" fill="#c29e28"/>
<circle cx="381" cy="266.93" r="0.95" fill="#c29e28"/>
<circle cx="379.8" cy="265.85" r="0.95" fill="#c29e28"/>
<circle cx="379.8" cy="263.47" r="0.95" fill="#c29e28"/>
<circle cx="378.63" cy="262.54" r="0.95" fill="#c29e28"/>
<circle cx="379.8" cy="260.92" r="0.95" fill="#c29e28"/>
<circle cx="378.61" cy="260.01" r="0.95" fill="#c29e28"/>
<circle cx="379.8" cy="258.41" r="0.95" fill="#c29e28"/>
<circle cx="379.02" cy="257.13" r="0.95" fill="#c29e28"/>
<circle cx="379.8" cy="255.48" r="0.95" fill="#c29e28"/>
<line x1="374.8" y1="314.04" x2="384.8" y2="314.04" stroke="#333" stroke-width="1.2"/>
<line x1="397.4" y1="265.33" x2="397.4" y2="336.18" stroke="#333" stroke-width="0.8"/>
<rect x="392.4" y="298.1" width="10" height="26.27" fill="#c9c4c8" fill-opacity="0.85"/>
<line x1="391.65" y1="265.33" x2="403.15" y2="265.33" stroke="#4a4a4a" stroke-width="1.1"/>
<line x1="391.65" y1="336.18" x2="403.15" y2="336.18" stroke="#4a4a4a" stroke-width="1.1"/>
<circle cx="397.4" cy="335.41" r="0.95" fill="#c29e28"/>
<circle cx="399.01" cy="334.86" r="0.95" fill="#c29e28"/>
<circle cx="396.75" cy="333.84" r="0.95" fill="#c29e28"/>
<circle cx="398.15" cy="332.88" r="0.95" fill="#c29e28"/>
<circle cx="396.94" cy="331.69" r="0.95" fill="#c29e28"/>
<circle cx="398.46" cy="330.93" r="0.95" fill="#c29e28"/>
<circle cx="395.95" cy="330.3" r="0.95" fill="#c29e28"/>
<circle cx="397.44" cy="329.49" r="0.95" fill="#c29e28"/>
<circle cx="399.13" cy="329.33" r="0.95" fill="#c29e28"/>
<circle cx="396.79" cy="327.92" r="0.95" fill="#c29e28"/>
<circle cx="398.38" cy="327.31" r="0.95" fill="#c29e28"/>
<circle cx="396.16" cy="326.34" r="0.95" fill="#c29e28"/>
<circle cx="399.44" cy="325.99" r="0.95" fill="#c29e28"/>
<circle cx="397.4" cy="324.57" r="0.95" fill="#c29e28"/>
<circle cx="398.78" cy="323.58" r="0.95" fill="#c29e28"/>
<circle cx="396.27" cy="323.3" r="0.95" fill="#c29e28"/>
<circle cx="394.77" cy="322.51" r="0.95" fill="#c29e28"/>
<circle cx="397.4" cy="321.39" r="0.95" fill="#c29e28"/>
<circle cx="395.75" cy="320.97" r="0.95" fill="#c29e28"/>
<circle cx="399.02" cy="320.88" r="0.95" fill="#c29e28"/>
<circle cx="397.4" cy="319.36" r="0.95" fill="#c29e28"/>
<circle cx="395.32" cy="319.32" r="0.95" fill="#c29e28"/>
<circle cx="398.14" cy="317.83" r="0.95" fill="#c29e28"/>
<circle cx="396.44" cy="317.8" r="0.95" fill="#c29e28"/>
<circle cx="399.27" cy="316.56" r="0.95" fill="#c29e28"/>
<circle cx="397.4" cy="315.6" r="0.95" fill="#c29e28"/>
<circle cx="395.72" cy="315.33" r="0.95" fill="#c29e28"/>
<circle cx="398.79" cy="314.62" r="0.95" fill="#c29e28"/>
<circle cx="397.4" cy="313.38" r="0.95" fill="#c29e28"/>
<circle cx="395.9" cy="312.58" r="0.95" fill="#c29e28"/>
<circle cx="397.4" cy="310.53" r="0.95" fill="#c29e28"/>
<circle cx="399.06" cy="310.17" r="0.95" fill="#c29e28"/>
<circle cx="397.4" cy="308.38" r="0.95" fill="#c29e28"/>
<circle cx="397.74" cy="306.72" r="0.95" fill="#c29e28"/>
<circle cx="396.36" cy="305.73" r="0.95" fill="#c29e28"/>
<circle cx="397.4" cy="304.36" r="0.95" fill="#c29e28"/>
<circle cx="395.89" cy="303.58" r="0.95" fill="#c29e28"/>
<circle cx="398.78" cy="303.36" r="0.95" fill="#c29e28"/>
<circle cx="397.4" cy="301.6" r="0.95" fill="#c29e28"/>
<circle cx="396.86" cy="299.99" r="0.95" fill="#c29e28"/>
<circle cx="398.21" cy="298.95" r="0.95" fill="#c29e28"/>
<circle cx="396.65" cy="298.27" r="0.95" fill="#c29e28"/>
<circle cx="397.4" cy="296.19" r="0.95" fill="#c29e28"/>
<circle cx="398.57" cy="294.96" r="0.95" fill="#c29e28"/>
<circle cx="396.97" cy="294.37" r="0.95" fill="#c29e28"/>
<circle cx="397.4" cy="292.13" r="0.95" fill="#c29e28"/>
<circle cx="398.13" cy="290.6" r="0.95" fill="#c29e28"/>
<circle cx="396.45" cy="290.36" r="0.95" fill="#c29e28"/>
<circle cx="397.4" cy="287.95" r="0.95" fill="#c29e28"/>
<circle cx="397.4" cy="286.24" r="0.95" fill="#c29e28"/>
<circle cx="397.4" cy="283.77" r="0.95" fill="#c29e28"/>
<circle cx="397.4" cy="278.97" r="0.95" fill="#c29e28"/>
<circle cx="397.4" cy="273.55" r="0.95" fill="#c29e28"/>
<circle cx="395.94" cy="272.68" r="0.95" fill="#c29e28"/>
<circle cx="397.4" cy="267.34" r="0.95" fill="#c29e28"/>
<line x1="392.4" y1="314.53" x2="402.4" y2="314.53" stroke="#333" stroke-width="1.2"/>
<line x1="414.3" y1="265.33" x2="414.3" y2="340.12" stroke="#333" stroke-width="0.8"/>
<rect x="409.3" y="294.16" width="10" height="36.11" fill="#c9c4c8" fill-opacity="0.85"/>
<line x1="408.55" y1="265.33" x2="420.05" y2="265.33" stroke="#4a4a4a" stroke-width="1.1"/>
<line x1="408.55" y1="340.12" x2="420.05" y2="340.12" stroke="#4a4a4a" stroke-width="1.1"/>
<circle cx="414.26" cy="265.28" r="0.95" fill="#c29e28"/>
<circle cx="414.15" cy="272.15" r="0.95" fill="#c29e28"/>
<circle cx="414.42" cy="277.01" r="0.95" fill="#c29e28"/>
<circle cx="414.42" cy="280.01" r="0.95" fill="#c29e28"/>
<circle cx="414.21" cy="282.12" r="0.95" fill="#c29e28"/>
<circle cx="413.27" cy="286.85" r="0.95" fill="#c29e28"/>
<circle cx="415.05" cy="287.08" r="0.95" fill="#c29e28"/>
<circle cx="414.4" cy="290.04" r="0.95" fill="#c29e28"/>
<circle cx="414.22" cy="291.81" r="0.95" fill="#c29e28"/>
<circle cx="414.32" cy="294.97" r="0.95" fill="#c29e28"/>
<circle cx="414.16" cy="297.94" r="0.95" fill="#c29e28"/>
<circle cx="413.5" cy="301.79" r="0.95" fill="#c29e28"/>
<circle cx="415.2" cy="301.74" r="0.95" fill="#c29e28"/>
<circle cx="414.32" cy="305.7" r="0.95" fill="#c29e28"/>
<circle cx="414.26" cy="308.61" r="0.95" fill="#c29e28"/>
<circle cx="414.31" cy="311.52" r="0.95" fill="#c29e28"/>
<circle cx="413.35" cy="314.55" r="0.95" fill="#c29e28"/>
<circle cx="415.26" cy="314.52" r="0.95" fill="#c29e28"/>
<circle cx="414.17" cy="316.5" r="0.95" fill="#c29e28"/>
<circle cx="413.26" cy="318.58" r="0.95" fill="#c29e28"/>
<circle cx="415.15" cy="318.34" r="0.95" fill="#c29e28"/>
<circle cx="414.2" cy="321.36" r="0.95" fill="#c29e28"/>
<circle cx="414.4" cy="323.36" r="0.95" fill="#c29e28"/>
<circle cx="414.3" cy="325.27" r="0.95" fill="#c29e28"/>
<circle cx="414.38" cy="327.37" r="0.95" fill="#c29e28"/>
<circle cx="414.19" cy="329.38" r="0.95" fill="#c29e28"/>
<circle cx="414.39" cy="331.24" r="0.95" fill="#c29e28"/>
<circle cx="414.19" cy="333.17" r="0.95" fill="#c29e28"/>
<circle cx="413.25" cy="336.19" r="0.95" fill="#c29e28"/>
<circle cx="415.2" cy="336.17" r="0.95" fill="#c29e28"/>
<circle cx="414.31" cy="338.02" r="0.95" fill="#c29e28"/>
<circle cx="412.54" cy="340.14" r="0.95" fill="#c29e28"/>
<circle cx="414.37" cy="340.11" r="0.95" fill="#c29e28"/>
<circle cx="416.04" cy="340.04" r="0.95" fill="#c29e28"/>
<line x1="409.3" y1="316.5" x2="419.3" y2="316.5" stroke="#333" stroke-width="1.2"/>
<line x1="433.8" y1="319.45" x2="433.8" y2="340.61" stroke="#333" stroke-width="0.8"/>
<rect x="428.8" y="331.26" width="10" height="9.35" fill="#c9c4c8" fill-opacity="0.85"/>
<line x1="428.05" y1="319.45" x2="439.55" y2="319.45" stroke="#4a4a4a" stroke-width="1.1"/>
<line x1="428.05" y1="340.61" x2="439.55" y2="340.61" stroke="#4a4a4a" stroke-width="1.1"/>
<circle cx="433.66" cy="319.51" r="0.95" fill="#4d8c34"/>
<circle cx="433.76" cy="322.26" r="0.95" fill="#4d8c34"/>
<circle cx="433.83" cy="325.38" r="0.95" fill="#4d8c34"/>
<circle cx="433.92" cy="327.23" r="0.95" fill="#4d8c34"/>
<circle cx="433.95" cy="329.37" r="0.95" fill="#4d8c34"/>
<circle cx="433.76" cy="331.21" r="0.95" fill="#4d8c34"/>
<circle cx="433.78" cy="333.18" r="0.95" fill="#4d8c34"/>
<circle cx="433.04" cy="335.21" r="0.95" fill="#4d8c34"/>
<circle cx="434.73" cy="335.2" r="0.95" fill="#4d8c34"/>
<circle cx="432.83" cy="337.15" r="0.95" fill="#4d8c34"/>
<circle cx="434.68" cy="337.05" r="0.95" fill="#4d8c34"/>
<circle cx="431.19" cy="339.22" r="0.95" fill="#4d8c34"/>
<circle cx="432.89" cy="339.22" r="0.95" fill="#4d8c34"/>
<circle cx="434.7" cy="339.02" r="0.95" fill="#4d8c34"/>
<circle cx="436.43" cy="339.14" r="0.95" fill="#4d8c34"/>
<circle cx="429.31" cy="340.38" r="0.95" fill="#4d8c34"/>
<circle cx="431.03" cy="340.35" r="0.95" fill="#4d8c34"/>
<circle cx="433.01" cy="340.39" r="0.95" fill="#4d8c34"/>
<circle cx="434.56" cy="340.32" r="0.95" fill="#4d8c34"/>
<circle cx="436.57" cy="340.32" r="0.95" fill="#4d8c34"/>
<circle cx="438.24" cy="340.26" r="0.95" fill="#4d8c34"/>
<circle cx="433.85" cy="268.38" r="0.95" fill="#4d8c34"/>
<line x1="428.8" y1="338.15" x2="438.8" y2="338.15" stroke="#333" stroke-width="1.2"/>
<line x1="448.6" y1="310.6" x2="448.6" y2="337.16" stroke="#333" stroke-width="0.8"/>
<rect x="443.6" y="314.04" width="10" height="22.14" fill="#c9c4c8" fill-opacity="0.85"/>
<line x1="442.85" y1="310.6" x2="454.35" y2="310.6" stroke="#4a4a4a" stroke-width="1.1"/>
<line x1="442.85" y1="337.16" x2="454.35" y2="337.16" stroke="#4a4a4a" stroke-width="1.1"/>
<circle cx="448.55" cy="310.53" r="0.95" fill="#4d8c34"/>
<circle cx="448.53" cy="314.68" r="0.95" fill="#4d8c34"/>
<circle cx="447.66" cy="335.23" r="0.95" fill="#4d8c34"/>
<circle cx="449.43" cy="335.26" r="0.95" fill="#4d8c34"/>
<circle cx="448.59" cy="336.3" r="0.95" fill="#4d8c34"/>
<circle cx="448.52" cy="337.12" r="0.95" fill="#4d8c34"/>
<line x1="443.6" y1="335.2" x2="453.6" y2="335.2" stroke="#333" stroke-width="1.2"/>
<line x1="462.9" y1="329.29" x2="462.9" y2="339.13" stroke="#333" stroke-width="0.8"/>
<rect x="457.9" y="333.72" width="10" height="3.94" fill="#c9c4c8" fill-opacity="0.85"/>
<line x1="457.15" y1="329.29" x2="468.65" y2="329.29" stroke="#4a4a4a" stroke-width="1.1"/>
<line x1="457.15" y1="339.13" x2="468.65" y2="339.13" stroke="#4a4a4a" stroke-width="1.1"/>
<circle cx="462.79" cy="329.28" r="0.95" fill="#4d8c34"/>
<circle cx="462.86" cy="334.09" r="0.95" fill="#4d8c34"/>
<circle cx="463.04" cy="336.15" r="0.95" fill="#4d8c34"/>
<circle cx="462.97" cy="337.78" r="0.95" fill="#4d8c34"/>
<circle cx="463.05" cy="339.21" r="0.95" fill="#4d8c34"/>
<line x1="457.9" y1="336.67" x2="467.9" y2="336.67" stroke="#333" stroke-width="1.2"/>
<line x1="484" y1="316.5" x2="484" y2="339.13" stroke="#333" stroke-width="0.8"/>
<rect x="479" y="327.82" width="10" height="7.38" fill="#c9c4c8" fill-opacity="0.85"/>
<line x1="478.25" y1="316.5" x2="489.75" y2="316.5" stroke="#4a4a4a" stroke-width="1.1"/>
<line x1="478.25" y1="339.13" x2="489.75" y2="339.13" stroke="#4a4a4a" stroke-width="1.1"/>
<circle cx="483.97" cy="305.75" r="0.95" fill="#1d3a70"/>
<circle cx="483.93" cy="316.55" r="0.95" fill="#1d3a70"/>
<circle cx="484.14" cy="320.3" r="0.95" fill="#1d3a70"/>
<circle cx="484.03" cy="323.53" r="0.95" fill="#1d3a70"/>
<circle cx="484.13" cy="326.32" r="0.95" fill="#1d3a70"/>
<circle cx="483.02" cy="327.91" r="0.95" fill="#1d3a70"/>
<circle cx="485.04" cy="327.86" r="0.95" fill="#1d3a70"/>
<circle cx="482.13" cy="328.7" r="0.95" fill="#1d3a70"/>
<circle cx="483.96" cy="328.66" r="0.95" fill="#1d3a70"/>
<circle cx="485.85" cy="328.87" r="0.95" fill="#1d3a70"/>
<circle cx="484.12" cy="330.36" r="0.95" fill="#1d3a70"/>
<circle cx="483.17" cy="331.37" r="0.95" fill="#1d3a70"/>
<circle cx="485.02" cy="331.29" r="0.95" fill="#1d3a70"/>
<circle cx="484.07" cy="333.31" r="0.95" fill="#1d3a70"/>
<circle cx="483.98" cy="335.07" r="0.95" fill="#1d3a70"/>
<circle cx="483.94" cy="337.24" r="0.95" fill="#1d3a70"/>
<circle cx="484.08" cy="339.19" r="0.95" fill="#1d3a70"/>
<line x1="479" y1="331.75" x2="489" y2="331.75" stroke="#333" stroke-width="1.2"/>
<line x1="500.6" y1="331.26" x2="500.6" y2="339.13" stroke="#333" stroke-width="0.8"/>
<rect x="495.6" y="332.24" width="10" height="2.95" fill="#c9c4c8" fill-opacity="0.85"/>
<line x1="494.85" y1="331.26" x2="506.35" y2="331.26" stroke="#4a4a4a" stroke-width="1.1"/>
<line x1="494.85" y1="339.13" x2="506.35" y2="339.13" stroke="#4a4a4a" stroke-width="1.1"/>
<circle cx="500.46" cy="312.68" r="0.95" fill="#1d3a70"/>
<circle cx="500.73" cy="331.38" r="0.95" fill="#1d3a70"/>
<circle cx="500.66" cy="332.24" r="0.95" fill="#1d3a70"/>
<circle cx="499.83" cy="333.14" r="0.95" fill="#1d3a70"/>
<circle cx="501.6" cy="333.31" r="0.95" fill="#1d3a70"/>
<circle cx="500.47" cy="334.08" r="0.95" fill="#1d3a70"/>
<circle cx="500.49" cy="335.07" r="0.95" fill="#1d3a70"/>
<circle cx="500.56" cy="339" r="0.95" fill="#1d3a70"/>
<line x1="495.6" y1="333.23" x2="505.6" y2="333.23" stroke="#333" stroke-width="1.2"/>
<text x="328.5" y="346.8" font-size="4.6" fill="#2a2a2a" text-anchor="end" textLength="17.5" lengthAdjust="spacingAndGlyphs" transform="rotate(-45 328.5 346.8)">NOPHO</text>
<text x="343.5" y="346.8" font-size="4.6" fill="#2a2a2a" text-anchor="end" textLength="12.8" lengthAdjust="spacingAndGlyphs" transform="rotate(-45 343.5 346.8)">CCCS</text>
<text x="359.6" y="346.8" font-size="4.6" fill="#2a2a2a" text-anchor="end" textLength="15.6" lengthAdjust="spacingAndGlyphs" transform="rotate(-45 359.6 346.8)">TCCSG</text>
<text x="383.3" y="346.8" font-size="4.6" fill="#2a2a2a" text-anchor="end" textLength="17.5" lengthAdjust="spacingAndGlyphs" transform="rotate(-45 383.3 346.8)">NOPHO</text>
<text x="400.8" y="346.8" font-size="4.6" fill="#2a2a2a" text-anchor="end" textLength="12.8" lengthAdjust="spacingAndGlyphs" transform="rotate(-45 400.8 346.8)">CCCS</text>
<text x="417.6" y="346.8" font-size="4.6" fill="#2a2a2a" text-anchor="end" textLength="15.6" lengthAdjust="spacingAndGlyphs" transform="rotate(-45 417.6 346.8)">TCCSG</text>
<text x="438.3" y="346.8" font-size="4.6" fill="#2a2a2a" text-anchor="end" textLength="17.5" lengthAdjust="spacingAndGlyphs" transform="rotate(-45 438.3 346.8)">NOPHO</text>
<text x="452.1" y="346.8" font-size="4.6" fill="#2a2a2a" text-anchor="end" textLength="12.8" lengthAdjust="spacingAndGlyphs" transform="rotate(-45 452.1 346.8)">CCCS</text>
<text x="466.8" y="346.8" font-size="4.6" fill="#2a2a2a" text-anchor="end" textLength="15.6" lengthAdjust="spacingAndGlyphs" transform="rotate(-45 466.8 346.8)">TCCSG</text>
<text x="488" y="346.8" font-size="4.6" fill="#2a2a2a" text-anchor="end" textLength="17.5" lengthAdjust="spacingAndGlyphs" transform="rotate(-45 488 346.8)">NOPHO</text>
<text x="503.8" y="346.8" font-size="4.6" fill="#2a2a2a" text-anchor="end" textLength="15.6" lengthAdjust="spacingAndGlyphs" transform="rotate(-45 503.8 346.8)">TCCSG</text>
<line x1="311.2" y1="240.1" x2="311.2" y2="341.6" stroke="#222" stroke-width="1.2"/>
<line x1="308.2" y1="341.1" x2="311.2" y2="341.1" stroke="#222" stroke-width="1"/>
<text x="305" y="343.8" font-size="8.6" fill="#2a2a2a" text-anchor="end">0</text>
<line x1="308.2" y1="321.42" x2="311.2" y2="321.42" stroke="#222" stroke-width="1"/>
<text x="305" y="324.12" font-size="8.6" fill="#2a2a2a" text-anchor="end">20</text>
<line x1="308.2" y1="301.74" x2="311.2" y2="301.74" stroke="#222" stroke-width="1"/>
<text x="305" y="304.44" font-size="8.6" fill="#2a2a2a" text-anchor="end">40</text>
<line x1="308.2" y1="282.06" x2="311.2" y2="282.06" stroke="#222" stroke-width="1"/>
<text x="305" y="284.76" font-size="8.6" fill="#2a2a2a" text-anchor="end">60</text>
<line x1="308.2" y1="262.38" x2="311.2" y2="262.38" stroke="#222" stroke-width="1"/>
<text x="305" y="265.08" font-size="8.6" fill="#2a2a2a" text-anchor="end">80</text>
<line x1="308.2" y1="242.7" x2="311.2" y2="242.7" stroke="#222" stroke-width="1"/>
<text x="305" y="245.4" font-size="8.6" fill="#2a2a2a" text-anchor="end">100</text>
<line x1="311.2" y1="341.1" x2="512.4" y2="341.1" stroke="#222" stroke-width="1.3"/>
<text x="285.5" y="290.5" font-size="10" fill="#2a2a2a" text-anchor="middle" textLength="50" lengthAdjust="spacingAndGlyphs" transform="rotate(-90 285.5 290.5)">% methylation</text>
<text x="340.35" y="373.3" font-size="4.8" fill="#2a2a2a" text-anchor="middle" font-style="italic" textLength="26.68" lengthAdjust="spacingAndGlyphs">ETV6-RUNX1</text>
<text x="397.5" y="373.3" font-size="4.8" fill="#2a2a2a" text-anchor="middle" textLength="38.38" lengthAdjust="spacingAndGlyphs">High hyperdiploidy</text>
<text x="449.1" y="373.3" font-size="4.8" fill="#2a2a2a" text-anchor="middle" font-style="italic" textLength="23.58" lengthAdjust="spacingAndGlyphs">TCF3-PBX1</text>
<text x="492.5" y="373.3" font-size="4.8" fill="#2a2a2a" text-anchor="middle" font-style="italic" textLength="21.38" lengthAdjust="spacingAndGlyphs">BCR-ABL1</text>
<text x="7.8" y="428.8" font-size="11.6" fill="#000" font-weight="bold">E</text>
<circle cx="70" cy="566.37" r="1.05" fill="#1d3a78"/>
<circle cx="72.24" cy="565.86" r="1.05" fill="#1d3a78"/>
<circle cx="70" cy="561.3" r="1.05" fill="#1d3a78"/>
<circle cx="72.24" cy="560.8" r="1.05" fill="#1d3a78"/>
<circle cx="67.94" cy="560.29" r="1.05" fill="#1d3a78"/>
<circle cx="70" cy="558.06" r="1.05" fill="#1d3a78"/>
<circle cx="70" cy="555.22" r="1.05" fill="#1d3a78"/>
<circle cx="72.24" cy="554.72" r="1.05" fill="#1d3a78"/>
<circle cx="70" cy="551.68" r="1.05" fill="#1d3a78"/>
<circle cx="70" cy="546.61" r="1.05" fill="#1d3a78"/>
<circle cx="70" cy="537.5" r="1.05" fill="#1d3a78"/>
<circle cx="70" cy="532.94" r="1.05" fill="#1d3a78"/>
<circle cx="67.94" cy="531.93" r="1.05" fill="#1d3a78"/>
<circle cx="71.73" cy="531.42" r="1.05" fill="#1d3a78"/>
<circle cx="70" cy="527.87" r="1.05" fill="#1d3a78"/>
<circle cx="67.76" cy="527.37" r="1.05" fill="#1d3a78"/>
<circle cx="70" cy="524.63" r="1.05" fill="#1d3a78"/>
<circle cx="70" cy="504.07" r="1.05" fill="#1d3a78"/>
<circle cx="70" cy="499" r="1.05" fill="#1d3a78"/>
<circle cx="70" cy="495.96" r="1.05" fill="#1d3a78"/>
<circle cx="67.72" cy="495.66" r="1.05" fill="#1d3a78"/>
<circle cx="65.4" cy="567.2" r="1.05" fill="#1d3a78"/>
<circle cx="67.4" cy="567.2" r="1.05" fill="#1d3a78"/>
<circle cx="69.4" cy="567.2" r="1.05" fill="#1d3a78"/>
<circle cx="71.4" cy="567.2" r="1.05" fill="#1d3a78"/>
<circle cx="73.4" cy="567.2" r="1.05" fill="#1d3a78"/>
<circle cx="66.4" cy="566" r="1.05" fill="#1d3a78"/>
<circle cx="70.4" cy="566" r="1.05" fill="#1d3a78"/>
<circle cx="72.4" cy="566" r="1.05" fill="#1d3a78"/>
<line x1="79.75" y1="495.9" x2="79.75" y2="568.4" stroke="#8a8a8a" stroke-width="1.2"/>
<line x1="78.45" y1="495.9" x2="81.05" y2="495.9" stroke="#333" stroke-width="1.0"/>
<line x1="78.45" y1="568.4" x2="81.05" y2="568.4" stroke="#333" stroke-width="1.0"/>
<rect x="77.6" y="530.9" width="4.3" height="31.8" fill="#8fc2ee"/>
<line x1="77.6" y1="553.5" x2="81.9" y2="553.5" stroke="#111" stroke-width="1.2"/>
<circle cx="94.6" cy="568.22" r="1.05" fill="#c9a52c"/>
<circle cx="97.1" cy="568.17" r="1.05" fill="#c9a52c"/>
<circle cx="92.2" cy="567.53" r="1.05" fill="#c9a52c"/>
<circle cx="99.4" cy="567.2" r="1.05" fill="#c9a52c"/>
<circle cx="89.79" cy="566.86" r="1.05" fill="#c9a52c"/>
<circle cx="94.6" cy="565.66" r="1.05" fill="#c9a52c"/>
<circle cx="97.1" cy="565.53" r="1.05" fill="#c9a52c"/>
<circle cx="92.32" cy="564.63" r="1.05" fill="#c9a52c"/>
<circle cx="100.08" cy="564.79" r="1.05" fill="#c9a52c"/>
<circle cx="88.77" cy="564.58" r="1.05" fill="#c9a52c"/>
<circle cx="95.43" cy="563.3" r="1.05" fill="#c9a52c"/>
<circle cx="97.89" cy="562.89" r="1.05" fill="#c9a52c"/>
<circle cx="90.96" cy="562.53" r="1.05" fill="#c9a52c"/>
<circle cx="100.28" cy="562.14" r="1.05" fill="#c9a52c"/>
<circle cx="93.4" cy="561.83" r="1.05" fill="#c9a52c"/>
<circle cx="88.6" cy="561.72" r="1.05" fill="#c9a52c"/>
<circle cx="95.49" cy="560.45" r="1.05" fill="#c9a52c"/>
<circle cx="97.98" cy="560.26" r="1.05" fill="#c9a52c"/>
<circle cx="91.64" cy="560.06" r="1.05" fill="#c9a52c"/>
<circle cx="100.33" cy="559.41" r="1.05" fill="#c9a52c"/>
<circle cx="93.73" cy="558.67" r="1.05" fill="#c9a52c"/>
<circle cx="89.66" cy="558.53" r="1.05" fill="#c9a52c"/>
<circle cx="96.11" cy="557.92" r="1.05" fill="#c9a52c"/>
<circle cx="98.52" cy="557.26" r="1.05" fill="#c9a52c"/>
<circle cx="92.12" cy="556.76" r="1.05" fill="#c9a52c"/>
<circle cx="88.91" cy="556.15" r="1.05" fill="#c9a52c"/>
<circle cx="94.6" cy="555.61" r="1.05" fill="#c9a52c"/>
<circle cx="97.03" cy="555.03" r="1.05" fill="#c9a52c"/>
<circle cx="92.51" cy="554.25" r="1.05" fill="#c9a52c"/>
<circle cx="99.04" cy="553.54" r="1.05" fill="#c9a52c"/>
<circle cx="94.6" cy="552.3" r="1.05" fill="#c9a52c"/>
<circle cx="97.03" cy="551.73" r="1.05" fill="#c9a52c"/>
<circle cx="92.26" cy="551.43" r="1.05" fill="#c9a52c"/>
<circle cx="98.89" cy="550.06" r="1.05" fill="#c9a52c"/>
<circle cx="94.6" cy="548.91" r="1.05" fill="#c9a52c"/>
<circle cx="92.12" cy="548.57" r="1.05" fill="#c9a52c"/>
<circle cx="89.62" cy="548.57" r="1.05" fill="#c9a52c"/>
<circle cx="96.92" cy="547.98" r="1.05" fill="#c9a52c"/>
<circle cx="93.66" cy="546.59" r="1.05" fill="#c9a52c"/>
<circle cx="98.98" cy="546.56" r="1.05" fill="#c9a52c"/>
<circle cx="95.61" cy="545.03" r="1.05" fill="#c9a52c"/>
<circle cx="91.73" cy="545" r="1.05" fill="#c9a52c"/>
<circle cx="97.56" cy="543.46" r="1.05" fill="#c9a52c"/>
<circle cx="93.81" cy="543.3" r="1.05" fill="#c9a52c"/>
<circle cx="91.64" cy="542.06" r="1.05" fill="#c9a52c"/>
<circle cx="99.41" cy="541.78" r="1.05" fill="#c9a52c"/>
<circle cx="95.33" cy="541.31" r="1.05" fill="#c9a52c"/>
<circle cx="93.19" cy="540.01" r="1.05" fill="#c9a52c"/>
<circle cx="97.21" cy="539.67" r="1.05" fill="#c9a52c"/>
<circle cx="94.97" cy="538.26" r="1.05" fill="#c9a52c"/>
<circle cx="92.16" cy="537.74" r="1.05" fill="#c9a52c"/>
<circle cx="97.86" cy="537.26" r="1.05" fill="#c9a52c"/>
<circle cx="89.97" cy="536.52" r="1.05" fill="#c9a52c"/>
<circle cx="94.47" cy="535.81" r="1.05" fill="#c9a52c"/>
<circle cx="96.68" cy="534.65" r="1.05" fill="#c9a52c"/>
<circle cx="92.47" cy="534.31" r="1.05" fill="#c9a52c"/>
<circle cx="98.68" cy="533.15" r="1.05" fill="#c9a52c"/>
<circle cx="94.6" cy="532.06" r="1.05" fill="#c9a52c"/>
<circle cx="92.26" cy="531.19" r="1.05" fill="#c9a52c"/>
<circle cx="96.93" cy="531.15" r="1.05" fill="#c9a52c"/>
<circle cx="99.31" cy="530.4" r="1.05" fill="#c9a52c"/>
<circle cx="90.2" cy="529.77" r="1.05" fill="#c9a52c"/>
<circle cx="94.6" cy="528.93" r="1.05" fill="#c9a52c"/>
<circle cx="97.02" cy="528.29" r="1.05" fill="#c9a52c"/>
<circle cx="92.9" cy="527.11" r="1.05" fill="#c9a52c"/>
<circle cx="95.28" cy="526.35" r="1.05" fill="#c9a52c"/>
<circle cx="98.4" cy="526.21" r="1.05" fill="#c9a52c"/>
<circle cx="91.12" cy="525.34" r="1.05" fill="#c9a52c"/>
<circle cx="93.68" cy="524.43" r="1.05" fill="#c9a52c"/>
<circle cx="96.14" cy="523.98" r="1.05" fill="#c9a52c"/>
<circle cx="98.6" cy="523.51" r="1.05" fill="#c9a52c"/>
<circle cx="89.49" cy="523.45" r="1.05" fill="#c9a52c"/>
<circle cx="94.6" cy="521.09" r="1.05" fill="#c9a52c"/>
<circle cx="92.12" cy="520.79" r="1.05" fill="#c9a52c"/>
<circle cx="97.02" cy="520.48" r="1.05" fill="#c9a52c"/>
<circle cx="89.7" cy="520.16" r="1.05" fill="#c9a52c"/>
<circle cx="99.48" cy="519.99" r="1.05" fill="#c9a52c"/>
<circle cx="94.6" cy="518.04" r="1.05" fill="#c9a52c"/>
<circle cx="92.12" cy="517.71" r="1.05" fill="#c9a52c"/>
<circle cx="96.8" cy="516.85" r="1.05" fill="#c9a52c"/>
<circle cx="99.28" cy="516.57" r="1.05" fill="#c9a52c"/>
<circle cx="94.6" cy="506.03" r="1.05" fill="#c9a52c"/>
<circle cx="94.6" cy="501.21" r="1.05" fill="#c9a52c"/>
<circle cx="95.42" cy="498.85" r="1.05" fill="#c9a52c"/>
<circle cx="94.6" cy="495.66" r="1.05" fill="#c9a52c"/>
<circle cx="94.6" cy="490.84" r="1.05" fill="#c9a52c"/>
<line x1="106.15" y1="490" x2="106.15" y2="568.4" stroke="#8a8a8a" stroke-width="1.2"/>
<line x1="104.85" y1="490" x2="107.45" y2="490" stroke="#333" stroke-width="1.0"/>
<line x1="104.85" y1="568.4" x2="107.45" y2="568.4" stroke="#333" stroke-width="1.0"/>
<rect x="104.2" y="527" width="3.9" height="30.9" fill="#f2cd55"/>
<line x1="104.2" y1="543.3" x2="108.1" y2="543.3" stroke="#111" stroke-width="1.2"/>
<circle cx="121.8" cy="567.49" r="1.05" fill="#9c1530"/>
<circle cx="119.3" cy="567.48" r="1.05" fill="#9c1530"/>
<circle cx="124.28" cy="567.19" r="1.05" fill="#9c1530"/>
<circle cx="116.87" cy="566.9" r="1.05" fill="#9c1530"/>
<circle cx="126.72" cy="566.66" r="1.05" fill="#9c1530"/>
<circle cx="121.8" cy="564.85" r="1.05" fill="#9c1530"/>
<circle cx="119.3" cy="564.71" r="1.05" fill="#9c1530"/>
<circle cx="124.29" cy="564.6" r="1.05" fill="#9c1530"/>
<circle cx="115.86" cy="564.61" r="1.05" fill="#9c1530"/>
<circle cx="128.19" cy="564.63" r="1.05" fill="#9c1530"/>
<circle cx="117.68" cy="562.81" r="1.05" fill="#9c1530"/>
<circle cx="121.8" cy="561.77" r="1.05" fill="#9c1530"/>
<circle cx="124.3" cy="561.72" r="1.05" fill="#9c1530"/>
<circle cx="119.67" cy="560.46" r="1.05" fill="#9c1530"/>
<circle cx="126.37" cy="560.32" r="1.05" fill="#9c1530"/>
<circle cx="121.96" cy="559.28" r="1.05" fill="#9c1530"/>
<circle cx="124.26" cy="558.31" r="1.05" fill="#9c1530"/>
<circle cx="121.8" cy="556.41" r="1.05" fill="#9c1530"/>
<circle cx="119.33" cy="556" r="1.05" fill="#9c1530"/>
<circle cx="123.93" cy="555.11" r="1.05" fill="#9c1530"/>
<circle cx="126.42" cy="554.89" r="1.05" fill="#9c1530"/>
<circle cx="121.8" cy="553.34" r="1.05" fill="#9c1530"/>
<circle cx="124.05" cy="552.25" r="1.05" fill="#9c1530"/>
<circle cx="120.6" cy="551.15" r="1.05" fill="#9c1530"/>
<circle cx="118.16" cy="550.59" r="1.05" fill="#9c1530"/>
<circle cx="122.15" cy="549.19" r="1.05" fill="#9c1530"/>
<circle cx="124.65" cy="549.13" r="1.05" fill="#9c1530"/>
<circle cx="119.88" cy="548.14" r="1.05" fill="#9c1530"/>
<circle cx="117.5" cy="547.4" r="1.05" fill="#9c1530"/>
<circle cx="121.8" cy="546.49" r="1.05" fill="#9c1530"/>
<circle cx="124.29" cy="546.29" r="1.05" fill="#9c1530"/>
<circle cx="119.49" cy="545.54" r="1.05" fill="#9c1530"/>
<circle cx="125.84" cy="544.33" r="1.05" fill="#9c1530"/>
<circle cx="121.8" cy="543.92" r="1.05" fill="#9c1530"/>
<circle cx="118.41" cy="543.29" r="1.05" fill="#9c1530"/>
<circle cx="121.8" cy="541.33" r="1.05" fill="#9c1530"/>
<circle cx="119.36" cy="540.81" r="1.05" fill="#9c1530"/>
<circle cx="124.04" cy="540.23" r="1.05" fill="#9c1530"/>
<circle cx="117.12" cy="539.68" r="1.05" fill="#9c1530"/>
<circle cx="126.34" cy="539.24" r="1.05" fill="#9c1530"/>
<circle cx="121.18" cy="538.91" r="1.05" fill="#9c1530"/>
<circle cx="123.35" cy="537.67" r="1.05" fill="#9c1530"/>
<circle cx="120.09" cy="536.66" r="1.05" fill="#9c1530"/>
<circle cx="125.47" cy="536.34" r="1.05" fill="#9c1530"/>
<circle cx="117.74" cy="535.82" r="1.05" fill="#9c1530"/>
<circle cx="121.8" cy="534.04" r="1.05" fill="#9c1530"/>
<circle cx="124.03" cy="532.9" r="1.05" fill="#9c1530"/>
<circle cx="119.75" cy="532.61" r="1.05" fill="#9c1530"/>
<circle cx="121.87" cy="531.28" r="1.05" fill="#9c1530"/>
<circle cx="125.8" cy="531.15" r="1.05" fill="#9c1530"/>
<circle cx="121.8" cy="528.72" r="1.05" fill="#9c1530"/>
<circle cx="124.27" cy="528.37" r="1.05" fill="#9c1530"/>
<circle cx="119.35" cy="528.22" r="1.05" fill="#9c1530"/>
<circle cx="126.22" cy="526.8" r="1.05" fill="#9c1530"/>
<circle cx="121.8" cy="525.16" r="1.05" fill="#9c1530"/>
<circle cx="119.3" cy="525.13" r="1.05" fill="#9c1530"/>
<circle cx="124.29" cy="525" r="1.05" fill="#9c1530"/>
<circle cx="120.61" cy="522.96" r="1.05" fill="#9c1530"/>
<circle cx="123.01" cy="522.26" r="1.05" fill="#9c1530"/>
<circle cx="118.88" cy="521.16" r="1.05" fill="#9c1530"/>
<circle cx="125.02" cy="520.77" r="1.05" fill="#9c1530"/>
<circle cx="121.8" cy="519.44" r="1.05" fill="#9c1530"/>
<circle cx="119.54" cy="518.38" r="1.05" fill="#9c1530"/>
<circle cx="123.46" cy="517.57" r="1.05" fill="#9c1530"/>
<circle cx="125.96" cy="517.52" r="1.05" fill="#9c1530"/>
<circle cx="121.8" cy="515.44" r="1.05" fill="#9c1530"/>
<circle cx="119.31" cy="515.25" r="1.05" fill="#9c1530"/>
<circle cx="124.11" cy="514.49" r="1.05" fill="#9c1530"/>
<circle cx="121.8" cy="512.57" r="1.05" fill="#9c1530"/>
<circle cx="123.78" cy="511.04" r="1.05" fill="#9c1530"/>
<circle cx="120.69" cy="510.33" r="1.05" fill="#9c1530"/>
<circle cx="118.48" cy="509.17" r="1.05" fill="#9c1530"/>
<circle cx="121.8" cy="506.94" r="1.05" fill="#9c1530"/>
<circle cx="119.31" cy="506.75" r="1.05" fill="#9c1530"/>
<circle cx="123.94" cy="505.65" r="1.05" fill="#9c1530"/>
<circle cx="121.8" cy="504.13" r="1.05" fill="#9c1530"/>
<circle cx="119.81" cy="502.61" r="1.05" fill="#9c1530"/>
<circle cx="123.2" cy="502.06" r="1.05" fill="#9c1530"/>
<circle cx="121.49" cy="500.23" r="1.05" fill="#9c1530"/>
<circle cx="123.15" cy="498.36" r="1.05" fill="#9c1530"/>
<circle cx="121.8" cy="495.73" r="1.05" fill="#9c1530"/>
<circle cx="120.96" cy="493.37" r="1.05" fill="#9c1530"/>
<circle cx="123.45" cy="493.21" r="1.05" fill="#9c1530"/>
<circle cx="119.12" cy="491.68" r="1.05" fill="#9c1530"/>
<circle cx="121.8" cy="488.19" r="1.05" fill="#9c1530"/>
<circle cx="119.44" cy="487.37" r="1.05" fill="#9c1530"/>
<circle cx="121.8" cy="482.61" r="1.05" fill="#9c1530"/>
<circle cx="119.36" cy="482.08" r="1.05" fill="#9c1530"/>
<line x1="132.25" y1="480.1" x2="132.25" y2="568.4" stroke="#8a8a8a" stroke-width="1.2"/>
<line x1="130.95" y1="480.1" x2="133.55" y2="480.1" stroke="#333" stroke-width="1.0"/>
<line x1="130.95" y1="568.4" x2="133.55" y2="568.4" stroke="#333" stroke-width="1.0"/>
<rect x="130.1" y="515.3" width="4.3" height="37.4" fill="#c94d4d"/>
<line x1="130.1" y1="535.8" x2="134.4" y2="535.8" stroke="#111" stroke-width="1.2"/>
<circle cx="168.9" cy="518.2" r="1.05" fill="#1d3a78"/>
<circle cx="171.5" cy="516.9" r="1.05" fill="#1d3a78"/>
<circle cx="169.7" cy="538.2" r="1.05" fill="#1d3a78"/>
<circle cx="169.7" cy="543.1" r="1.05" fill="#1d3a78"/>
<circle cx="168.9" cy="553.4" r="1.05" fill="#1d3a78"/>
<circle cx="171.5" cy="553.4" r="1.05" fill="#1d3a78"/>
<circle cx="169.7" cy="564.2" r="1.05" fill="#1d3a78"/>
<line x1="179.6" y1="517.2" x2="179.6" y2="564.3" stroke="#8a8a8a" stroke-width="1.2"/>
<line x1="178.3" y1="517.2" x2="180.9" y2="517.2" stroke="#333" stroke-width="1.0"/>
<line x1="178.3" y1="564.3" x2="180.9" y2="564.3" stroke="#333" stroke-width="1.0"/>
<rect x="177.7" y="528.9" width="3.8" height="24.2" fill="#8fc2ee"/>
<line x1="177.7" y1="543.1" x2="181.5" y2="543.1" stroke="#111" stroke-width="1.2"/>
<circle cx="196.5" cy="507.4" r="1.05" fill="#c9a52c"/>
<circle cx="198.5" cy="505.4" r="1.05" fill="#c9a52c"/>
<circle cx="196" cy="528.5" r="1.05" fill="#c9a52c"/>
<circle cx="194" cy="534.2" r="1.05" fill="#c9a52c"/>
<circle cx="197.5" cy="535.1" r="1.05" fill="#c9a52c"/>
<circle cx="195" cy="536.5" r="1.05" fill="#c9a52c"/>
<circle cx="193" cy="541.5" r="1.05" fill="#c9a52c"/>
<circle cx="196.5" cy="542.3" r="1.05" fill="#c9a52c"/>
<circle cx="198.5" cy="543.4" r="1.05" fill="#c9a52c"/>
<circle cx="195.5" cy="547.7" r="1.05" fill="#c9a52c"/>
<circle cx="196" cy="551" r="1.05" fill="#c9a52c"/>
<circle cx="196" cy="553.8" r="1.05" fill="#c9a52c"/>
<circle cx="197" cy="558.8" r="1.05" fill="#c9a52c"/>
<circle cx="193.5" cy="561.2" r="1.05" fill="#c9a52c"/>
<circle cx="196.5" cy="562.3" r="1.05" fill="#c9a52c"/>
<circle cx="198.5" cy="559.7" r="1.05" fill="#c9a52c"/>
<circle cx="195" cy="563.8" r="1.05" fill="#c9a52c"/>
<circle cx="197.5" cy="564.5" r="1.05" fill="#c9a52c"/>
<line x1="206.15" y1="505.8" x2="206.15" y2="564.3" stroke="#8a8a8a" stroke-width="1.2"/>
<line x1="204.85" y1="505.8" x2="207.45" y2="505.8" stroke="#333" stroke-width="1.0"/>
<line x1="204.85" y1="564.3" x2="207.45" y2="564.3" stroke="#333" stroke-width="1.0"/>
<rect x="204.2" y="535.1" width="3.9" height="23.7" fill="#f2cd55"/>
<line x1="204.2" y1="544.3" x2="208.1" y2="544.3" stroke="#111" stroke-width="1.2"/>
<circle cx="223.1" cy="490.9" r="1.05" fill="#9c1530"/>
<circle cx="221.1" cy="493.5" r="1.05" fill="#9c1530"/>
<circle cx="222.1" cy="500.1" r="1.05" fill="#9c1530"/>
<circle cx="222.1" cy="509.6" r="1.05" fill="#9c1530"/>
<circle cx="217.6" cy="516.4" r="1.05" fill="#9c1530"/>
<circle cx="220.2" cy="516.7" r="1.05" fill="#9c1530"/>
<circle cx="222.7" cy="515.9" r="1.05" fill="#9c1530"/>
<circle cx="226" cy="516" r="1.05" fill="#9c1530"/>
<circle cx="222.1" cy="519.5" r="1.05" fill="#9c1530"/>
<circle cx="224.4" cy="518.8" r="1.05" fill="#9c1530"/>
<circle cx="220.5" cy="522.3" r="1.05" fill="#9c1530"/>
<circle cx="224.1" cy="523.9" r="1.05" fill="#9c1530"/>
<circle cx="222.1" cy="525.2" r="1.05" fill="#9c1530"/>
<circle cx="218.1" cy="527.6" r="1.05" fill="#9c1530"/>
<circle cx="220.7" cy="528.2" r="1.05" fill="#9c1530"/>
<circle cx="224.1" cy="529.8" r="1.05" fill="#9c1530"/>
<circle cx="222.1" cy="531.5" r="1.05" fill="#9c1530"/>
<circle cx="219.8" cy="536.1" r="1.05" fill="#9c1530"/>
<circle cx="222.1" cy="537.8" r="1.05" fill="#9c1530"/>
<circle cx="224.4" cy="537" r="1.05" fill="#9c1530"/>
<circle cx="222.1" cy="541.3" r="1.05" fill="#9c1530"/>
<circle cx="220.7" cy="544.9" r="1.05" fill="#9c1530"/>
<circle cx="222.8" cy="546.6" r="1.05" fill="#9c1530"/>
<circle cx="218.9" cy="548.9" r="1.05" fill="#9c1530"/>
<circle cx="221.1" cy="548.5" r="1.05" fill="#9c1530"/>
<circle cx="223.8" cy="549.8" r="1.05" fill="#9c1530"/>
<circle cx="222.1" cy="552.9" r="1.05" fill="#9c1530"/>
<circle cx="221.1" cy="556.4" r="1.05" fill="#9c1530"/>
<circle cx="223.8" cy="556" r="1.05" fill="#9c1530"/>
<line x1="233.1" y1="491.3" x2="233.1" y2="556.4" stroke="#8a8a8a" stroke-width="1.2"/>
<line x1="231.8" y1="491.3" x2="234.4" y2="491.3" stroke="#333" stroke-width="1.0"/>
<line x1="231.8" y1="556.4" x2="234.4" y2="556.4" stroke="#333" stroke-width="1.0"/>
<rect x="231" y="517.1" width="4.2" height="28.4" fill="#c94d4d"/>
<line x1="231" y1="528.2" x2="235.2" y2="528.2" stroke="#111" stroke-width="1.2"/>
<line x1="58.1" y1="465" x2="58.1" y2="569.4" stroke="#222" stroke-width="1.2"/>
<line x1="55.1" y1="568.9" x2="58.1" y2="568.9" stroke="#222" stroke-width="1"/>
<text x="54" y="571.6" font-size="8.6" fill="#2a2a2a" text-anchor="end">0</text>
<line x1="55.1" y1="548.64" x2="58.1" y2="548.64" stroke="#222" stroke-width="1"/>
<text x="54" y="551.34" font-size="8.6" fill="#2a2a2a" text-anchor="end">20</text>
<line x1="55.1" y1="528.38" x2="58.1" y2="528.38" stroke="#222" stroke-width="1"/>
<text x="54" y="531.08" font-size="8.6" fill="#2a2a2a" text-anchor="end">40</text>
<line x1="55.1" y1="508.12" x2="58.1" y2="508.12" stroke="#222" stroke-width="1"/>
<text x="54" y="510.82" font-size="8.6" fill="#2a2a2a" text-anchor="end">60</text>
<line x1="55.1" y1="487.86" x2="58.1" y2="487.86" stroke="#222" stroke-width="1"/>
<text x="54" y="490.56" font-size="8.6" fill="#2a2a2a" text-anchor="end">80</text>
<line x1="55.1" y1="467.6" x2="58.1" y2="467.6" stroke="#222" stroke-width="1"/>
<text x="54" y="470.3" font-size="8.6" fill="#2a2a2a" text-anchor="end">100</text>
<line x1="161.9" y1="465" x2="161.9" y2="569.4" stroke="#222" stroke-width="1.2"/>
<line x1="158.9" y1="568.9" x2="161.9" y2="568.9" stroke="#222" stroke-width="1"/>
<text x="157.7" y="571.6" font-size="8.6" fill="#2a2a2a" text-anchor="end">0</text>
<line x1="158.9" y1="548.64" x2="161.9" y2="548.64" stroke="#222" stroke-width="1"/>
<text x="157.7" y="551.34" font-size="8.6" fill="#2a2a2a" text-anchor="end">20</text>
<line x1="158.9" y1="528.38" x2="161.9" y2="528.38" stroke="#222" stroke-width="1"/>
<text x="157.7" y="531.08" font-size="8.6" fill="#2a2a2a" text-anchor="end">40</text>
<line x1="158.9" y1="508.12" x2="161.9" y2="508.12" stroke="#222" stroke-width="1"/>
<text x="157.7" y="510.82" font-size="8.6" fill="#2a2a2a" text-anchor="end">60</text>
<line x1="158.9" y1="487.86" x2="161.9" y2="487.86" stroke="#222" stroke-width="1"/>
<text x="157.7" y="490.56" font-size="8.6" fill="#2a2a2a" text-anchor="end">80</text>
<line x1="158.9" y1="467.6" x2="161.9" y2="467.6" stroke="#222" stroke-width="1"/>
<text x="157.7" y="470.3" font-size="8.6" fill="#2a2a2a" text-anchor="end">100</text>
<line x1="58.1" y1="568.9" x2="140.5" y2="568.9" stroke="#222" stroke-width="1.3"/>
<line x1="161.9" y1="568.9" x2="241.5" y2="568.9" stroke="#222" stroke-width="1.3"/>
<text x="34.5" y="516.6" font-size="9.4" fill="#2a2a2a" text-anchor="middle" textLength="76" lengthAdjust="spacingAndGlyphs" transform="rotate(-90 34.5 516.6)"><tspan font-style="italic">ASNS</tspan> methylation (%)</text>
<polyline points="75.6,437.4 75.6,435.4 104,435.4 104,437.4" fill="none" stroke="#333" stroke-width="0.9"/>
<polyline points="89.6,435.4 89.6,433.1 129.4,433.1 129.4,435.6" fill="none" stroke="#333" stroke-width="0.9"/>
<text x="110" y="430.6" font-size="7.4" fill="#2a2a2a" text-anchor="middle" textLength="28.99" lengthAdjust="spacingAndGlyphs">p=0.029</text>
<polyline points="103.5,451.2 103.5,449.2 129.4,449.2 129.4,451.2" fill="none" stroke="#333" stroke-width="0.9"/>
<text x="116" y="445.6" font-size="7.4" fill="#2a2a2a" text-anchor="middle" textLength="28.59" lengthAdjust="spacingAndGlyphs">p=0.081</text>
<polyline points="75.6,465.8 75.6,463.8 129.4,463.8 129.4,465.8" fill="none" stroke="#333" stroke-width="0.9"/>
<text x="102.25" y="459.6" font-size="7.4" fill="#2a2a2a" text-anchor="middle" textLength="29.09" lengthAdjust="spacingAndGlyphs">p=0.047</text>
<polyline points="174.3,437.4 174.3,435.4 202.5,435.4 202.5,437.4" fill="none" stroke="#333" stroke-width="0.9"/>
<polyline points="188.5,435.4 188.5,433.3 228.3,433.3 228.3,435.8" fill="none" stroke="#333" stroke-width="0.9"/>
<text x="208" y="430.4" font-size="7.4" fill="#2a2a2a" text-anchor="middle" textLength="29.79" lengthAdjust="spacingAndGlyphs">p=0.007</text>
<polyline points="201.4,451.6 201.4,449.6 228.3,449.6 228.3,451.6" fill="none" stroke="#333" stroke-width="0.9"/>
<text x="214.6" y="445.2" font-size="7.4" fill="#2a2a2a" text-anchor="middle" textLength="29.19" lengthAdjust="spacingAndGlyphs">p=0.011</text>
<polyline points="174.3,466.4 174.3,464.4 228.3,464.4 228.3,466.4" fill="none" stroke="#333" stroke-width="0.9"/>
<text x="201" y="460.3" font-size="7.4" fill="#2a2a2a" text-anchor="middle" textLength="29.79" lengthAdjust="spacingAndGlyphs">p=0.133</text>
<text x="77.4" y="576.8" font-size="8.6" fill="#2a2a2a" text-anchor="end" transform="rotate(-45 77.4 576.8)">One</text>
<text x="104.8" y="577.4" font-size="8.6" fill="#2a2a2a" text-anchor="end" transform="rotate(-45 104.8 577.4)">Two</text>
<text x="133.7" y="575.9" font-size="8.6" fill="#2a2a2a" text-anchor="end" transform="rotate(-45 133.7 575.9)">Three</text>
<text x="207.9" y="575.7" font-size="8.6" fill="#2a2a2a" text-anchor="end" transform="rotate(-45 207.9 575.7)">Two</text>
<text x="235.6" y="575.7" font-size="8.6" fill="#2a2a2a" text-anchor="end" transform="rotate(-45 235.6 575.7)">Three</text>
<text x="180" y="577" font-size="8.6" fill="#2a2a2a" text-anchor="end" transform="rotate(-45 180 577)">One or</text>
<text x="182.3" y="586.3" font-size="8.6" fill="#2a2a2a" text-anchor="end" transform="rotate(-45 182.3 586.3)">less</text>
<text x="29.8" y="571.9" font-size="7.4" fill="#2a2a2a" text-anchor="middle" textLength="22.19" lengthAdjust="spacingAndGlyphs">No. of</text>
<text x="29.7" y="581.6" font-size="7.4" fill="#2a2a2a" text-anchor="middle" textLength="31.19" lengthAdjust="spacingAndGlyphs">trisomies</text>
<text x="29.2" y="590.6" font-size="7.4" fill="#2a2a2a" text-anchor="middle" textLength="44.79" lengthAdjust="spacingAndGlyphs">4, 10, and 17</text>
<text x="100.15" y="604.1" font-size="10.4" fill="#2a2a2a" text-anchor="middle" textLength="27.33" lengthAdjust="spacingAndGlyphs">NOPHO</text>
<text x="201.85" y="604.1" font-size="10.4" fill="#2a2a2a" text-anchor="middle" textLength="19.33" lengthAdjust="spacingAndGlyphs">CCCS</text>
</svg></body></html>
